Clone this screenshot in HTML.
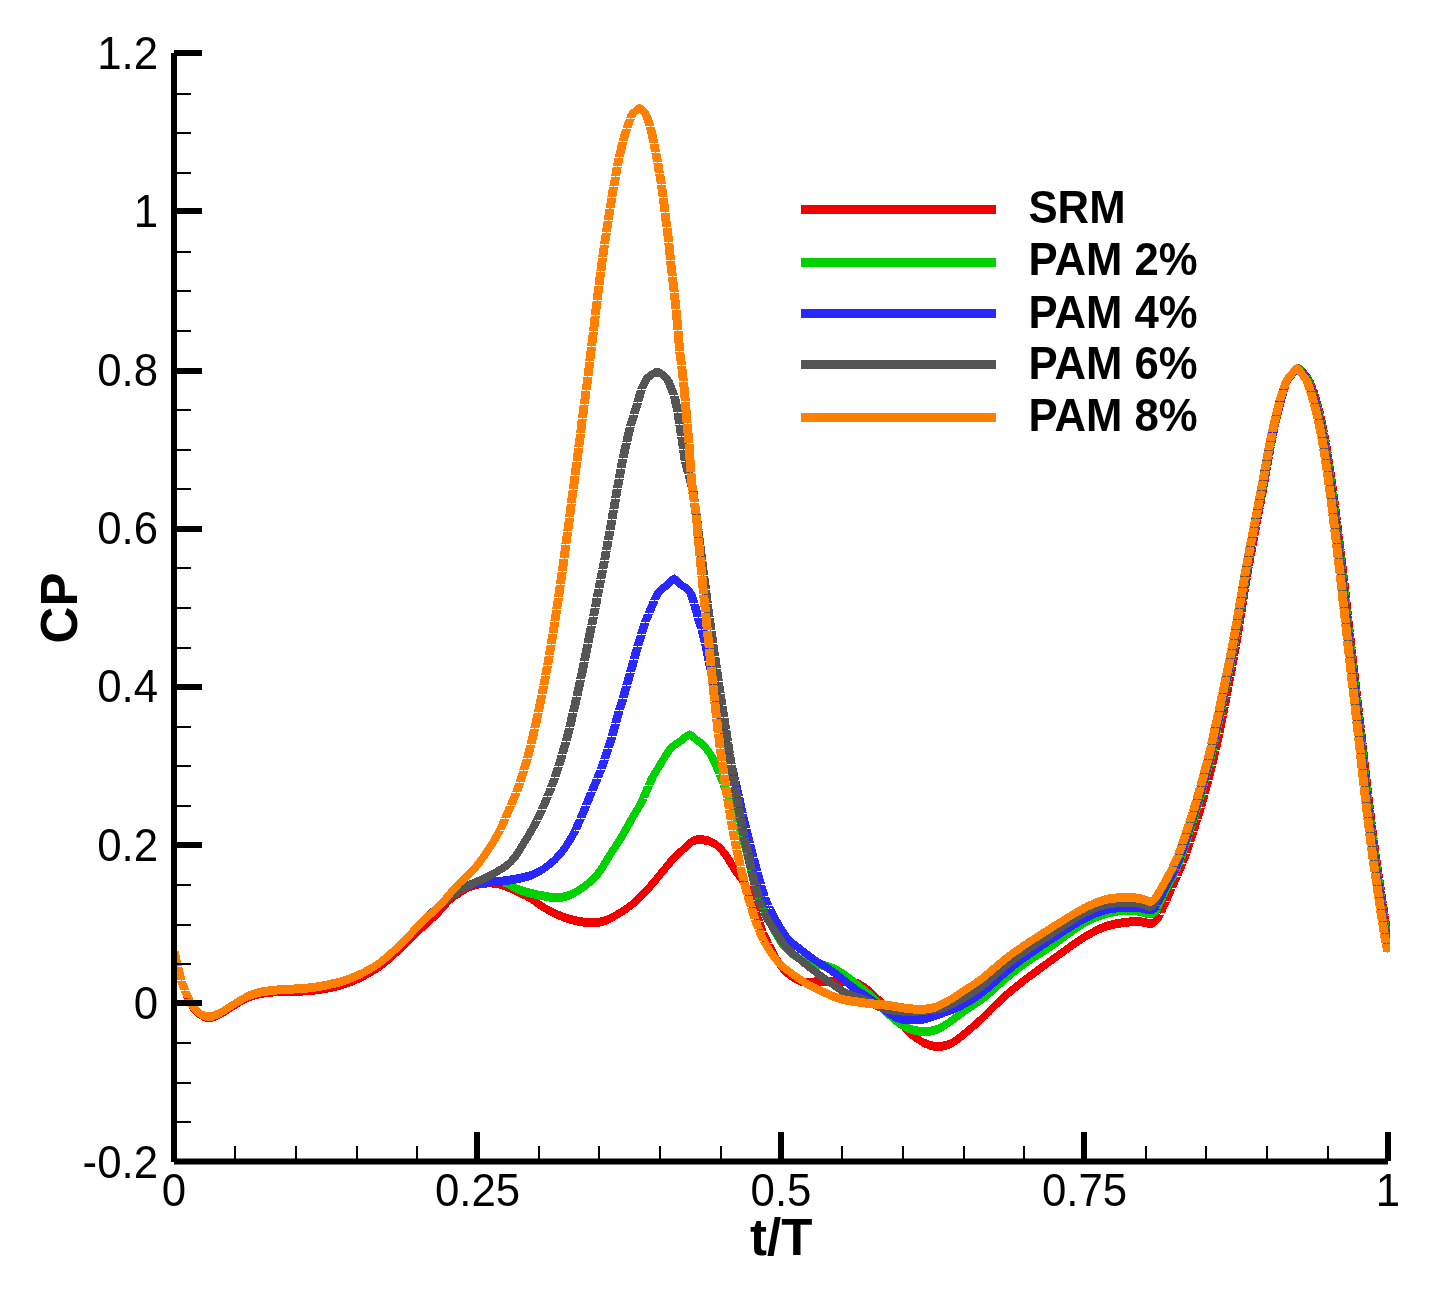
<!DOCTYPE html>
<html lang="en">
<head>
<meta charset="utf-8">
<title>CP vs t/T</title>
<style>
html,body{margin:0;padding:0;background:#fff;}
body{width:1449px;height:1299px;overflow:hidden;}
svg{display:block;}
text{font-family:"Liberation Sans",Arial,Helvetica,sans-serif;fill:#000;}
.n{font-size:46px;}
.t{font-size:51px;font-weight:bold;}
.l{font-size:45.5px;font-weight:bold;}
</style>
</head>
<body>
<svg width="1449" height="1299" viewBox="0 0 1449 1299">
<rect width="1449" height="1299" fill="#fff"/>
<defs><clipPath id="pc"><rect x="174" y="40" width="1216" height="1121"/></clipPath></defs>
<g clip-path="url(#pc)" shape-rendering="crispEdges">
<path fill="#f20000" d="M169.5,952L178.5,952L181.9,966L172.9,966ZM173.2,967L182.2,967L185.6,980L176.6,980ZM176.9,981L185.9,981L189.2,990L180.2,990ZM180.5,991L189.5,991L194.6,1002L185.6,1002ZM186.1,1003.2L187.9,1006.4L189.7,1009.1L191.6,1011.3L200.6,1011.3L198.7,1009.1L196.9,1006.4L195.1,1003.2ZM196.1,1006.8L197.9,1008.6L199.8,1010L201.6,1011.1L203.4,1012L205.3,1012.6L207.1,1013L208.9,1013.1L210.8,1013L212.6,1012.7L214.5,1012.1L216.3,1011.5L218.1,1010.6L220,1009.7L221.8,1008.7L223.7,1007.7L225.5,1006.5L227.3,1005.4L229.2,1004.2L231,1003L232.9,1001.8L234.7,1000.6L236.5,999.4L238.4,998.3L240.2,997.2L242.1,996.2L243.9,995.2L245.7,994.2L247.6,993.3L249.4,992.5L251.3,991.8L253.1,991.1L254.9,990.5L256.8,990L258.6,989.5L260.5,989.1L262.3,988.8L264.1,988.5L266,988.2L267.8,988L269.6,987.8L271.5,987.7L273.3,987.5L275.2,987.4L277,987.2L278.8,987.1L280.7,987L282.5,987L284.4,986.9L286.2,986.8L288,986.8L289.9,986.7L291.7,986.7L293.6,986.7L295.4,986.6L297.2,986.6L299.1,986.6L300.9,986.5L302.8,986.5L304.6,986.4L306.4,986.3L308.3,986.2L310.1,986L312,985.8L313.8,985.6L315.6,985.4L317.5,985.2L319.3,984.9L321.2,984.6L323,984.3L324.8,984L326.7,983.7L328.5,983.3L330.3,983L332.2,982.6L334,982.2L335.9,981.7L337.7,981.3L339.5,980.8L341.4,980.3L343.2,979.7L345.1,979.2L346.9,978.6L348.7,977.9L350.6,977.3L352.4,976.6L354.3,975.8L356.1,975L357.9,974.2L359.8,973.4L361.6,972.5L363.5,971.6L365.3,970.7L367.1,969.7L369,968.7L370.8,967.7L372.7,966.6L374.5,965.5L376.3,964.3L378.2,963L380,961.7L381.9,960.3L383.7,958.8L385.5,957.3L387.4,955.8L389.2,954.2L391,952.6L392.9,950.9L394.7,949.3L396.6,947.6L398.4,945.9L400.2,944.2L402.1,942.4L403.9,940.6L405.8,938.8L407.6,937L409.4,935.2L411.3,933.4L413.1,931.6L415,929.8L416.8,928L418.6,926.2L420.5,924.5L422.3,922.8L424.2,921.1L426,919.4L427.8,917.8L429.7,916.2L431.5,914.5L433.4,912.8L435.2,911L435.2,920L433.4,921.8L431.5,923.5L429.7,925.2L427.8,926.8L426,928.4L424.2,930.1L422.3,931.8L420.5,933.5L418.6,935.2L416.8,937L415,938.8L413.1,940.6L411.3,942.4L409.4,944.2L407.6,946L405.8,947.8L403.9,949.6L402.1,951.4L400.2,953.2L398.4,954.9L396.6,956.6L394.7,958.3L392.9,959.9L391,961.6L389.2,963.2L387.4,964.8L385.5,966.3L383.7,967.8L381.9,969.3L380,970.7L378.2,972L376.3,973.3L374.5,974.5L372.7,975.6L370.8,976.7L369,977.7L367.1,978.7L365.3,979.7L363.5,980.6L361.6,981.5L359.8,982.4L357.9,983.2L356.1,984L354.3,984.8L352.4,985.6L350.6,986.3L348.7,986.9L346.9,987.6L345.1,988.2L343.2,988.7L341.4,989.3L339.5,989.8L337.7,990.3L335.9,990.7L334,991.2L332.2,991.6L330.3,992L328.5,992.3L326.7,992.7L324.8,993L323,993.3L321.2,993.6L319.3,993.9L317.5,994.2L315.6,994.4L313.8,994.6L312,994.8L310.1,995L308.3,995.2L306.4,995.3L304.6,995.4L302.8,995.5L300.9,995.5L299.1,995.6L297.2,995.6L295.4,995.6L293.6,995.7L291.7,995.7L289.9,995.7L288,995.8L286.2,995.8L284.4,995.9L282.5,996L280.7,996L278.8,996.1L277,996.2L275.2,996.4L273.3,996.5L271.5,996.7L269.6,996.8L267.8,997L266,997.2L264.1,997.5L262.3,997.8L260.5,998.1L258.6,998.5L256.8,999L254.9,999.5L253.1,1000.1L251.3,1000.8L249.4,1001.5L247.6,1002.3L245.7,1003.2L243.9,1004.2L242.1,1005.2L240.2,1006.2L238.4,1007.3L236.5,1008.4L234.7,1009.6L232.9,1010.8L231,1012L229.2,1013.2L227.3,1014.4L225.5,1015.5L223.7,1016.7L221.8,1017.7L220,1018.7L218.1,1019.6L216.3,1020.5L214.5,1021.1L212.6,1021.7L210.8,1022L208.9,1022.1L207.1,1022L205.3,1021.6L203.4,1021L201.6,1020.1L199.8,1019L197.9,1017.6L196.1,1015.8ZM430.7,915.5L432.5,913.7L434.4,911.7L436.2,909.6L438.1,907.5L439.9,905.4L441.7,903.3L443.6,901.4L452.6,901.4L450.7,903.3L448.9,905.4L447.1,907.5L445.2,909.6L443.4,911.7L441.5,913.7L439.7,915.5ZM448.1,896.9L449.9,895.2L451.7,893.7L453.6,892.3L455.4,891.1L457.3,889.9L459.1,888.6L460.9,887.4L462.8,886.2L464.6,885.1L466.5,884L468.3,883L470.1,882.2L472,881.4L473.8,880.8L475.7,880.2L477.5,879.8L479.3,879.4L481.2,879.1L483,878.8L484.9,878.6L486.7,878.5L488.5,878.4L490.4,878.4L492.2,878.5L494.1,878.6L495.9,878.9L497.7,879.3L499.6,879.7L501.4,880.3L503.3,881L505.1,881.7L506.9,882.4L508.8,883.2L510.6,883.9L512.4,884.7L514.3,885.6L516.1,886.4L518,887.3L519.8,888.2L521.6,889.1L523.5,890L525.3,890.9L527.2,891.9L529,893L530.8,894.1L532.7,895.3L534.5,896.6L536.4,898L538.2,899.3L540,900.6L541.9,901.8L543.7,903L545.6,904.1L547.4,905.1L549.2,906.1L551.1,907L552.9,907.9L554.8,908.8L556.6,909.6L558.4,910.5L560.3,911.3L562.1,912.1L564,912.9L565.8,913.5L567.6,914.2L569.5,914.7L571.3,915.2L573.1,915.6L575,916L576.8,916.4L578.7,916.8L580.5,917.1L582.3,917.4L584.2,917.6L586,917.7L587.9,917.8L589.7,917.9L591.5,917.9L593.4,917.9L595.2,917.8L597.1,917.8L598.9,917.6L600.7,917.4L602.6,917L604.4,916.5L606.3,915.8L608.1,915L609.9,914L611.8,913L613.6,912L615.5,911L617.3,909.9L619.1,908.9L621,907.8L622.8,906.6L624.7,905.4L626.5,904.1L628.3,902.8L630.2,901.4L632,900L633.8,898.5L635.7,896.8L637.5,895.2L639.4,893.5L641.2,891.7L641.2,900.7L639.4,902.5L637.5,904.2L635.7,905.8L633.8,907.5L632,909L630.2,910.4L628.3,911.8L626.5,913.1L624.7,914.4L622.8,915.6L621,916.8L619.1,917.9L617.3,918.9L615.5,920L613.6,921L611.8,922L609.9,923L608.1,924L606.3,924.8L604.4,925.5L602.6,926L600.7,926.4L598.9,926.6L597.1,926.8L595.2,926.8L593.4,926.9L591.5,926.9L589.7,926.9L587.9,926.8L586,926.7L584.2,926.6L582.3,926.4L580.5,926.1L578.7,925.8L576.8,925.4L575,925L573.1,924.6L571.3,924.2L569.5,923.7L567.6,923.2L565.8,922.5L564,921.9L562.1,921.1L560.3,920.3L558.4,919.5L556.6,918.6L554.8,917.8L552.9,916.9L551.1,916L549.2,915.1L547.4,914.1L545.6,913.1L543.7,912L541.9,910.8L540,909.6L538.2,908.3L536.4,907L534.5,905.6L532.7,904.3L530.8,903.1L529,902L527.2,900.9L525.3,899.9L523.5,899L521.6,898.1L519.8,897.2L518,896.3L516.1,895.4L514.3,894.6L512.4,893.7L510.6,892.9L508.8,892.2L506.9,891.4L505.1,890.7L503.3,890L501.4,889.3L499.6,888.7L497.7,888.3L495.9,887.9L494.1,887.6L492.2,887.5L490.4,887.4L488.5,887.4L486.7,887.5L484.9,887.6L483,887.8L481.2,888.1L479.3,888.4L477.5,888.8L475.7,889.2L473.8,889.8L472,890.4L470.1,891.2L468.3,892L466.5,893L464.6,894.1L462.8,895.2L460.9,896.4L459.1,897.6L457.3,898.9L455.4,900.1L453.6,901.3L451.7,902.7L449.9,904.2L448.1,905.9ZM636.7,896.2L638.5,894.3L640.4,892.4L642.2,890.3L644.1,888.2L645.9,886.2L647.7,884.1L649.6,881.9L651.4,879.7L653.3,877.5L655.1,875.2L656.9,873L658.8,870.8L660.6,868.5L662.5,866.2L664.3,864L666.1,861.8L668,859.7L669.8,857.8L671.7,855.9L680.7,855.9L678.8,857.8L677,859.7L675.1,861.8L673.3,864L671.5,866.2L669.6,868.5L667.8,870.8L665.9,873L664.1,875.2L662.3,877.5L660.4,879.7L658.6,881.9L656.7,884.1L654.9,886.2L653.1,888.2L651.2,890.3L649.4,892.4L647.5,894.3L645.7,896.2ZM676.2,851.4L678,849.7L679.8,847.9L681.7,846.3L683.5,844.6L685.4,842.8L687.2,841L689,839.2L690.9,837.7L692.7,836.6L694.5,835.9L696.4,835.3L698.2,835.1L700.1,835.1L701.9,835.3L703.7,835.4L705.6,835.7L707.4,836.1L709.3,836.7L711.1,837.4L712.9,838.3L714.8,839.4L716.6,840.7L718.5,842.2L720.3,844L720.3,853L718.5,851.2L716.6,849.7L714.8,848.4L712.9,847.3L711.1,846.4L709.3,845.7L707.4,845.1L705.6,844.7L703.7,844.4L701.9,844.3L700.1,844.1L698.2,844.1L696.4,844.3L694.5,844.9L692.7,845.6L690.9,846.7L689,848.2L687.2,850L685.4,851.8L683.5,853.6L681.7,855.3L679.8,856.9L678,858.7L676.2,860.4ZM715.8,848.5L717.6,850.5L719.5,852.7L721.3,855.3L723.2,858L725,860.9L726.8,864L728.7,867L730.5,870L732.4,872.7L734.2,875.2L736,877.7L737.9,880.3L739.7,883.1L741.6,886.5L750.6,886.5L748.7,883.1L746.9,880.3L745,877.7L743.2,875.2L741.4,872.7L739.5,870L737.7,867L735.8,864L734,860.9L732.2,858L730.3,855.3L728.5,852.7L726.6,850.5L724.8,848.5ZM741.6,887L750.6,887L755.7,900L746.7,900ZM747.1,901L756.1,901L759.4,911L750.4,911ZM750.7,912L759.7,912L763.1,921L754.1,921ZM754.4,922L763.4,922L766.7,931L757.7,931ZM758.1,932L767.1,932L772.2,943L763.2,943ZM763.6,944L772.6,944L773.9,946L764.9,946ZM765.5,947.2L767.3,950.8L769.1,954.2L771,957.5L772.8,960.6L774.7,963.4L776.5,966L778.3,968.4L780.2,970.5L782,972.4L791,972.4L789.2,970.5L787.3,968.4L785.5,966L783.7,963.4L781.8,960.6L780,957.5L778.1,954.2L776.3,950.8L774.5,947.2ZM786.5,967.9L788.4,969.5L790.2,971L792,972.3L793.9,973.5L795.7,974.5L797.6,975.4L799.4,976.2L801.2,976.8L803.1,977.3L804.9,977.6L806.8,977.7L808.6,977.8L810.4,977.7L812.3,977.7L814.1,977.5L815.9,977.4L817.8,977.3L819.6,977.2L821.5,977.1L823.3,977L825.1,976.9L827,976.9L828.8,976.9L830.7,976.8L832.5,976.8L834.3,976.8L836.2,976.8L838,976.8L839.9,976.8L841.7,976.8L843.5,976.8L845.4,976.8L847.2,976.8L849.1,977L850.9,977.2L852.7,977.5L854.6,978L856.4,978.6L858.3,979.3L860.1,980.2L861.9,981.3L863.8,982.4L865.6,983.7L867.5,985.2L869.3,986.7L871.1,988.4L873,990.1L874.8,991.8L876.6,993.6L878.5,995.3L880.3,997L882.2,998.6L884,1000.3L885.8,1002L887.7,1003.8L889.5,1005.6L889.5,1014.6L887.7,1012.8L885.8,1011L884,1009.3L882.2,1007.6L880.3,1006L878.5,1004.3L876.6,1002.6L874.8,1000.8L873,999.1L871.1,997.4L869.3,995.7L867.5,994.2L865.6,992.7L863.8,991.4L861.9,990.3L860.1,989.2L858.3,988.3L856.4,987.6L854.6,987L852.7,986.5L850.9,986.2L849.1,986L847.2,985.8L845.4,985.8L843.5,985.8L841.7,985.8L839.9,985.8L838,985.8L836.2,985.8L834.3,985.8L832.5,985.8L830.7,985.8L828.8,985.9L827,985.9L825.1,985.9L823.3,986L821.5,986.1L819.6,986.2L817.8,986.3L815.9,986.4L814.1,986.5L812.3,986.7L810.4,986.7L808.6,986.8L806.8,986.7L804.9,986.6L803.1,986.3L801.2,985.8L799.4,985.2L797.6,984.4L795.7,983.5L793.9,982.5L792,981.3L790.2,980L788.4,978.5L786.5,976.9ZM885,1010.1L886.9,1011.9L888.7,1013.9L890.5,1015.9L892.4,1017.9L894.2,1020.1L896.1,1022.3L897.9,1024.5L899.7,1026.7L901.6,1028.9L903.4,1030.9L905.3,1032.7L914.3,1032.7L912.4,1030.9L910.6,1028.9L908.7,1026.7L906.9,1024.5L905.1,1022.3L903.2,1020.1L901.4,1017.9L899.5,1015.9L897.7,1013.9L895.9,1011.9L894,1010.1ZM909.8,1028.2L911.6,1029.9L913.4,1031.4L915.3,1032.9L917.1,1034.2L919,1035.4L920.8,1036.5L922.6,1037.6L924.5,1038.5L926.3,1039.4L928.2,1040.1L930,1040.7L931.8,1041.2L933.7,1041.6L935.5,1041.8L937.3,1041.9L939.2,1041.9L941,1041.8L942.9,1041.6L944.7,1041.2L946.5,1040.7L948.4,1040.1L950.2,1039.3L952.1,1038.4L953.9,1037.3L955.7,1036.1L957.6,1034.8L959.4,1033.4L961.3,1031.9L963.1,1030.4L964.9,1028.9L966.8,1027.4L968.6,1025.8L970.5,1024.3L972.3,1022.7L974.1,1021.1L976,1019.5L977.8,1017.9L979.7,1016.2L981.5,1014.5L983.3,1012.7L985.2,1010.9L985.2,1019.9L983.3,1021.7L981.5,1023.5L979.7,1025.2L977.8,1026.9L976,1028.5L974.1,1030.1L972.3,1031.7L970.5,1033.3L968.6,1034.8L966.8,1036.4L964.9,1037.9L963.1,1039.4L961.3,1040.9L959.4,1042.4L957.6,1043.8L955.7,1045.1L953.9,1046.3L952.1,1047.4L950.2,1048.3L948.4,1049.1L946.5,1049.7L944.7,1050.2L942.9,1050.6L941,1050.8L939.2,1050.9L937.3,1050.9L935.5,1050.8L933.7,1050.6L931.8,1050.2L930,1049.7L928.2,1049.1L926.3,1048.4L924.5,1047.5L922.6,1046.6L920.8,1045.5L919,1044.4L917.1,1043.2L915.3,1041.9L913.4,1040.4L911.6,1038.9L909.8,1037.2ZM980.7,1015.4L982.5,1013.5L984.4,1011.7L986.2,1009.8L988,1008L997,1008L995.2,1009.8L993.4,1011.7L991.5,1013.5L989.7,1015.4ZM992.5,1003.5L994.4,1001.6L996.2,999.9L998,998.1L999.9,996.4L1001.7,994.6L1003.6,993L1005.4,991.3L1007.2,989.7L1009.1,988.1L1010.9,986.5L1012.8,985L1014.6,983.5L1016.4,982L1018.3,980.5L1020.1,979.1L1022,977.6L1023.8,976.2L1025.6,974.8L1027.5,973.4L1029.3,972.1L1031.2,970.7L1033,969.3L1034.8,967.9L1036.7,966.6L1038.5,965.2L1040.4,963.9L1042.2,962.5L1044,961.2L1045.9,959.8L1047.7,958.5L1049.6,957.1L1051.4,955.8L1053.2,954.4L1055.1,953.1L1056.9,951.8L1058.7,950.4L1060.6,949.1L1062.4,947.8L1064.3,946.5L1066.1,945.1L1067.9,943.8L1069.8,942.5L1071.6,941.2L1073.5,939.9L1075.3,938.6L1077.1,937.4L1079,936.1L1080.8,934.9L1082.7,933.7L1084.5,932.5L1086.3,931.4L1088.2,930.3L1090,929.3L1091.9,928.3L1093.7,927.3L1095.5,926.4L1097.4,925.5L1099.2,924.6L1101.1,923.8L1102.9,923.1L1104.7,922.4L1106.6,921.8L1108.4,921.2L1110.3,920.7L1112.1,920.2L1113.9,919.8L1115.8,919.4L1117.6,919.1L1119.4,918.7L1121.3,918.4L1123.1,918.1L1125,917.9L1126.8,917.7L1128.6,917.5L1130.5,917.3L1132.3,917.2L1134.2,917.1L1136,917.1L1137.8,917.2L1139.7,917.2L1141.5,917.4L1143.4,917.8L1145.2,918.2L1147,918.6L1148.9,919.1L1150.7,919.3L1152.6,918.8L1154.4,917.6L1156.2,915.8L1156.2,924.8L1154.4,926.6L1152.6,927.8L1150.7,928.3L1148.9,928.1L1147,927.6L1145.2,927.2L1143.4,926.8L1141.5,926.4L1139.7,926.2L1137.8,926.2L1136,926.1L1134.2,926.1L1132.3,926.2L1130.5,926.3L1128.6,926.5L1126.8,926.7L1125,926.9L1123.1,927.1L1121.3,927.4L1119.4,927.7L1117.6,928.1L1115.8,928.4L1113.9,928.8L1112.1,929.2L1110.3,929.7L1108.4,930.2L1106.6,930.8L1104.7,931.4L1102.9,932.1L1101.1,932.8L1099.2,933.6L1097.4,934.5L1095.5,935.4L1093.7,936.3L1091.9,937.3L1090,938.3L1088.2,939.3L1086.3,940.4L1084.5,941.5L1082.7,942.7L1080.8,943.9L1079,945.1L1077.1,946.4L1075.3,947.6L1073.5,948.9L1071.6,950.2L1069.8,951.5L1067.9,952.8L1066.1,954.1L1064.3,955.5L1062.4,956.8L1060.6,958.1L1058.7,959.4L1056.9,960.8L1055.1,962.1L1053.2,963.4L1051.4,964.8L1049.6,966.1L1047.7,967.5L1045.9,968.8L1044,970.2L1042.2,971.5L1040.4,972.9L1038.5,974.2L1036.7,975.6L1034.8,976.9L1033,978.3L1031.2,979.7L1029.3,981.1L1027.5,982.4L1025.6,983.8L1023.8,985.2L1022,986.6L1020.1,988.1L1018.3,989.5L1016.4,991L1014.6,992.5L1012.8,994L1010.9,995.5L1009.1,997.1L1007.2,998.7L1005.4,1000.3L1003.6,1002L1001.7,1003.6L999.9,1005.4L998,1007.1L996.2,1008.9L994.4,1010.6L992.5,1012.5ZM1151.7,920.3L1153.6,917.8L1155.4,914.5L1164.4,914.5L1162.6,917.8L1160.7,920.3ZM1155.9,913L1164.9,913L1169.9,902L1160.9,902ZM1161.4,901L1170.4,901L1175.5,889L1166.5,889ZM1166.9,888L1175.9,888L1181,877L1172,877ZM1172.4,876L1181.4,876L1186.5,864L1177.5,864ZM1177.9,863L1186.9,863L1190.2,854L1181.2,854ZM1181.5,853L1190.5,853L1193.8,843L1184.8,843ZM1185.2,842L1194.2,842L1197.5,832L1188.5,832ZM1188.8,831L1197.8,831L1201.2,820L1192.2,820ZM1192.5,819L1201.5,819L1204.9,808L1195.9,808ZM1196.2,807L1205.2,807L1208.6,795L1199.6,795ZM1199.8,794L1208.8,794L1212.2,781L1203.2,781ZM1203.5,780L1212.5,780L1215.9,766L1206.9,766ZM1207.2,765L1216.2,765L1219.6,751L1210.6,751ZM1210.8,750L1219.8,750L1223.3,734L1214.3,734ZM1214.5,733L1223.5,733L1227,716L1218,716ZM1218.2,715L1227.2,715L1228.8,707L1219.8,707ZM1220,706L1229,706L1230.6,697L1221.6,697ZM1221.8,696L1230.8,696L1232.5,687L1223.5,687ZM1223.7,686L1232.7,686L1234.3,677L1225.3,677ZM1225.5,676L1234.5,676L1236.2,667L1227.2,667ZM1227.3,666L1236.3,666L1238,657L1229,657ZM1229.2,656L1238.2,656L1239.8,647L1230.8,647ZM1231,646L1240,646L1241.7,636L1232.7,636ZM1232.8,635L1241.8,635L1243.5,625L1234.5,625ZM1234.7,624L1243.7,624L1245.3,613L1236.3,613ZM1236.5,612L1245.5,612L1247.2,601L1238.2,601ZM1238.3,600L1247.3,600L1249,589L1240,589ZM1240.2,588L1249.2,588L1250.9,578L1241.9,578ZM1242,577L1251,577L1252.7,567L1243.7,567ZM1243.9,566L1252.9,566L1254.5,557L1245.5,557ZM1245.7,556L1254.7,556L1256.4,547L1247.4,547ZM1247.6,546L1256.6,546L1258.2,537L1249.2,537ZM1249.4,536L1258.4,536L1260.1,527L1251.1,527ZM1251.2,526L1260.2,526L1261.9,517L1252.9,517ZM1253.1,516L1262.1,516L1263.7,508L1254.7,508ZM1254.9,507L1263.9,507L1265.6,498L1256.6,498ZM1256.8,497L1265.8,497L1267.4,488L1258.4,488ZM1258.6,487L1267.6,487L1269.3,478L1260.3,478ZM1260.4,477L1269.4,477L1271.1,467L1262.1,467ZM1262.3,466L1271.3,466L1272.9,457L1263.9,457ZM1264.1,456L1273.1,456L1274.8,447L1265.8,447ZM1266,446L1275,446L1276.6,437L1267.6,437ZM1267.8,436L1276.8,436L1278.5,428L1269.5,428ZM1269.7,427L1278.7,427L1282.1,412L1273.1,412ZM1273.4,411L1282.4,411L1285.8,398L1276.8,398ZM1277.1,397L1286.1,397L1289.5,386L1280.5,386ZM1280.9,385L1289.9,385L1291.3,381L1282.3,381ZM1282.3,381.1L1284.2,377.9L1286,376.1L1287.9,374.2L1289.7,372.1L1291.5,370L1300.5,370L1298.7,372.1L1296.9,374.2L1295,376.1L1293.2,377.9L1291.3,381.1ZM1296,365.5L1297.9,364.2L1299.7,364.2L1301.5,365.7L1301.5,374.7L1299.7,373.2L1297.9,373.2L1296,374.5ZM1297,370.2L1298.9,372.6L1300.7,375L1302.6,377.3L1304.4,380.3L1313.4,380.3L1311.6,377.3L1309.7,375L1307.9,372.6L1306,370.2ZM1304.4,380L1313.4,380L1316.7,388L1307.7,388ZM1308.1,389L1317.1,389L1320.5,400L1311.5,400ZM1311.8,401L1320.8,401L1324.2,414L1315.2,414ZM1315.4,415L1324.4,415L1327.9,432L1318.9,432ZM1319.1,433L1328.1,433L1329.8,442L1320.8,442ZM1321,443L1330,443L1331.6,453L1322.6,453ZM1322.8,454L1331.8,454L1333.5,465L1324.5,465ZM1324.6,466L1333.6,466L1335.3,478L1326.3,478ZM1326.5,479L1335.5,479L1337.2,491L1328.2,491ZM1328.3,492L1337.3,492L1339,505L1330,505ZM1330.2,506L1339.2,506L1340.9,520L1331.9,520ZM1332,521L1341,521L1342.7,535L1333.7,535ZM1333.8,536L1342.8,536L1344.6,550L1335.6,550ZM1335.7,551L1344.7,551L1346.4,565L1337.4,565ZM1337.5,566L1346.5,566L1348.2,581L1339.2,581ZM1339.4,582L1348.4,582L1350.1,598L1341.1,598ZM1341.2,599L1350.2,599L1351.9,615L1342.9,615ZM1343,616L1352,616L1353.8,632L1344.8,632ZM1344.9,633L1353.9,633L1355.6,648L1346.6,648ZM1346.7,649L1355.7,649L1357.4,664L1348.4,664ZM1348.6,665L1357.6,665L1359.3,680L1350.3,680ZM1350.4,681L1359.4,681L1361.1,696L1352.1,696ZM1352.2,697L1361.2,697L1363,712L1354,712ZM1354.1,713L1363.1,713L1364.8,728L1355.8,728ZM1355.9,729L1364.9,729L1366.6,744L1357.6,744ZM1357.7,745L1366.7,745L1368.5,761L1359.5,761ZM1359.6,762L1368.6,762L1370.3,777L1361.3,777ZM1361.4,778L1370.4,778L1372.2,794L1363.2,794ZM1363.3,795L1372.3,795L1374,809L1365,809ZM1365.1,810L1374.1,810L1375.8,824L1366.8,824ZM1366.9,825L1375.9,825L1377.7,839L1368.7,839ZM1368.8,840L1377.8,840L1379.5,853L1370.5,853ZM1370.6,854L1379.6,854L1381.3,866L1372.3,866ZM1372.5,867L1381.5,867L1383.1,878L1374.1,878ZM1374.3,879L1383.3,879L1385,890L1376,890ZM1376.1,891L1385.1,891L1386.8,903L1377.8,903ZM1378,904L1387,904L1388.7,915L1379.7,915ZM1379.8,916L1388.8,916L1390.5,927L1381.5,927ZM1381.7,928L1390.7,928L1392.3,938L1383.3,938Z"/>
<path fill="none" stroke="#f20000" stroke-width="7.7" stroke-linejoin="round" d="M190.6,1003.2L192.4,1006.4L194.2,1009.1L196.1,1011.3L197.9,1013.1L199.8,1014.5L201.6,1015.6L203.4,1016.5L205.3,1017.1L207.1,1017.5L208.9,1017.6L210.8,1017.5L212.6,1017.2L214.5,1016.6L216.3,1016L218.1,1015.1L220,1014.2L221.8,1013.2L223.7,1012.2L225.5,1011L227.3,1009.9L229.2,1008.7L231,1007.5L232.9,1006.3L234.7,1005.1L236.5,1003.9L238.4,1002.8L240.2,1001.7L242.1,1000.7L243.9,999.7L245.7,998.7L247.6,997.8L249.4,997L251.3,996.3L253.1,995.6L254.9,995L256.8,994.5L258.6,994L260.5,993.6L262.3,993.3L264.1,993L266,992.7L267.8,992.5L269.6,992.3L271.5,992.2L273.3,992L275.2,991.9L277,991.7L278.8,991.6L280.7,991.5L282.5,991.5L284.4,991.4L286.2,991.3L288,991.3L289.9,991.2L291.7,991.2L293.6,991.2L295.4,991.1L297.2,991.1L299.1,991.1L300.9,991L302.8,991L304.6,990.9L306.4,990.8L308.3,990.7L310.1,990.5L312,990.3L313.8,990.1L315.6,989.9L317.5,989.7L319.3,989.4L321.2,989.1L323,988.8L324.8,988.5L326.7,988.2L328.5,987.8L330.3,987.5L332.2,987.1L334,986.7L335.9,986.2L337.7,985.8L339.5,985.3L341.4,984.8L343.2,984.2L345.1,983.7L346.9,983.1L348.7,982.4L350.6,981.8L352.4,981.1L354.3,980.3L356.1,979.5L357.9,978.7L359.8,977.9L361.6,977L363.5,976.1L365.3,975.2L367.1,974.2L369,973.2L370.8,972.2L372.7,971.1L374.5,970L376.3,968.8L378.2,967.5L380,966.2L381.9,964.8L383.7,963.3L385.5,961.8L387.4,960.3L389.2,958.7L391,957.1L392.9,955.4L394.7,953.8L396.6,952.1L398.4,950.4L400.2,948.7L402.1,946.9L403.9,945.1L405.8,943.3L407.6,941.5L409.4,939.7L411.3,937.9L413.1,936.1L415,934.3L416.8,932.5L418.6,930.7L420.5,929L422.3,927.3L424.2,925.6L426,923.9L427.8,922.3L429.7,920.7L431.5,919L433.4,917.3L435.2,915.5L437,913.7L438.9,911.7L440.7,909.6L442.6,907.5L444.4,905.4L446.2,903.3L448.1,901.4L449.9,899.7L451.7,898.2L453.6,896.8L455.4,895.6L457.3,894.4L459.1,893.1L460.9,891.9L462.8,890.7L464.6,889.6L466.5,888.5L468.3,887.5L470.1,886.7L472,885.9L473.8,885.3L475.7,884.7L477.5,884.3L479.3,883.9L481.2,883.6L483,883.3L484.9,883.1L486.7,883L488.5,882.9L490.4,882.9L492.2,883L494.1,883.1L495.9,883.4L497.7,883.8L499.6,884.2L501.4,884.8L503.3,885.5L505.1,886.2L506.9,886.9L508.8,887.7L510.6,888.4L512.4,889.2L514.3,890.1L516.1,890.9L518,891.8L519.8,892.7L521.6,893.6L523.5,894.5L525.3,895.4L527.2,896.4L529,897.5L530.8,898.6L532.7,899.8L534.5,901.1L536.4,902.5L538.2,903.8L540,905.1L541.9,906.3L543.7,907.5L545.6,908.6L547.4,909.6L549.2,910.6L551.1,911.5L552.9,912.4L554.8,913.3L556.6,914.1L558.4,915L560.3,915.8L562.1,916.6L564,917.4L565.8,918L567.6,918.7L569.5,919.2L571.3,919.7L573.1,920.1L575,920.5L576.8,920.9L578.7,921.3L580.5,921.6L582.3,921.9L584.2,922.1L586,922.2L587.9,922.3L589.7,922.4L591.5,922.4L593.4,922.4L595.2,922.3L597.1,922.3L598.9,922.1L600.7,921.9L602.6,921.5L604.4,921L606.3,920.3L608.1,919.5L609.9,918.5L611.8,917.5L613.6,916.5L615.5,915.5L617.3,914.4L619.1,913.4L621,912.3L622.8,911.1L624.7,909.9L626.5,908.6L628.3,907.3L630.2,905.9L632,904.5L633.8,903L635.7,901.3L637.5,899.7L639.4,898L641.2,896.2L643,894.3L644.9,892.4L646.7,890.3L648.6,888.2L650.4,886.2L652.2,884.1L654.1,881.9L655.9,879.7L657.8,877.5L659.6,875.2L661.4,873L663.3,870.8L665.1,868.5L667,866.2L668.8,864L670.6,861.8L672.5,859.7L674.3,857.8L676.2,855.9L678,854.2L679.8,852.4L681.7,850.8L683.5,849.1L685.4,847.3L687.2,845.5L689,843.7L690.9,842.2L692.7,841.1L694.5,840.4L696.4,839.8L698.2,839.6L700.1,839.6L701.9,839.8L703.7,839.9L705.6,840.2L707.4,840.6L709.3,841.2L711.1,841.9L712.9,842.8L714.8,843.9L716.6,845.2L718.5,846.7L720.3,848.5L722.1,850.5L724,852.7L725.8,855.3L727.7,858L729.5,860.9L731.3,864L733.2,867L735,870L736.9,872.7L738.7,875.2L740.5,877.7L742.4,880.3L744.2,883.1L746.1,886.5M770,947.2L771.8,950.8L773.6,954.2L775.5,957.5L777.3,960.6L779.2,963.4L781,966L782.8,968.4L784.7,970.5L786.5,972.4L788.4,974L790.2,975.5L792,976.8L793.9,978L795.7,979L797.6,979.9L799.4,980.7L801.2,981.3L803.1,981.8L804.9,982.1L806.8,982.2L808.6,982.3L810.4,982.2L812.3,982.2L814.1,982L815.9,981.9L817.8,981.8L819.6,981.7L821.5,981.6L823.3,981.5L825.1,981.4L827,981.4L828.8,981.4L830.7,981.3L832.5,981.3L834.3,981.3L836.2,981.3L838,981.3L839.9,981.3L841.7,981.3L843.5,981.3L845.4,981.3L847.2,981.3L849.1,981.5L850.9,981.7L852.7,982L854.6,982.5L856.4,983.1L858.3,983.8L860.1,984.7L861.9,985.8L863.8,986.9L865.6,988.2L867.5,989.7L869.3,991.2L871.1,992.9L873,994.6L874.8,996.3L876.6,998.1L878.5,999.8L880.3,1001.5L882.2,1003.1L884,1004.8L885.8,1006.5L887.7,1008.3L889.5,1010.1L891.4,1011.9L893.2,1013.9L895,1015.9L896.9,1017.9L898.7,1020.1L900.6,1022.3L902.4,1024.5L904.2,1026.7L906.1,1028.9L907.9,1030.9L909.8,1032.7L911.6,1034.4L913.4,1035.9L915.3,1037.4L917.1,1038.7L919,1039.9L920.8,1041L922.6,1042.1L924.5,1043L926.3,1043.9L928.2,1044.6L930,1045.2L931.8,1045.7L933.7,1046.1L935.5,1046.3L937.3,1046.4L939.2,1046.4L941,1046.3L942.9,1046.1L944.7,1045.7L946.5,1045.2L948.4,1044.6L950.2,1043.8L952.1,1042.9L953.9,1041.8L955.7,1040.6L957.6,1039.3L959.4,1037.9L961.3,1036.4L963.1,1034.9L964.9,1033.4L966.8,1031.9L968.6,1030.3L970.5,1028.8L972.3,1027.2L974.1,1025.6L976,1024L977.8,1022.4L979.7,1020.7L981.5,1019L983.3,1017.2L985.2,1015.4L987,1013.5L988.9,1011.7L990.7,1009.8L992.5,1008L994.4,1006.1L996.2,1004.4L998,1002.6L999.9,1000.9L1001.7,999.1L1003.6,997.5L1005.4,995.8L1007.2,994.2L1009.1,992.6L1010.9,991L1012.8,989.5L1014.6,988L1016.4,986.5L1018.3,985L1020.1,983.6L1022,982.1L1023.8,980.7L1025.6,979.3L1027.5,977.9L1029.3,976.6L1031.2,975.2L1033,973.8L1034.8,972.4L1036.7,971.1L1038.5,969.7L1040.4,968.4L1042.2,967L1044,965.7L1045.9,964.3L1047.7,963L1049.6,961.6L1051.4,960.3L1053.2,958.9L1055.1,957.6L1056.9,956.3L1058.7,954.9L1060.6,953.6L1062.4,952.3L1064.3,951L1066.1,949.6L1067.9,948.3L1069.8,947L1071.6,945.7L1073.5,944.4L1075.3,943.1L1077.1,941.9L1079,940.6L1080.8,939.4L1082.7,938.2L1084.5,937L1086.3,935.9L1088.2,934.8L1090,933.8L1091.9,932.8L1093.7,931.8L1095.5,930.9L1097.4,930L1099.2,929.1L1101.1,928.3L1102.9,927.6L1104.7,926.9L1106.6,926.3L1108.4,925.7L1110.3,925.2L1112.1,924.7L1113.9,924.3L1115.8,923.9L1117.6,923.6L1119.4,923.2L1121.3,922.9L1123.1,922.6L1125,922.4L1126.8,922.2L1128.6,922L1130.5,921.8L1132.3,921.7L1134.2,921.6L1136,921.6L1137.8,921.7L1139.7,921.7L1141.5,921.9L1143.4,922.3L1145.2,922.7L1147,923.1L1148.9,923.6L1150.7,923.8L1152.6,923.3L1154.4,922.1L1156.2,920.3L1158.1,917.8L1159.9,914.5M1286.8,381.1L1288.7,377.9L1290.5,376.1L1292.4,374.2L1294.2,372.1L1296,370L1297.9,368.7L1299.7,368.7L1301.5,370.2L1303.4,372.6L1305.2,375L1307.1,377.3L1308.9,380.3"/>
<path fill="none" stroke="#f20000" stroke-width="1" d="M174,952L175.8,959.1L177.7,967.1L179.5,974.7L181.4,981.2L183.2,986.6L185,991.3L186.9,995.5L188.7,999.4L190.6,1003.2L192.4,1006.4L194.2,1009.1L196.1,1011.3L197.9,1013.1L199.8,1014.5L201.6,1015.6L203.4,1016.5L205.3,1017.1L207.1,1017.5L208.9,1017.6L210.8,1017.5L212.6,1017.2L214.5,1016.6L216.3,1016L218.1,1015.1L220,1014.2L221.8,1013.2L223.7,1012.2L225.5,1011L227.3,1009.9L229.2,1008.7L231,1007.5L232.9,1006.3L234.7,1005.1L236.5,1003.9L238.4,1002.8L240.2,1001.7L242.1,1000.7L243.9,999.7L245.7,998.7L247.6,997.8L249.4,997L251.3,996.3L253.1,995.6L254.9,995L256.8,994.5L258.6,994L260.5,993.6L262.3,993.3L264.1,993L266,992.7L267.8,992.5L269.6,992.3L271.5,992.2L273.3,992L275.2,991.9L277,991.7L278.8,991.6L280.7,991.5L282.5,991.5L284.4,991.4L286.2,991.3L288,991.3L289.9,991.2L291.7,991.2L293.6,991.2L295.4,991.1L297.2,991.1L299.1,991.1L300.9,991L302.8,991L304.6,990.9L306.4,990.8L308.3,990.7L310.1,990.5L312,990.3L313.8,990.1L315.6,989.9L317.5,989.7L319.3,989.4L321.2,989.1L323,988.8L324.8,988.5L326.7,988.2L328.5,987.8L330.3,987.5L332.2,987.1L334,986.7L335.9,986.2L337.7,985.8L339.5,985.3L341.4,984.8L343.2,984.2L345.1,983.7L346.9,983.1L348.7,982.4L350.6,981.8L352.4,981.1L354.3,980.3L356.1,979.5L357.9,978.7L359.8,977.9L361.6,977L363.5,976.1L365.3,975.2L367.1,974.2L369,973.2L370.8,972.2L372.7,971.1L374.5,970L376.3,968.8L378.2,967.5L380,966.2L381.9,964.8L383.7,963.3L385.5,961.8L387.4,960.3L389.2,958.7L391,957.1L392.9,955.4L394.7,953.8L396.6,952.1L398.4,950.4L400.2,948.7L402.1,946.9L403.9,945.1L405.8,943.3L407.6,941.5L409.4,939.7L411.3,937.9L413.1,936.1L415,934.3L416.8,932.5L418.6,930.7L420.5,929L422.3,927.3L424.2,925.6L426,923.9L427.8,922.3L429.7,920.7L431.5,919L433.4,917.3L435.2,915.5L437,913.7L438.9,911.7L440.7,909.6L442.6,907.5L444.4,905.4L446.2,903.3L448.1,901.4L449.9,899.7L451.7,898.2L453.6,896.8L455.4,895.6L457.3,894.4L459.1,893.1L460.9,891.9L462.8,890.7L464.6,889.6L466.5,888.5L468.3,887.5L470.1,886.7L472,885.9L473.8,885.3L475.7,884.7L477.5,884.3L479.3,883.9L481.2,883.6L483,883.3L484.9,883.1L486.7,883L488.5,882.9L490.4,882.9L492.2,883L494.1,883.1L495.9,883.4L497.7,883.8L499.6,884.2L501.4,884.8L503.3,885.5L505.1,886.2L506.9,886.9L508.8,887.7L510.6,888.4L512.4,889.2L514.3,890.1L516.1,890.9L518,891.8L519.8,892.7L521.6,893.6L523.5,894.5L525.3,895.4L527.2,896.4L529,897.5L530.8,898.6L532.7,899.8L534.5,901.1L536.4,902.5L538.2,903.8L540,905.1L541.9,906.3L543.7,907.5L545.6,908.6L547.4,909.6L549.2,910.6L551.1,911.5L552.9,912.4L554.8,913.3L556.6,914.1L558.4,915L560.3,915.8L562.1,916.6L564,917.4L565.8,918L567.6,918.7L569.5,919.2L571.3,919.7L573.1,920.1L575,920.5L576.8,920.9L578.7,921.3L580.5,921.6L582.3,921.9L584.2,922.1L586,922.2L587.9,922.3L589.7,922.4L591.5,922.4L593.4,922.4L595.2,922.3L597.1,922.3L598.9,922.1L600.7,921.9L602.6,921.5L604.4,921L606.3,920.3L608.1,919.5L609.9,918.5L611.8,917.5L613.6,916.5L615.5,915.5L617.3,914.4L619.1,913.4L621,912.3L622.8,911.1L624.7,909.9L626.5,908.6L628.3,907.3L630.2,905.9L632,904.5L633.8,903L635.7,901.3L637.5,899.7L639.4,898L641.2,896.2L643,894.3L644.9,892.4L646.7,890.3L648.6,888.2L650.4,886.2L652.2,884.1L654.1,881.9L655.9,879.7L657.8,877.5L659.6,875.2L661.4,873L663.3,870.8L665.1,868.5L667,866.2L668.8,864L670.6,861.8L672.5,859.7L674.3,857.8L676.2,855.9L678,854.2L679.8,852.4L681.7,850.8L683.5,849.1L685.4,847.3L687.2,845.5L689,843.7L690.9,842.2L692.7,841.1L694.5,840.4L696.4,839.8L698.2,839.6L700.1,839.6L701.9,839.8L703.7,839.9L705.6,840.2L707.4,840.6L709.3,841.2L711.1,841.9L712.9,842.8L714.8,843.9L716.6,845.2L718.5,846.7L720.3,848.5L722.1,850.5L724,852.7L725.8,855.3L727.7,858L729.5,860.9L731.3,864L733.2,867L735,870L736.9,872.7L738.7,875.2L740.5,877.7L742.4,880.3L744.2,883.1L746.1,886.5L747.9,890.6L749.7,895.4L751.6,900.6L753.4,906.2L755.2,911.7L757.1,917.1L758.9,922.2L760.8,927L762.6,931.5L764.4,935.7L766.3,939.7L768.1,943.5L770,947.2L771.8,950.8L773.6,954.2L775.5,957.5L777.3,960.6L779.2,963.4L781,966L782.8,968.4L784.7,970.5L786.5,972.4L788.4,974L790.2,975.5L792,976.8L793.9,978L795.7,979L797.6,979.9L799.4,980.7L801.2,981.3L803.1,981.8L804.9,982.1L806.8,982.2L808.6,982.3L810.4,982.2L812.3,982.2L814.1,982L815.9,981.9L817.8,981.8L819.6,981.7L821.5,981.6L823.3,981.5L825.1,981.4L827,981.4L828.8,981.4L830.7,981.3L832.5,981.3L834.3,981.3L836.2,981.3L838,981.3L839.9,981.3L841.7,981.3L843.5,981.3L845.4,981.3L847.2,981.3L849.1,981.5L850.9,981.7L852.7,982L854.6,982.5L856.4,983.1L858.3,983.8L860.1,984.7L861.9,985.8L863.8,986.9L865.6,988.2L867.5,989.7L869.3,991.2L871.1,992.9L873,994.6L874.8,996.3L876.6,998.1L878.5,999.8L880.3,1001.5L882.2,1003.1L884,1004.8L885.8,1006.5L887.7,1008.3L889.5,1010.1L891.4,1011.9L893.2,1013.9L895,1015.9L896.9,1017.9L898.7,1020.1L900.6,1022.3L902.4,1024.5L904.2,1026.7L906.1,1028.9L907.9,1030.9L909.8,1032.7L911.6,1034.4L913.4,1035.9L915.3,1037.4L917.1,1038.7L919,1039.9L920.8,1041L922.6,1042.1L924.5,1043L926.3,1043.9L928.2,1044.6L930,1045.2L931.8,1045.7L933.7,1046.1L935.5,1046.3L937.3,1046.4L939.2,1046.4L941,1046.3L942.9,1046.1L944.7,1045.7L946.5,1045.2L948.4,1044.6L950.2,1043.8L952.1,1042.9L953.9,1041.8L955.7,1040.6L957.6,1039.3L959.4,1037.9L961.3,1036.4L963.1,1034.9L964.9,1033.4L966.8,1031.9L968.6,1030.3L970.5,1028.8L972.3,1027.2L974.1,1025.6L976,1024L977.8,1022.4L979.7,1020.7L981.5,1019L983.3,1017.2L985.2,1015.4L987,1013.5L988.9,1011.7L990.7,1009.8L992.5,1008L994.4,1006.1L996.2,1004.4L998,1002.6L999.9,1000.9L1001.7,999.1L1003.6,997.5L1005.4,995.8L1007.2,994.2L1009.1,992.6L1010.9,991L1012.8,989.5L1014.6,988L1016.4,986.5L1018.3,985L1020.1,983.6L1022,982.1L1023.8,980.7L1025.6,979.3L1027.5,977.9L1029.3,976.6L1031.2,975.2L1033,973.8L1034.8,972.4L1036.7,971.1L1038.5,969.7L1040.4,968.4L1042.2,967L1044,965.7L1045.9,964.3L1047.7,963L1049.6,961.6L1051.4,960.3L1053.2,958.9L1055.1,957.6L1056.9,956.3L1058.7,954.9L1060.6,953.6L1062.4,952.3L1064.3,951L1066.1,949.6L1067.9,948.3L1069.8,947L1071.6,945.7L1073.5,944.4L1075.3,943.1L1077.1,941.9L1079,940.6L1080.8,939.4L1082.7,938.2L1084.5,937L1086.3,935.9L1088.2,934.8L1090,933.8L1091.9,932.8L1093.7,931.8L1095.5,930.9L1097.4,930L1099.2,929.1L1101.1,928.3L1102.9,927.6L1104.7,926.9L1106.6,926.3L1108.4,925.7L1110.3,925.2L1112.1,924.7L1113.9,924.3L1115.8,923.9L1117.6,923.6L1119.4,923.2L1121.3,922.9L1123.1,922.6L1125,922.4L1126.8,922.2L1128.6,922L1130.5,921.8L1132.3,921.7L1134.2,921.6L1136,921.6L1137.8,921.7L1139.7,921.7L1141.5,921.9L1143.4,922.3L1145.2,922.7L1147,923.1L1148.9,923.6L1150.7,923.8L1152.6,923.3L1154.4,922.1L1156.2,920.3L1158.1,917.8L1159.9,914.5L1161.8,910.6L1163.6,906.3L1165.4,902.2L1167.3,897.9L1169.1,893.5L1171,889.3L1172.8,885.1L1174.6,881L1176.5,876.9L1178.3,872.8L1180.1,868.5L1182,863.9L1183.8,859.1L1185.7,854L1187.5,848.7L1189.3,843.2L1191.2,837.6L1193,831.9L1194.9,826.1L1196.7,820.2L1198.5,814L1200.4,807.7L1202.2,801.3L1204.1,794.6L1205.9,787.8L1207.7,780.8L1209.6,773.6L1211.4,766.2L1213.3,758.5L1215.1,750.6L1216.9,742.3L1218.8,733.8L1220.6,725L1222.5,715.9L1224.3,706.5L1226.1,697L1228,687.3L1229.8,677.4L1231.7,667.4L1233.5,657.2L1235.3,646.8L1237.2,635.9L1239,624.6L1240.8,612.9L1242.7,601.1L1244.5,589.4L1246.4,578.1L1248.2,567.2L1250,556.7L1251.9,546.7L1253.7,536.8L1255.6,527.1L1257.4,517.5L1259.2,507.7L1261.1,497.8L1262.9,487.7L1264.8,477.5L1266.6,467.2L1268.4,457L1270.3,447L1272.1,437.4L1274,428.4L1275.8,419.9L1277.6,411.9L1279.5,404.7L1281.3,398.1L1283.2,392.1L1285,385.9L1286.8,381.1L1288.7,377.9L1290.5,376.1L1292.4,374.2L1294.2,372.1L1296,370L1297.9,368.7L1299.7,368.7L1301.5,370.2L1303.4,372.6L1305.2,375L1307.1,377.3L1308.9,380.3L1310.7,384.8L1312.6,389.4L1314.4,394.7L1316.3,400.9L1318.1,407.8L1319.9,415.4L1321.8,423.8L1323.6,433L1325.5,443L1327.3,454L1329.1,465.9L1331,478.6L1332.8,492.1L1334.7,506.2L1336.5,520.8L1338.3,535.6L1340.2,550.8L1342,566.3L1343.9,582.4L1345.7,598.8L1347.5,615.7L1349.4,632.5L1351.2,649.2L1353.1,665.4L1354.9,681.3L1356.7,697L1358.6,712.8L1360.4,728.8L1362.2,745.2L1364.1,761.8L1365.9,778.4L1367.8,794.6L1369.6,810.3L1371.4,825.4L1373.3,839.8L1375.1,853.6L1377,866.7L1378.8,879.4L1380.6,891.5L1382.5,903.7L1384.3,916.2L1386.2,928.2L1388,939.1"/>
<path fill="#00d200" d="M169.5,951L178.5,951L181.9,966L172.9,966ZM173.2,967L182.2,967L185.6,980L176.6,980ZM176.9,981L185.9,981L189.2,990L180.2,990ZM180.5,991L189.5,991L192.8,998L183.8,998ZM184.2,999L186.1,1002.7L187.9,1005.8L189.7,1008.4L191.6,1010.5L200.6,1010.5L198.7,1008.4L196.9,1005.8L195.1,1002.7L193.2,999ZM196.1,1006L197.9,1007.7L199.8,1009.1L201.6,1010.2L203.4,1011L205.3,1011.6L207.1,1011.9L208.9,1012L210.8,1011.8L212.6,1011.5L214.5,1010.9L216.3,1010.2L218.1,1009.3L220,1008.4L221.8,1007.4L223.7,1006.3L225.5,1005.2L227.3,1004L229.2,1002.8L231,1001.6L232.9,1000.4L234.7,999.2L236.5,998L238.4,996.9L240.2,995.8L242.1,994.8L243.9,993.8L245.7,992.8L247.6,991.9L249.4,991.1L251.3,990.4L253.1,989.7L254.9,989.1L256.8,988.6L258.6,988.1L260.5,987.7L262.3,987.3L264.1,987L266,986.7L267.8,986.5L269.6,986.2L271.5,986L273.3,985.8L275.2,985.6L277,985.5L278.8,985.3L280.7,985.2L282.5,985L284.4,984.9L286.2,984.8L288,984.7L289.9,984.6L291.7,984.5L293.6,984.5L295.4,984.4L297.2,984.3L299.1,984.2L300.9,984.1L302.8,984L304.6,983.9L306.4,983.7L308.3,983.5L310.1,983.3L312,983.1L313.8,982.8L315.6,982.5L317.5,982.2L319.3,981.9L321.2,981.6L323,981.3L324.8,980.9L326.7,980.5L328.5,980.2L330.3,979.8L332.2,979.3L334,978.9L335.9,978.5L337.7,978L339.5,977.5L341.4,976.9L343.2,976.4L345.1,975.8L346.9,975.2L348.7,974.5L350.6,973.8L352.4,973.1L354.3,972.3L356.1,971.5L357.9,970.7L359.8,969.9L361.6,969L363.5,968L365.3,967.1L367.1,966.1L369,965.1L370.8,964.1L372.7,963L374.5,961.8L376.3,960.6L378.2,959.3L380,958L381.9,956.6L383.7,955.1L385.5,953.6L387.4,952L389.2,950.4L391,948.8L392.9,947.1L394.7,945.4L396.6,943.7L398.4,942L400.2,940.2L402.1,938.4L403.9,936.5L403.9,945.5L402.1,947.4L400.2,949.2L398.4,951L396.6,952.7L394.7,954.4L392.9,956.1L391,957.8L389.2,959.4L387.4,961L385.5,962.6L383.7,964.1L381.9,965.6L380,967L378.2,968.3L376.3,969.6L374.5,970.8L372.7,972L370.8,973.1L369,974.1L367.1,975.1L365.3,976.1L363.5,977L361.6,978L359.8,978.9L357.9,979.7L356.1,980.5L354.3,981.3L352.4,982.1L350.6,982.8L348.7,983.5L346.9,984.2L345.1,984.8L343.2,985.4L341.4,985.9L339.5,986.5L337.7,987L335.9,987.5L334,987.9L332.2,988.3L330.3,988.8L328.5,989.2L326.7,989.5L324.8,989.9L323,990.3L321.2,990.6L319.3,990.9L317.5,991.2L315.6,991.5L313.8,991.8L312,992.1L310.1,992.3L308.3,992.5L306.4,992.7L304.6,992.9L302.8,993L300.9,993.1L299.1,993.2L297.2,993.3L295.4,993.4L293.6,993.5L291.7,993.5L289.9,993.6L288,993.7L286.2,993.8L284.4,993.9L282.5,994L280.7,994.2L278.8,994.3L277,994.5L275.2,994.6L273.3,994.8L271.5,995L269.6,995.2L267.8,995.5L266,995.7L264.1,996L262.3,996.3L260.5,996.7L258.6,997.1L256.8,997.6L254.9,998.1L253.1,998.7L251.3,999.4L249.4,1000.1L247.6,1000.9L245.7,1001.8L243.9,1002.8L242.1,1003.8L240.2,1004.8L238.4,1005.9L236.5,1007L234.7,1008.2L232.9,1009.4L231,1010.6L229.2,1011.8L227.3,1013L225.5,1014.2L223.7,1015.3L221.8,1016.4L220,1017.4L218.1,1018.3L216.3,1019.2L214.5,1019.9L212.6,1020.5L210.8,1020.8L208.9,1021L207.1,1020.9L205.3,1020.6L203.4,1020L201.6,1019.2L199.8,1018.1L197.9,1016.7L196.1,1015ZM399.4,941L401.3,939.2L403.1,937.3L404.9,935.3L406.8,933.3L408.6,931.3L410.5,929.3L412.3,927.3L414.1,925.3L416,923.3L417.8,921.5L426.8,921.5L425,923.3L423.1,925.3L421.3,927.3L419.5,929.3L417.6,931.3L415.8,933.3L413.9,935.3L412.1,937.3L410.3,939.2L408.4,941ZM422.3,917L424.2,915.1L426,913.3L427.8,911.6L429.7,909.9L431.5,908.2L433.4,906.6L435.2,905L437,903.4L438.9,901.9L440.7,900.3L442.6,898.8L444.4,897.3L446.2,895.8L448.1,894.3L449.9,892.9L451.7,891.5L453.6,890.1L455.4,888.8L457.3,887.5L459.1,886.2L460.9,885L462.8,883.9L464.6,882.9L466.5,881.9L468.3,881L470.1,880.3L472,879.7L473.8,879.2L475.7,878.8L477.5,878.5L479.3,878.3L481.2,878.2L483,878L484.9,877.9L486.7,877.8L488.5,877.6L490.4,877.5L492.2,877.4L494.1,877.3L495.9,877.1L497.7,877.1L499.6,877.1L501.4,877.2L503.3,877.6L505.1,878.2L506.9,879L508.8,880L510.6,881.1L512.4,882.2L514.3,883.2L516.1,884.1L518,884.9L519.8,885.5L521.6,886.1L523.5,886.7L525.3,887.2L527.2,887.8L529,888.3L530.8,888.8L532.7,889.3L534.5,889.7L536.4,890.1L538.2,890.5L540,890.8L541.9,891.2L543.7,891.5L545.6,891.8L547.4,892.2L549.2,892.5L551.1,892.8L552.9,893L554.8,893.1L556.6,893.2L558.4,893.1L560.3,893L562.1,892.8L564,892.4L565.8,892L567.6,891.4L569.5,890.7L571.3,889.8L573.1,888.9L575,887.9L576.8,886.9L578.7,885.7L580.5,884.6L582.3,883.3L584.2,882L586,880.6L587.9,879.1L589.7,877.5L591.5,875.9L593.4,874.2L593.4,883.2L591.5,884.9L589.7,886.5L587.9,888.1L586,889.6L584.2,891L582.3,892.3L580.5,893.6L578.7,894.7L576.8,895.9L575,896.9L573.1,897.9L571.3,898.8L569.5,899.7L567.6,900.4L565.8,901L564,901.4L562.1,901.8L560.3,902L558.4,902.1L556.6,902.2L554.8,902.1L552.9,902L551.1,901.8L549.2,901.5L547.4,901.2L545.6,900.8L543.7,900.5L541.9,900.2L540,899.8L538.2,899.5L536.4,899.1L534.5,898.7L532.7,898.3L530.8,897.8L529,897.3L527.2,896.8L525.3,896.2L523.5,895.7L521.6,895.1L519.8,894.5L518,893.9L516.1,893.1L514.3,892.2L512.4,891.2L510.6,890.1L508.8,889L506.9,888L505.1,887.2L503.3,886.6L501.4,886.2L499.6,886.1L497.7,886.1L495.9,886.1L494.1,886.3L492.2,886.4L490.4,886.5L488.5,886.6L486.7,886.8L484.9,886.9L483,887L481.2,887.2L479.3,887.3L477.5,887.5L475.7,887.8L473.8,888.2L472,888.7L470.1,889.3L468.3,890L466.5,890.9L464.6,891.9L462.8,892.9L460.9,894L459.1,895.2L457.3,896.5L455.4,897.8L453.6,899.1L451.7,900.5L449.9,901.9L448.1,903.3L446.2,904.8L444.4,906.3L442.6,907.8L440.7,909.3L438.9,910.9L437,912.4L435.2,914L433.4,915.6L431.5,917.2L429.7,918.9L427.8,920.6L426,922.3L424.2,924.1L422.3,926ZM588.9,878.7L590.7,876.8L592.6,874.7L594.4,872.4L596.2,869.9L598.1,867L599.9,864L601.8,860.9L603.6,857.9L605.4,854.9L607.3,852L609.1,849.3L611,846.5L612.8,843.7L614.6,840.9L616.5,837.9L618.3,834.8L620.2,831.6L622,828.3L623.8,825L625.7,821.7L627.5,818.5L629.3,815.4L631.2,812.3L633,809.2L634.9,805.9L636.7,802.4L638.5,798.7L647.5,798.7L645.7,802.4L643.9,805.9L642,809.2L640.2,812.3L638.3,815.4L636.5,818.5L634.7,821.7L632.8,825L631,828.3L629.2,831.6L627.3,834.8L625.5,837.9L623.6,840.9L621.8,843.7L620,846.5L618.1,849.3L616.3,852L614.4,854.9L612.6,857.9L610.8,860.9L608.9,864L607.1,867L605.2,869.9L603.4,872.4L601.6,874.7L599.7,876.8L597.9,878.7ZM639,798L648,798L653.1,786L644.1,786ZM644.5,785L653.5,785L656.7,778L647.7,778ZM647.7,777.6L649.6,774.4L651.4,771.5L653.3,768.6L655.1,765.5L656.9,762.4L658.8,759.3L660.6,756.5L662.5,753.6L664.3,750.8L666.1,748.5L675.1,748.5L673.3,750.8L671.5,753.6L669.6,756.5L667.8,759.3L665.9,762.4L664.1,765.5L662.3,768.6L660.4,771.5L658.6,774.4L656.7,777.6ZM670.6,744L672.5,742.3L674.3,740.8L676.2,739.5L678,738.3L679.8,737.1L681.7,735.9L683.5,734.3L685.4,732.5L687.2,731.1L689,730.3L690.9,730.7L692.7,731.9L694.5,733.6L696.4,735.3L698.2,736.6L700.1,737.9L701.9,739.5L703.7,741.3L703.7,750.3L701.9,748.5L700.1,746.9L698.2,745.6L696.4,744.3L694.5,742.6L692.7,740.9L690.9,739.7L689,739.3L687.2,740.1L685.4,741.5L683.5,743.3L681.7,744.9L679.8,746.1L678,747.3L676.2,748.5L674.3,749.8L672.5,751.3L670.6,753ZM699.2,745.8L701.1,747.8L702.9,750.1L704.8,752.7L706.6,755.6L708.4,758.8L710.3,762.4L719.3,762.4L717.4,758.8L715.6,755.6L713.8,752.7L711.9,750.1L710.1,747.8L708.2,745.8ZM710.3,762L719.3,762L724.4,774L715.4,774ZM715.8,775L724.8,775L728.1,784L719.1,784ZM719.5,785L728.5,785L731.7,793L722.7,793ZM723.2,794L732.2,794L735.4,802L726.4,802ZM726.8,803L735.8,803L739.1,812L730.1,812ZM730.5,813L739.5,813L742.9,823L733.9,823ZM734.2,824L743.2,824L746.6,835L737.6,835ZM737.9,836L746.9,836L750.3,848L741.3,848ZM741.6,849L750.6,849L754,862L745,862ZM745.2,863L754.2,863L757.6,876L748.6,876ZM748.9,877L757.9,877L761.3,889L752.3,889ZM752.6,890L761.6,890L764.9,900L755.9,900ZM756.3,901L765.3,901L768.6,910L759.6,910ZM759.9,911L768.9,911L774,921L765,921ZM765.5,922.4L767.3,926L769.1,929.5L771,932.8L772.8,936L774.7,939L776.5,941.9L778.3,944.5L780.2,946.9L782,949L783.9,950.8L792.9,950.8L791,949L789.2,946.9L787.3,944.5L785.5,941.9L783.7,939L781.8,936L780,932.8L778.1,929.5L776.3,926L774.5,922.4ZM788.4,946.3L790.2,948L792,949.4L793.9,950.8L795.7,952L797.6,953.1L799.4,954.1L801.2,955L803.1,955.9L804.9,956.6L806.8,957.3L808.6,957.9L810.4,958.4L812.3,958.9L814.1,959.3L815.9,959.6L817.8,960L819.6,960.3L821.5,960.6L823.3,960.9L825.1,961.3L827,961.8L828.8,962.3L830.7,962.9L832.5,963.6L834.3,964.3L836.2,965.2L838,966.2L839.9,967.2L841.7,968.3L843.5,969.5L845.4,970.8L847.2,972.1L849.1,973.5L850.9,974.9L852.7,976.3L854.6,977.8L856.4,979.3L858.3,980.7L860.1,982.2L861.9,983.7L863.8,985.2L865.6,986.7L867.5,988.4L869.3,990L871.1,991.8L873,993.6L873,1002.6L871.1,1000.8L869.3,999L867.5,997.4L865.6,995.7L863.8,994.2L861.9,992.7L860.1,991.2L858.3,989.7L856.4,988.3L854.6,986.8L852.7,985.3L850.9,983.9L849.1,982.5L847.2,981.1L845.4,979.8L843.5,978.5L841.7,977.3L839.9,976.2L838,975.2L836.2,974.2L834.3,973.3L832.5,972.6L830.7,971.9L828.8,971.3L827,970.8L825.1,970.3L823.3,969.9L821.5,969.6L819.6,969.3L817.8,969L815.9,968.6L814.1,968.3L812.3,967.9L810.4,967.4L808.6,966.9L806.8,966.3L804.9,965.6L803.1,964.9L801.2,964L799.4,963.1L797.6,962.1L795.7,961L793.9,959.8L792,958.4L790.2,957L788.4,955.3ZM868.5,998.1L870.3,1000L872.1,1001.9L874,1003.8L875.8,1005.7L877.7,1007.7L879.5,1009.6L881.3,1011.5L883.2,1013.4L892.2,1013.4L890.3,1011.5L888.5,1009.6L886.7,1007.7L884.8,1005.7L883,1003.8L881.1,1001.9L879.3,1000L877.5,998.1ZM887.7,1008.9L889.5,1010.7L891.4,1012.4L893.2,1014.1L895,1015.7L896.9,1017.1L898.7,1018.5L900.6,1019.8L902.4,1020.9L904.2,1022L906.1,1022.9L907.9,1023.8L909.8,1024.5L911.6,1025.1L913.4,1025.7L915.3,1026.1L917.1,1026.4L919,1026.7L920.8,1026.8L922.6,1026.9L924.5,1027L926.3,1027L928.2,1026.9L930,1026.7L931.8,1026.4L933.7,1026L935.5,1025.4L937.3,1024.7L939.2,1023.9L941,1023L942.9,1021.9L944.7,1020.8L946.5,1019.6L948.4,1018.4L950.2,1017.1L952.1,1015.8L953.9,1014.5L955.7,1013.1L957.6,1011.7L959.4,1010.3L961.3,1008.9L963.1,1007.6L964.9,1006.2L966.8,1005L968.6,1003.8L970.5,1002.6L972.3,1001.4L974.1,1000.2L976,999L977.8,997.8L979.7,996.5L981.5,995.1L983.3,993.7L985.2,992.2L987,990.7L988.9,989.1L990.7,987.5L992.5,985.8L994.4,984.2L996.2,982.6L998,980.9L999.9,979.3L1001.7,977.6L1003.6,976L1005.4,974.4L1007.2,972.8L1009.1,971.2L1010.9,969.7L1012.8,968.1L1014.6,966.7L1016.4,965.2L1018.3,963.8L1020.1,962.4L1022,961.1L1023.8,959.7L1025.6,958.5L1027.5,957.2L1029.3,956L1031.2,954.7L1033,953.6L1034.8,952.4L1036.7,951.2L1038.5,950.1L1040.4,948.9L1042.2,947.7L1044,946.6L1045.9,945.4L1047.7,944.2L1049.6,942.9L1051.4,941.7L1053.2,940.4L1055.1,939.1L1056.9,937.7L1058.7,936.4L1060.6,935.1L1062.4,933.7L1064.3,932.4L1066.1,931L1067.9,929.7L1069.8,928.4L1071.6,927L1073.5,925.7L1075.3,924.4L1077.1,923.1L1079,921.9L1080.8,920.7L1082.7,919.5L1084.5,918.4L1086.3,917.3L1088.2,916.4L1090,915.4L1091.9,914.5L1093.7,913.7L1095.5,912.9L1097.4,912.1L1099.2,911.4L1101.1,910.7L1102.9,910L1104.7,909.5L1106.6,908.9L1108.4,908.5L1110.3,908L1112.1,907.6L1113.9,907.3L1115.8,906.9L1117.6,906.6L1119.4,906.4L1121.3,906.2L1123.1,906L1125,905.9L1126.8,905.8L1128.6,905.8L1130.5,905.9L1132.3,906L1134.2,906.1L1136,906.3L1137.8,906.6L1139.7,906.8L1141.5,907.3L1143.4,908.1L1145.2,908.7L1147,908.9L1148.9,908.9L1150.7,908.9L1152.6,908.9L1154.4,908.2L1154.4,917.2L1152.6,917.9L1150.7,917.9L1148.9,917.9L1147,917.9L1145.2,917.7L1143.4,917.1L1141.5,916.3L1139.7,915.8L1137.8,915.6L1136,915.3L1134.2,915.1L1132.3,915L1130.5,914.9L1128.6,914.8L1126.8,914.8L1125,914.9L1123.1,915L1121.3,915.2L1119.4,915.4L1117.6,915.6L1115.8,915.9L1113.9,916.3L1112.1,916.6L1110.3,917L1108.4,917.5L1106.6,917.9L1104.7,918.5L1102.9,919L1101.1,919.7L1099.2,920.4L1097.4,921.1L1095.5,921.9L1093.7,922.7L1091.9,923.5L1090,924.4L1088.2,925.4L1086.3,926.3L1084.5,927.4L1082.7,928.5L1080.8,929.7L1079,930.9L1077.1,932.1L1075.3,933.4L1073.5,934.7L1071.6,936L1069.8,937.4L1067.9,938.7L1066.1,940L1064.3,941.4L1062.4,942.7L1060.6,944.1L1058.7,945.4L1056.9,946.7L1055.1,948.1L1053.2,949.4L1051.4,950.7L1049.6,951.9L1047.7,953.2L1045.9,954.4L1044,955.6L1042.2,956.7L1040.4,957.9L1038.5,959.1L1036.7,960.2L1034.8,961.4L1033,962.6L1031.2,963.7L1029.3,965L1027.5,966.2L1025.6,967.5L1023.8,968.7L1022,970.1L1020.1,971.4L1018.3,972.8L1016.4,974.2L1014.6,975.7L1012.8,977.1L1010.9,978.7L1009.1,980.2L1007.2,981.8L1005.4,983.4L1003.6,985L1001.7,986.6L999.9,988.3L998,989.9L996.2,991.6L994.4,993.2L992.5,994.8L990.7,996.5L988.9,998.1L987,999.7L985.2,1001.2L983.3,1002.7L981.5,1004.1L979.7,1005.5L977.8,1006.8L976,1008L974.1,1009.2L972.3,1010.4L970.5,1011.6L968.6,1012.8L966.8,1014L964.9,1015.2L963.1,1016.6L961.3,1017.9L959.4,1019.3L957.6,1020.7L955.7,1022.1L953.9,1023.5L952.1,1024.8L950.2,1026.1L948.4,1027.4L946.5,1028.6L944.7,1029.8L942.9,1030.9L941,1032L939.2,1032.9L937.3,1033.7L935.5,1034.4L933.7,1035L931.8,1035.4L930,1035.7L928.2,1035.9L926.3,1036L924.5,1036L922.6,1035.9L920.8,1035.8L919,1035.7L917.1,1035.4L915.3,1035.1L913.4,1034.7L911.6,1034.1L909.8,1033.5L907.9,1032.8L906.1,1031.9L904.2,1031L902.4,1029.9L900.6,1028.8L898.7,1027.5L896.9,1026.1L895,1024.7L893.2,1023.1L891.4,1021.4L889.5,1019.7L887.7,1017.9ZM1149.9,912.7L1151.7,910.3L1160.7,910.3L1158.9,912.7ZM1152.2,909L1161.2,909L1166.3,898L1157.3,898ZM1157.7,897L1166.7,897L1169.9,890L1160.9,890ZM1160.9,890.2L1162.8,886.6L1164.6,883.1L1166.5,879.8L1168.3,876.5L1170.1,873L1179.1,873L1177.3,876.5L1175.5,879.8L1173.6,883.1L1171.8,886.6L1169.9,890.2ZM1170.6,872L1179.6,872L1184.6,860L1175.6,860ZM1176,859L1185,859L1188.3,849L1179.3,849ZM1179.6,848L1188.6,848L1192,837L1183,837ZM1183.3,836L1192.3,836L1195.7,825L1186.7,825ZM1187,824L1196,824L1199.4,814L1190.4,814ZM1190.7,813L1199.7,813L1203,802L1194,802ZM1194.3,801L1203.3,801L1206.7,789L1197.7,789ZM1198,788L1207,788L1210.4,775L1201.4,775ZM1201.7,774L1210.7,774L1214.1,761L1205.1,761ZM1205.3,760L1214.3,760L1217.8,745L1208.8,745ZM1209,744L1218,744L1221.4,729L1212.4,729ZM1212.6,728L1221.6,728L1225.1,711L1216.1,711ZM1216.3,710L1225.3,710L1228.8,693L1219.8,693ZM1220,692L1229,692L1230.6,684L1221.6,684ZM1221.8,683L1230.8,683L1232.5,675L1223.5,675ZM1223.7,674L1232.7,674L1234.3,666L1225.3,666ZM1225.5,665L1234.5,665L1236.2,656L1227.2,656ZM1227.4,655L1236.4,655L1238,647L1229,647ZM1229.2,646L1238.2,646L1239.8,637L1230.8,637ZM1231,636L1240,636L1241.7,626L1232.7,626ZM1232.8,625L1241.8,625L1243.5,615L1234.5,615ZM1234.7,614L1243.7,614L1245.3,604L1236.3,604ZM1236.5,603L1245.5,603L1247.2,593L1238.2,593ZM1238.4,592L1247.4,592L1249,582L1240,582ZM1240.2,581L1249.2,581L1250.9,571L1241.9,571ZM1242.1,570L1251.1,570L1252.7,561L1243.7,561ZM1243.9,560L1252.9,560L1254.5,551L1245.5,551ZM1245.7,550L1254.7,550L1256.4,541L1247.4,541ZM1247.6,540L1256.6,540L1258.2,532L1249.2,532ZM1249.4,531L1258.4,531L1260.1,522L1251.1,522ZM1251.3,521L1260.3,521L1261.9,513L1252.9,513ZM1253.1,512L1262.1,512L1263.7,503L1254.7,503ZM1254.9,502L1263.9,502L1265.6,494L1256.6,494ZM1256.8,493L1265.8,493L1267.4,484L1258.4,484ZM1258.6,483L1267.6,483L1269.3,474L1260.3,474ZM1260.4,473L1269.4,473L1271.1,463L1262.1,463ZM1262.3,462L1271.3,462L1272.9,454L1263.9,454ZM1264.1,453L1273.1,453L1274.8,444L1265.8,444ZM1266,443L1275,443L1276.6,435L1267.6,435ZM1267.8,434L1276.8,434L1280.3,418L1271.3,418ZM1271.5,417L1280.5,417L1284,403L1275,403ZM1275.3,402L1284.3,402L1287.7,391L1278.7,391ZM1279,390L1288,390L1291.3,380L1282.3,380ZM1282.3,380.5L1284.2,377.5L1293.2,377.5L1291.3,380.5ZM1288.7,373L1290.5,371.2L1290.5,380.2L1288.7,382ZM1286,375.7L1287.9,373.8L1289.7,371.8L1291.5,369.9L1300.5,369.9L1298.7,371.8L1296.9,373.8L1295,375.7ZM1296,365.4L1297.9,364.2L1299.7,364.3L1299.7,373.3L1297.9,373.2L1296,374.4ZM1295.2,368.8L1297,370.7L1298.9,373.5L1300.7,375.8L1302.6,378.3L1304.4,381.7L1313.4,381.7L1311.6,378.3L1309.7,375.8L1307.9,373.5L1306,370.7L1304.2,368.8ZM1304.4,382L1313.4,382L1316.7,391L1307.7,391ZM1308.1,392L1317.1,392L1320.5,403L1311.5,403ZM1311.8,404L1320.8,404L1324.2,418L1315.2,418ZM1315.4,419L1324.4,419L1327.9,436L1318.9,436ZM1319.1,437L1328.1,437L1329.8,447L1320.8,447ZM1321,448L1330,448L1331.6,458L1322.6,458ZM1322.8,459L1331.8,459L1333.5,470L1324.5,470ZM1324.6,471L1333.6,471L1335.3,483L1326.3,483ZM1326.5,484L1335.5,484L1337.2,497L1328.2,497ZM1328.3,498L1337.3,498L1339,512L1330,512ZM1330.2,513L1339.2,513L1340.9,526L1331.9,526ZM1332,527L1341,527L1342.7,541L1333.7,541ZM1333.8,542L1342.8,542L1344.6,557L1335.6,557ZM1335.7,558L1344.7,558L1346.4,572L1337.4,572ZM1337.5,573L1346.5,573L1348.2,588L1339.2,588ZM1339.4,589L1348.4,589L1350.1,605L1341.1,605ZM1341.2,606L1350.2,606L1351.9,622L1342.9,622ZM1343,623L1352,623L1353.8,639L1344.8,639ZM1344.9,640L1353.9,640L1355.6,655L1346.6,655ZM1346.7,656L1355.7,656L1357.4,671L1348.4,671ZM1348.6,672L1357.6,672L1359.3,687L1350.3,687ZM1350.4,688L1359.4,688L1361.1,703L1352.1,703ZM1352.2,704L1361.2,704L1363,719L1354,719ZM1354.1,720L1363.1,720L1364.8,735L1355.8,735ZM1355.9,736L1364.9,736L1366.6,751L1357.6,751ZM1357.7,752L1366.7,752L1368.5,768L1359.5,768ZM1359.6,769L1368.6,769L1370.3,784L1361.3,784ZM1361.4,785L1370.4,785L1372.2,801L1363.2,801ZM1363.3,802L1372.3,802L1374,816L1365,816ZM1365.1,817L1374.1,817L1375.8,831L1366.8,831ZM1366.9,832L1375.9,832L1377.7,845L1368.7,845ZM1368.8,846L1377.8,846L1379.5,858L1370.5,858ZM1370.6,859L1379.6,859L1381.3,871L1372.3,871ZM1372.5,872L1381.5,872L1383.2,884L1374.2,884ZM1374.3,885L1383.3,885L1385,896L1376,896ZM1376.1,897L1385.1,897L1386.8,908L1377.8,908ZM1378,909L1387,909L1388.7,920L1379.7,920ZM1379.8,921L1388.8,921L1390.5,932L1381.5,932ZM1381.7,933L1390.7,933L1392.3,942L1383.3,942Z"/>
<path fill="none" stroke="#00d200" stroke-width="7.7" stroke-linejoin="round" d="M188.7,999L190.6,1002.7L192.4,1005.8L194.2,1008.4L196.1,1010.5L197.9,1012.2L199.8,1013.6L201.6,1014.7L203.4,1015.5L205.3,1016.1L207.1,1016.4L208.9,1016.5L210.8,1016.3L212.6,1016L214.5,1015.4L216.3,1014.7L218.1,1013.8L220,1012.9L221.8,1011.9L223.7,1010.8L225.5,1009.7L227.3,1008.5L229.2,1007.3L231,1006.1L232.9,1004.9L234.7,1003.7L236.5,1002.5L238.4,1001.4L240.2,1000.3L242.1,999.3L243.9,998.3L245.7,997.3L247.6,996.4L249.4,995.6L251.3,994.9L253.1,994.2L254.9,993.6L256.8,993.1L258.6,992.6L260.5,992.2L262.3,991.8L264.1,991.5L266,991.2L267.8,991L269.6,990.7L271.5,990.5L273.3,990.3L275.2,990.1L277,990L278.8,989.8L280.7,989.7L282.5,989.5L284.4,989.4L286.2,989.3L288,989.2L289.9,989.1L291.7,989L293.6,989L295.4,988.9L297.2,988.8L299.1,988.7L300.9,988.6L302.8,988.5L304.6,988.4L306.4,988.2L308.3,988L310.1,987.8L312,987.6L313.8,987.3L315.6,987L317.5,986.7L319.3,986.4L321.2,986.1L323,985.8L324.8,985.4L326.7,985L328.5,984.7L330.3,984.3L332.2,983.8L334,983.4L335.9,983L337.7,982.5L339.5,982L341.4,981.4L343.2,980.9L345.1,980.3L346.9,979.7L348.7,979L350.6,978.3L352.4,977.6L354.3,976.8L356.1,976L357.9,975.2L359.8,974.4L361.6,973.5L363.5,972.5L365.3,971.6L367.1,970.6L369,969.6L370.8,968.6L372.7,967.5L374.5,966.3L376.3,965.1L378.2,963.8L380,962.5L381.9,961.1L383.7,959.6L385.5,958.1L387.4,956.5L389.2,954.9L391,953.3L392.9,951.6L394.7,949.9L396.6,948.2L398.4,946.5L400.2,944.7L402.1,942.9L403.9,941L405.8,939.2L407.6,937.3L409.4,935.3L411.3,933.3L413.1,931.3L415,929.3L416.8,927.3L418.6,925.3L420.5,923.3L422.3,921.5L424.2,919.6L426,917.8L427.8,916.1L429.7,914.4L431.5,912.7L433.4,911.1L435.2,909.5L437,907.9L438.9,906.4L440.7,904.8L442.6,903.3L444.4,901.8L446.2,900.3L448.1,898.8L449.9,897.4L451.7,896L453.6,894.6L455.4,893.3L457.3,892L459.1,890.7L460.9,889.5L462.8,888.4L464.6,887.4L466.5,886.4L468.3,885.5L470.1,884.8L472,884.2L473.8,883.7L475.7,883.3L477.5,883L479.3,882.8L481.2,882.7L483,882.5L484.9,882.4L486.7,882.3L488.5,882.1L490.4,882L492.2,881.9L494.1,881.8L495.9,881.6L497.7,881.6L499.6,881.6L501.4,881.7L503.3,882.1L505.1,882.7L506.9,883.5L508.8,884.5L510.6,885.6L512.4,886.7L514.3,887.7L516.1,888.6L518,889.4L519.8,890L521.6,890.6L523.5,891.2L525.3,891.7L527.2,892.3L529,892.8L530.8,893.3L532.7,893.8L534.5,894.2L536.4,894.6L538.2,895L540,895.3L541.9,895.7L543.7,896L545.6,896.3L547.4,896.7L549.2,897L551.1,897.3L552.9,897.5L554.8,897.6L556.6,897.7L558.4,897.6L560.3,897.5L562.1,897.3L564,896.9L565.8,896.5L567.6,895.9L569.5,895.2L571.3,894.3L573.1,893.4L575,892.4L576.8,891.4L578.7,890.2L580.5,889.1L582.3,887.8L584.2,886.5L586,885.1L587.9,883.6L589.7,882L591.5,880.4L593.4,878.7L595.2,876.8L597.1,874.7L598.9,872.4L600.7,869.9L602.6,867L604.4,864L606.3,860.9L608.1,857.9L609.9,854.9L611.8,852L613.6,849.3L615.5,846.5L617.3,843.7L619.1,840.9L621,837.9L622.8,834.8L624.7,831.6L626.5,828.3L628.3,825L630.2,821.7L632,818.5L633.8,815.4L635.7,812.3L637.5,809.2L639.4,805.9L641.2,802.4L643,798.7M652.2,777.6L654.1,774.4L655.9,771.5L657.8,768.6L659.6,765.5L661.4,762.4L663.3,759.3L665.1,756.5L667,753.6L668.8,750.8L670.6,748.5L672.5,746.8L674.3,745.3L676.2,744L678,742.8L679.8,741.6L681.7,740.4L683.5,738.8L685.4,737L687.2,735.6L689,734.8L690.9,735.2L692.7,736.4L694.5,738.1L696.4,739.8L698.2,741.1L700.1,742.4L701.9,744L703.7,745.8L705.6,747.8L707.4,750.1L709.3,752.7L711.1,755.6L712.9,758.8L714.8,762.4M770,922.4L771.8,926L773.6,929.5L775.5,932.8L777.3,936L779.2,939L781,941.9L782.8,944.5L784.7,946.9L786.5,949L788.4,950.8L790.2,952.5L792,953.9L793.9,955.3L795.7,956.5L797.6,957.6L799.4,958.6L801.2,959.5L803.1,960.4L804.9,961.1L806.8,961.8L808.6,962.4L810.4,962.9L812.3,963.4L814.1,963.8L815.9,964.1L817.8,964.5L819.6,964.8L821.5,965.1L823.3,965.4L825.1,965.8L827,966.3L828.8,966.8L830.7,967.4L832.5,968.1L834.3,968.8L836.2,969.7L838,970.7L839.9,971.7L841.7,972.8L843.5,974L845.4,975.3L847.2,976.6L849.1,978L850.9,979.4L852.7,980.8L854.6,982.3L856.4,983.8L858.3,985.2L860.1,986.7L861.9,988.2L863.8,989.7L865.6,991.2L867.5,992.9L869.3,994.5L871.1,996.3L873,998.1L874.8,1000L876.6,1001.9L878.5,1003.8L880.3,1005.7L882.2,1007.7L884,1009.6L885.8,1011.5L887.7,1013.4L889.5,1015.2L891.4,1016.9L893.2,1018.6L895,1020.2L896.9,1021.6L898.7,1023L900.6,1024.3L902.4,1025.4L904.2,1026.5L906.1,1027.4L907.9,1028.3L909.8,1029L911.6,1029.6L913.4,1030.2L915.3,1030.6L917.1,1030.9L919,1031.2L920.8,1031.3L922.6,1031.4L924.5,1031.5L926.3,1031.5L928.2,1031.4L930,1031.2L931.8,1030.9L933.7,1030.5L935.5,1029.9L937.3,1029.2L939.2,1028.4L941,1027.5L942.9,1026.4L944.7,1025.3L946.5,1024.1L948.4,1022.9L950.2,1021.6L952.1,1020.3L953.9,1019L955.7,1017.6L957.6,1016.2L959.4,1014.8L961.3,1013.4L963.1,1012.1L964.9,1010.7L966.8,1009.5L968.6,1008.3L970.5,1007.1L972.3,1005.9L974.1,1004.7L976,1003.5L977.8,1002.3L979.7,1001L981.5,999.6L983.3,998.2L985.2,996.7L987,995.2L988.9,993.6L990.7,992L992.5,990.3L994.4,988.7L996.2,987.1L998,985.4L999.9,983.8L1001.7,982.1L1003.6,980.5L1005.4,978.9L1007.2,977.3L1009.1,975.7L1010.9,974.2L1012.8,972.6L1014.6,971.2L1016.4,969.7L1018.3,968.3L1020.1,966.9L1022,965.6L1023.8,964.2L1025.6,963L1027.5,961.7L1029.3,960.5L1031.2,959.2L1033,958.1L1034.8,956.9L1036.7,955.7L1038.5,954.6L1040.4,953.4L1042.2,952.2L1044,951.1L1045.9,949.9L1047.7,948.7L1049.6,947.4L1051.4,946.2L1053.2,944.9L1055.1,943.6L1056.9,942.2L1058.7,940.9L1060.6,939.6L1062.4,938.2L1064.3,936.9L1066.1,935.5L1067.9,934.2L1069.8,932.9L1071.6,931.5L1073.5,930.2L1075.3,928.9L1077.1,927.6L1079,926.4L1080.8,925.2L1082.7,924L1084.5,922.9L1086.3,921.8L1088.2,920.9L1090,919.9L1091.9,919L1093.7,918.2L1095.5,917.4L1097.4,916.6L1099.2,915.9L1101.1,915.2L1102.9,914.5L1104.7,914L1106.6,913.4L1108.4,913L1110.3,912.5L1112.1,912.1L1113.9,911.8L1115.8,911.4L1117.6,911.1L1119.4,910.9L1121.3,910.7L1123.1,910.5L1125,910.4L1126.8,910.3L1128.6,910.3L1130.5,910.4L1132.3,910.5L1134.2,910.6L1136,910.8L1137.8,911.1L1139.7,911.3L1141.5,911.8L1143.4,912.6L1145.2,913.2L1147,913.4L1148.9,913.4L1150.7,913.4L1152.6,913.4L1154.4,912.7L1156.2,910.3M1165.4,890.2L1167.3,886.6L1169.1,883.1L1171,879.8L1172.8,876.5L1174.6,873M1286.8,380.5L1288.7,377.5L1290.5,375.7L1292.4,373.8L1294.2,371.8L1296,369.9L1297.9,368.7L1299.7,368.8L1301.5,370.7L1303.4,373.5L1305.2,375.8L1307.1,378.3L1308.9,381.7"/>
<path fill="none" stroke="#00d200" stroke-width="1" d="M174,951L175.8,959.5L177.7,967.4L179.5,974.8L181.4,981.1L183.2,986.5L185,991L186.9,995.2L188.7,999L190.6,1002.7L192.4,1005.8L194.2,1008.4L196.1,1010.5L197.9,1012.2L199.8,1013.6L201.6,1014.7L203.4,1015.5L205.3,1016.1L207.1,1016.4L208.9,1016.5L210.8,1016.3L212.6,1016L214.5,1015.4L216.3,1014.7L218.1,1013.8L220,1012.9L221.8,1011.9L223.7,1010.8L225.5,1009.7L227.3,1008.5L229.2,1007.3L231,1006.1L232.9,1004.9L234.7,1003.7L236.5,1002.5L238.4,1001.4L240.2,1000.3L242.1,999.3L243.9,998.3L245.7,997.3L247.6,996.4L249.4,995.6L251.3,994.9L253.1,994.2L254.9,993.6L256.8,993.1L258.6,992.6L260.5,992.2L262.3,991.8L264.1,991.5L266,991.2L267.8,991L269.6,990.7L271.5,990.5L273.3,990.3L275.2,990.1L277,990L278.8,989.8L280.7,989.7L282.5,989.5L284.4,989.4L286.2,989.3L288,989.2L289.9,989.1L291.7,989L293.6,989L295.4,988.9L297.2,988.8L299.1,988.7L300.9,988.6L302.8,988.5L304.6,988.4L306.4,988.2L308.3,988L310.1,987.8L312,987.6L313.8,987.3L315.6,987L317.5,986.7L319.3,986.4L321.2,986.1L323,985.8L324.8,985.4L326.7,985L328.5,984.7L330.3,984.3L332.2,983.8L334,983.4L335.9,983L337.7,982.5L339.5,982L341.4,981.4L343.2,980.9L345.1,980.3L346.9,979.7L348.7,979L350.6,978.3L352.4,977.6L354.3,976.8L356.1,976L357.9,975.2L359.8,974.4L361.6,973.5L363.5,972.5L365.3,971.6L367.1,970.6L369,969.6L370.8,968.6L372.7,967.5L374.5,966.3L376.3,965.1L378.2,963.8L380,962.5L381.9,961.1L383.7,959.6L385.5,958.1L387.4,956.5L389.2,954.9L391,953.3L392.9,951.6L394.7,949.9L396.6,948.2L398.4,946.5L400.2,944.7L402.1,942.9L403.9,941L405.8,939.2L407.6,937.3L409.4,935.3L411.3,933.3L413.1,931.3L415,929.3L416.8,927.3L418.6,925.3L420.5,923.3L422.3,921.5L424.2,919.6L426,917.8L427.8,916.1L429.7,914.4L431.5,912.7L433.4,911.1L435.2,909.5L437,907.9L438.9,906.4L440.7,904.8L442.6,903.3L444.4,901.8L446.2,900.3L448.1,898.8L449.9,897.4L451.7,896L453.6,894.6L455.4,893.3L457.3,892L459.1,890.7L460.9,889.5L462.8,888.4L464.6,887.4L466.5,886.4L468.3,885.5L470.1,884.8L472,884.2L473.8,883.7L475.7,883.3L477.5,883L479.3,882.8L481.2,882.7L483,882.5L484.9,882.4L486.7,882.3L488.5,882.1L490.4,882L492.2,881.9L494.1,881.8L495.9,881.6L497.7,881.6L499.6,881.6L501.4,881.7L503.3,882.1L505.1,882.7L506.9,883.5L508.8,884.5L510.6,885.6L512.4,886.7L514.3,887.7L516.1,888.6L518,889.4L519.8,890L521.6,890.6L523.5,891.2L525.3,891.7L527.2,892.3L529,892.8L530.8,893.3L532.7,893.8L534.5,894.2L536.4,894.6L538.2,895L540,895.3L541.9,895.7L543.7,896L545.6,896.3L547.4,896.7L549.2,897L551.1,897.3L552.9,897.5L554.8,897.6L556.6,897.7L558.4,897.6L560.3,897.5L562.1,897.3L564,896.9L565.8,896.5L567.6,895.9L569.5,895.2L571.3,894.3L573.1,893.4L575,892.4L576.8,891.4L578.7,890.2L580.5,889.1L582.3,887.8L584.2,886.5L586,885.1L587.9,883.6L589.7,882L591.5,880.4L593.4,878.7L595.2,876.8L597.1,874.7L598.9,872.4L600.7,869.9L602.6,867L604.4,864L606.3,860.9L608.1,857.9L609.9,854.9L611.8,852L613.6,849.3L615.5,846.5L617.3,843.7L619.1,840.9L621,837.9L622.8,834.8L624.7,831.6L626.5,828.3L628.3,825L630.2,821.7L632,818.5L633.8,815.4L635.7,812.3L637.5,809.2L639.4,805.9L641.2,802.4L643,798.7L644.9,794.9L646.7,790.8L648.6,786.4L650.4,781.5L652.2,777.6L654.1,774.4L655.9,771.5L657.8,768.6L659.6,765.5L661.4,762.4L663.3,759.3L665.1,756.5L667,753.6L668.8,750.8L670.6,748.5L672.5,746.8L674.3,745.3L676.2,744L678,742.8L679.8,741.6L681.7,740.4L683.5,738.8L685.4,737L687.2,735.6L689,734.8L690.9,735.2L692.7,736.4L694.5,738.1L696.4,739.8L698.2,741.1L700.1,742.4L701.9,744L703.7,745.8L705.6,747.8L707.4,750.1L709.3,752.7L711.1,755.6L712.9,758.8L714.8,762.4L716.6,766.3L718.5,770.6L720.3,775.2L722.1,779.9L724,784.7L725.8,789.4L727.7,793.9L729.5,798.4L731.3,803L733.2,807.7L735,812.7L736.9,818.1L738.7,823.7L740.5,829.7L742.4,835.9L744.2,842.5L746.1,849.2L747.9,856.2L749.7,863.3L751.6,870.4L753.4,877.2L755.2,883.8L757.1,890.1L758.9,895.8L760.8,901.2L762.6,906L764.4,910.5L766.3,914.7L768.1,918.6L770,922.4L771.8,926L773.6,929.5L775.5,932.8L777.3,936L779.2,939L781,941.9L782.8,944.5L784.7,946.9L786.5,949L788.4,950.8L790.2,952.5L792,953.9L793.9,955.3L795.7,956.5L797.6,957.6L799.4,958.6L801.2,959.5L803.1,960.4L804.9,961.1L806.8,961.8L808.6,962.4L810.4,962.9L812.3,963.4L814.1,963.8L815.9,964.1L817.8,964.5L819.6,964.8L821.5,965.1L823.3,965.4L825.1,965.8L827,966.3L828.8,966.8L830.7,967.4L832.5,968.1L834.3,968.8L836.2,969.7L838,970.7L839.9,971.7L841.7,972.8L843.5,974L845.4,975.3L847.2,976.6L849.1,978L850.9,979.4L852.7,980.8L854.6,982.3L856.4,983.8L858.3,985.2L860.1,986.7L861.9,988.2L863.8,989.7L865.6,991.2L867.5,992.9L869.3,994.5L871.1,996.3L873,998.1L874.8,1000L876.6,1001.9L878.5,1003.8L880.3,1005.7L882.2,1007.7L884,1009.6L885.8,1011.5L887.7,1013.4L889.5,1015.2L891.4,1016.9L893.2,1018.6L895,1020.2L896.9,1021.6L898.7,1023L900.6,1024.3L902.4,1025.4L904.2,1026.5L906.1,1027.4L907.9,1028.3L909.8,1029L911.6,1029.6L913.4,1030.2L915.3,1030.6L917.1,1030.9L919,1031.2L920.8,1031.3L922.6,1031.4L924.5,1031.5L926.3,1031.5L928.2,1031.4L930,1031.2L931.8,1030.9L933.7,1030.5L935.5,1029.9L937.3,1029.2L939.2,1028.4L941,1027.5L942.9,1026.4L944.7,1025.3L946.5,1024.1L948.4,1022.9L950.2,1021.6L952.1,1020.3L953.9,1019L955.7,1017.6L957.6,1016.2L959.4,1014.8L961.3,1013.4L963.1,1012.1L964.9,1010.7L966.8,1009.5L968.6,1008.3L970.5,1007.1L972.3,1005.9L974.1,1004.7L976,1003.5L977.8,1002.3L979.7,1001L981.5,999.6L983.3,998.2L985.2,996.7L987,995.2L988.9,993.6L990.7,992L992.5,990.3L994.4,988.7L996.2,987.1L998,985.4L999.9,983.8L1001.7,982.1L1003.6,980.5L1005.4,978.9L1007.2,977.3L1009.1,975.7L1010.9,974.2L1012.8,972.6L1014.6,971.2L1016.4,969.7L1018.3,968.3L1020.1,966.9L1022,965.6L1023.8,964.2L1025.6,963L1027.5,961.7L1029.3,960.5L1031.2,959.2L1033,958.1L1034.8,956.9L1036.7,955.7L1038.5,954.6L1040.4,953.4L1042.2,952.2L1044,951.1L1045.9,949.9L1047.7,948.7L1049.6,947.4L1051.4,946.2L1053.2,944.9L1055.1,943.6L1056.9,942.2L1058.7,940.9L1060.6,939.6L1062.4,938.2L1064.3,936.9L1066.1,935.5L1067.9,934.2L1069.8,932.9L1071.6,931.5L1073.5,930.2L1075.3,928.9L1077.1,927.6L1079,926.4L1080.8,925.2L1082.7,924L1084.5,922.9L1086.3,921.8L1088.2,920.9L1090,919.9L1091.9,919L1093.7,918.2L1095.5,917.4L1097.4,916.6L1099.2,915.9L1101.1,915.2L1102.9,914.5L1104.7,914L1106.6,913.4L1108.4,913L1110.3,912.5L1112.1,912.1L1113.9,911.8L1115.8,911.4L1117.6,911.1L1119.4,910.9L1121.3,910.7L1123.1,910.5L1125,910.4L1126.8,910.3L1128.6,910.3L1130.5,910.4L1132.3,910.5L1134.2,910.6L1136,910.8L1137.8,911.1L1139.7,911.3L1141.5,911.8L1143.4,912.6L1145.2,913.2L1147,913.4L1148.9,913.4L1150.7,913.4L1152.6,913.4L1154.4,912.7L1156.2,910.3L1158.1,906.5L1159.9,902L1161.8,897.7L1163.6,894L1165.4,890.2L1167.3,886.6L1169.1,883.1L1171,879.8L1172.8,876.5L1174.6,873L1176.5,869.3L1178.3,865L1180.1,860L1182,854.6L1183.8,848.7L1185.7,842.8L1187.5,836.8L1189.3,831L1191.2,825.3L1193,819.6L1194.9,813.8L1196.7,807.8L1198.5,801.6L1200.4,795.3L1202.2,788.8L1204.1,782.1L1205.9,775.2L1207.7,768.1L1209.6,760.8L1211.4,753.2L1213.3,745.3L1215.1,737.1L1216.9,728.8L1218.8,720.2L1220.6,711.4L1222.5,702.5L1224.3,693.5L1226.1,684.3L1228,675.1L1229.8,665.8L1231.7,656.4L1233.5,646.7L1235.3,636.6L1237.2,626.1L1239,615.1L1240.8,603.9L1242.7,592.7L1244.5,581.7L1246.4,571L1248.2,560.8L1250,550.9L1251.9,541.2L1253.7,531.7L1255.6,522.3L1257.4,512.8L1259.2,503.2L1261.1,493.5L1262.9,483.6L1264.8,473.5L1266.6,463.5L1268.4,453.5L1270.3,443.8L1272.1,434.6L1274,425.8L1275.8,417.6L1277.6,409.9L1279.5,402.9L1281.3,396.6L1283.2,390.8L1285,384.9L1286.8,380.5L1288.7,377.5L1290.5,375.7L1292.4,373.8L1294.2,371.8L1296,369.9L1297.9,368.7L1299.7,368.8L1301.5,370.7L1303.4,373.5L1305.2,375.8L1307.1,378.3L1308.9,381.7L1310.7,386.6L1312.6,391.6L1314.4,397.3L1316.3,403.8L1318.1,411L1319.9,419L1321.8,427.7L1323.6,437.2L1325.5,447.7L1327.3,459L1329.1,471.3L1331,484.4L1332.8,498.2L1334.7,512.5L1336.5,527.2L1338.3,542.2L1340.2,557.5L1342,573.3L1343.9,589.5L1345.7,606.1L1347.5,623L1349.4,639.8L1351.2,656.3L1353.1,672.3L1354.9,688.1L1356.7,703.8L1358.6,719.7L1360.4,735.9L1362.2,752.4L1364.1,769L1365.9,785.5L1367.8,801.5L1369.6,817L1371.4,831.8L1373.3,845.9L1375.1,859.4L1377,872.3L1378.8,884.7L1380.6,896.8L1382.5,909L1384.3,921.5L1386.2,933.2L1388,943.4"/>
<path fill="#2828ff" d="M169.5,951L178.5,951L181.9,966L172.9,966ZM173.2,967L182.2,967L185.6,980L176.6,980ZM176.9,981L185.9,981L189.2,990L180.2,990ZM180.5,991L189.5,991L192.8,998L183.8,998ZM184.2,999L186.1,1002.7L187.9,1005.8L189.7,1008.4L191.6,1010.5L200.6,1010.5L198.7,1008.4L196.9,1005.8L195.1,1002.7L193.2,999ZM196.1,1006L197.9,1007.7L199.8,1009.1L201.6,1010.2L203.4,1011L205.3,1011.6L207.1,1011.9L208.9,1012L210.8,1011.8L212.6,1011.5L214.5,1010.9L216.3,1010.2L218.1,1009.3L220,1008.4L221.8,1007.4L223.7,1006.3L225.5,1005.2L227.3,1004L229.2,1002.8L231,1001.6L232.9,1000.4L234.7,999.2L236.5,998L238.4,996.9L240.2,995.8L242.1,994.8L243.9,993.8L245.7,992.8L247.6,991.9L249.4,991.1L251.3,990.4L253.1,989.7L254.9,989.1L256.8,988.6L258.6,988.1L260.5,987.7L262.3,987.3L264.1,987L266,986.7L267.8,986.5L269.6,986.2L271.5,986L273.3,985.8L275.2,985.6L277,985.5L278.8,985.3L280.7,985.2L282.5,985L284.4,984.9L286.2,984.8L288,984.7L289.9,984.6L291.7,984.5L293.6,984.5L295.4,984.4L297.2,984.3L299.1,984.2L300.9,984.1L302.8,984L304.6,983.9L306.4,983.7L308.3,983.5L310.1,983.3L312,983.1L313.8,982.8L315.6,982.5L317.5,982.2L319.3,981.9L321.2,981.6L323,981.3L324.8,980.9L326.7,980.5L328.5,980.2L330.3,979.8L332.2,979.3L334,978.9L335.9,978.5L337.7,978L339.5,977.5L341.4,976.9L343.2,976.4L345.1,975.8L346.9,975.2L348.7,974.5L350.6,973.8L352.4,973.1L354.3,972.3L356.1,971.5L357.9,970.7L359.8,969.9L361.6,969L363.5,968L365.3,967.1L367.1,966.1L369,965.1L370.8,964.1L372.7,963L374.5,961.8L376.3,960.6L378.2,959.3L380,958L381.9,956.6L383.7,955.1L385.5,953.6L387.4,952L389.2,950.4L391,948.8L392.9,947.1L394.7,945.4L396.6,943.7L398.4,942L400.2,940.2L402.1,938.4L403.9,936.5L403.9,945.5L402.1,947.4L400.2,949.2L398.4,951L396.6,952.7L394.7,954.4L392.9,956.1L391,957.8L389.2,959.4L387.4,961L385.5,962.6L383.7,964.1L381.9,965.6L380,967L378.2,968.3L376.3,969.6L374.5,970.8L372.7,972L370.8,973.1L369,974.1L367.1,975.1L365.3,976.1L363.5,977L361.6,978L359.8,978.9L357.9,979.7L356.1,980.5L354.3,981.3L352.4,982.1L350.6,982.8L348.7,983.5L346.9,984.2L345.1,984.8L343.2,985.4L341.4,985.9L339.5,986.5L337.7,987L335.9,987.5L334,987.9L332.2,988.3L330.3,988.8L328.5,989.2L326.7,989.5L324.8,989.9L323,990.3L321.2,990.6L319.3,990.9L317.5,991.2L315.6,991.5L313.8,991.8L312,992.1L310.1,992.3L308.3,992.5L306.4,992.7L304.6,992.9L302.8,993L300.9,993.1L299.1,993.2L297.2,993.3L295.4,993.4L293.6,993.5L291.7,993.5L289.9,993.6L288,993.7L286.2,993.8L284.4,993.9L282.5,994L280.7,994.2L278.8,994.3L277,994.5L275.2,994.6L273.3,994.8L271.5,995L269.6,995.2L267.8,995.5L266,995.7L264.1,996L262.3,996.3L260.5,996.7L258.6,997.1L256.8,997.6L254.9,998.1L253.1,998.7L251.3,999.4L249.4,1000.1L247.6,1000.9L245.7,1001.8L243.9,1002.8L242.1,1003.8L240.2,1004.8L238.4,1005.9L236.5,1007L234.7,1008.2L232.9,1009.4L231,1010.6L229.2,1011.8L227.3,1013L225.5,1014.2L223.7,1015.3L221.8,1016.4L220,1017.4L218.1,1018.3L216.3,1019.2L214.5,1019.9L212.6,1020.5L210.8,1020.8L208.9,1021L207.1,1020.9L205.3,1020.6L203.4,1020L201.6,1019.2L199.8,1018.1L197.9,1016.7L196.1,1015ZM399.4,941L401.3,939.2L403.1,937.3L404.9,935.3L406.8,933.3L408.6,931.3L410.5,929.3L412.3,927.3L414.1,925.3L416,923.3L417.8,921.5L426.8,921.5L425,923.3L423.1,925.3L421.3,927.3L419.5,929.3L417.6,931.3L415.8,933.3L413.9,935.3L412.1,937.3L410.3,939.2L408.4,941ZM422.3,917L424.2,915.1L426,913.3L427.8,911.6L429.7,909.9L431.5,908.2L433.4,906.6L435.2,905L437,903.4L438.9,901.9L440.7,900.3L442.6,898.8L444.4,897.3L446.2,895.8L448.1,894.3L449.9,892.9L451.7,891.5L453.6,890.1L455.4,888.8L457.3,887.5L459.1,886.2L460.9,885L462.8,883.9L464.6,882.9L466.5,881.9L468.3,881L470.1,880.3L472,879.7L473.8,879.2L475.7,878.8L477.5,878.5L479.3,878.3L481.2,878.2L483,878L484.9,877.9L486.7,877.8L488.5,877.6L490.4,877.5L492.2,877.4L494.1,877.3L495.9,877.1L497.7,877L499.6,876.8L501.4,876.7L503.3,876.5L505.1,876.2L506.9,876L508.8,875.7L510.6,875.4L512.4,875.1L514.3,874.8L516.1,874.4L518,874.1L519.8,873.7L521.6,873.3L523.5,872.9L525.3,872.4L527.2,871.9L529,871.4L530.8,870.8L532.7,870.1L534.5,869.4L536.4,868.5L538.2,867.6L540,866.5L541.9,865.4L543.7,864.2L545.6,862.9L547.4,861.5L549.2,860.1L551.1,858.6L552.9,857L554.8,855.3L554.8,864.3L552.9,866L551.1,867.6L549.2,869.1L547.4,870.5L545.6,871.9L543.7,873.2L541.9,874.4L540,875.5L538.2,876.6L536.4,877.5L534.5,878.4L532.7,879.1L530.8,879.8L529,880.4L527.2,880.9L525.3,881.4L523.5,881.9L521.6,882.3L519.8,882.7L518,883.1L516.1,883.4L514.3,883.8L512.4,884.1L510.6,884.4L508.8,884.7L506.9,885L505.1,885.2L503.3,885.5L501.4,885.7L499.6,885.8L497.7,886L495.9,886.1L494.1,886.3L492.2,886.4L490.4,886.5L488.5,886.6L486.7,886.8L484.9,886.9L483,887L481.2,887.2L479.3,887.3L477.5,887.5L475.7,887.8L473.8,888.2L472,888.7L470.1,889.3L468.3,890L466.5,890.9L464.6,891.9L462.8,892.9L460.9,894L459.1,895.2L457.3,896.5L455.4,897.8L453.6,899.1L451.7,900.5L449.9,901.9L448.1,903.3L446.2,904.8L444.4,906.3L442.6,907.8L440.7,909.3L438.9,910.9L437,912.4L435.2,914L433.4,915.6L431.5,917.2L429.7,918.9L427.8,920.6L426,922.3L424.2,924.1L422.3,926ZM550.3,859.8L552.1,857.9L553.9,856L555.8,853.8L557.6,851.6L559.5,849.1L561.3,846.6L563.1,843.8L565,840.9L566.8,837.8L568.6,834.4L570.5,830.9L579.5,830.9L577.6,834.4L575.8,837.8L574,840.9L572.1,843.8L570.3,846.6L568.5,849.1L566.6,851.6L564.8,853.8L562.9,856L561.1,857.9L559.3,859.8ZM570.9,830L579.9,830L585,819L576,819ZM576.4,818L585.4,818L590.5,806L581.5,806ZM581.9,805L590.9,805L596,792L587,792ZM587.5,791L596.5,791L601.6,779L592.6,779ZM593,778L602,778L605.2,770L596.2,770ZM596.6,769L605.6,769L608.9,760L599.9,760ZM600.3,759L609.3,759L612.6,749L603.6,749ZM603.9,748L612.9,748L616.3,737L607.3,737ZM607.6,736L616.6,736L620,724L611,724ZM611.2,723L620.2,723L623.6,711L614.6,711ZM614.9,710L623.9,710L627.3,699L618.3,699ZM618.6,698L627.6,698L631,686L622,686ZM622.3,685L631.3,685L634.7,673L625.7,673ZM626,672L635,672L638.3,660L629.3,660ZM629.6,659L638.6,659L642,647L633,647ZM633.3,646L642.3,646L645.7,635L636.7,635ZM637,634L646,634L649.4,623L640.4,623ZM640.8,622L649.8,622L653.1,614L644.1,614ZM644.5,613L653.5,613L658.6,601L649.6,601ZM650,600L659,600L660.4,597L651.4,597ZM651.4,597.1L653.3,593.4L655.1,591L664.1,591L662.3,593.4L660.4,597.1ZM659.6,586.5L661.4,584.7L663.3,583.3L665.1,582.1L667,580.7L668.8,579.2L668.8,588.2L667,589.7L665.1,591.1L663.3,592.3L661.4,593.7L659.6,595.5ZM664.3,583.7L666.1,581.6L668,579.6L677,579.6L675.1,581.6L673.3,583.7ZM672.5,575.1L674.3,574.3L676.2,575.3L676.2,584.3L674.3,583.3L672.5,584.1ZM671.7,579.8L673.5,581.8L675.3,583.9L684.3,583.9L682.5,581.8L680.7,579.8ZM679.8,579.4L681.7,580.8L683.5,582L685.4,583.2L687.2,584.6L689,586.4L689,595.4L687.2,593.6L685.4,592.2L683.5,591L681.7,589.8L679.8,588.4ZM684.5,590.9L686.4,593.6L695.4,593.6L693.5,590.9ZM686.4,594L695.4,594L698.7,603L689.7,603ZM690,604L699,604L702.5,617L693.5,617ZM693.7,618L702.7,618L706.1,629L697.1,629ZM697.4,630L706.4,630L709.8,643L700.8,643ZM701.1,644L710.1,644L713.6,661L704.6,661ZM704.8,662L713.8,662L715.4,670L706.4,670ZM706.6,671L715.6,671L717.3,680L708.3,680ZM708.4,681L717.4,681L719.1,690L710.1,690ZM710.3,691L719.3,691L720.9,699L711.9,699ZM712.1,700L721.1,700L724.6,717L715.6,717ZM715.8,718L724.8,718L728.2,732L719.2,732ZM719.5,733L728.5,733L731.9,748L722.9,748ZM723.2,749L732.2,749L735.6,764L726.6,764ZM726.8,765L735.8,765L739.3,780L730.3,780ZM730.5,781L739.5,781L743,796L734,796ZM734.2,797L743.2,797L746.7,813L737.7,813ZM737.9,814L746.9,814L750.3,828L741.3,828ZM741.6,829L750.6,829L754,843L745,843ZM745.2,844L754.2,844L757.6,857L748.6,857ZM748.9,858L757.9,858L761.3,871L752.3,871ZM752.6,872L761.6,872L765,884L756,884ZM756.3,885L765.3,885L768.6,896L759.6,896ZM759.9,897L768.9,897L772.2,905L763.2,905ZM763.6,906L772.6,906L773.9,908L764.9,908ZM765.5,909.4L767.3,913L769.1,916.3L771,919.6L772.8,922.8L774.7,925.9L776.5,928.9L778.3,931.8L780.2,934.5L782,937L783.9,939.1L785.7,941L794.7,941L792.9,939.1L791,937L789.2,934.5L787.3,931.8L785.5,928.9L783.7,925.9L781.8,922.8L780,919.6L778.1,916.3L776.3,913L774.5,909.4ZM790.2,936.5L792,938.2L793.9,939.7L795.7,941.2L797.6,942.6L799.4,944L801.2,945.4L803.1,946.8L804.9,948.2L806.8,949.6L808.6,951L810.4,952.4L812.3,953.8L814.1,955.1L815.9,956.3L817.8,957.5L819.6,958.6L821.5,959.6L823.3,960.7L825.1,961.9L827,963.1L828.8,964.3L830.7,965.6L832.5,966.9L834.3,968.3L836.2,969.7L838,971.1L839.9,972.5L841.7,974L843.5,975.4L845.4,976.9L847.2,978.4L849.1,979.9L850.9,981.3L852.7,982.7L854.6,984.1L856.4,985.4L858.3,986.6L860.1,987.8L861.9,988.9L863.8,990.1L865.6,991.2L867.5,992.4L869.3,993.7L871.1,995L873,996.3L874.8,997.7L876.6,999.1L878.5,1000.5L880.3,1002L882.2,1003.4L884,1004.8L885.8,1006.3L887.7,1007.7L889.5,1009.1L891.4,1010.3L893.2,1011.5L895,1012.5L896.9,1013.3L898.7,1013.9L900.6,1014.4L902.4,1014.8L904.2,1015.1L906.1,1015.2L907.9,1015.4L909.8,1015.4L911.6,1015.4L913.4,1015.4L915.3,1015.4L917.1,1015.3L919,1015.2L920.8,1015L922.6,1014.7L924.5,1014.4L926.3,1014L928.2,1013.5L930,1012.9L931.8,1012.3L933.7,1011.7L935.5,1011L937.3,1010.4L939.2,1009.7L941,1009L942.9,1008.4L944.7,1007.8L946.5,1007.1L948.4,1006.5L950.2,1005.8L952.1,1005.1L953.9,1004.4L955.7,1003.7L957.6,1002.9L959.4,1002L961.3,1001.2L963.1,1000.2L964.9,999.3L966.8,998.3L968.6,997.3L970.5,996.2L972.3,995L974.1,993.9L976,992.6L977.8,991.4L979.7,990L981.5,988.6L983.3,987.2L985.2,985.7L987,984.2L988.9,982.6L990.7,981L992.5,979.4L994.4,977.8L996.2,976.2L998,974.5L999.9,972.9L1001.7,971.3L1003.6,969.7L1005.4,968.1L1007.2,966.5L1009.1,965L1010.9,963.5L1012.8,962L1014.6,960.5L1016.4,959.1L1018.3,957.7L1020.1,956.4L1022,955L1023.8,953.7L1025.6,952.4L1027.5,951.1L1029.3,949.8L1031.2,948.5L1033,947.2L1034.8,945.9L1036.7,944.7L1038.5,943.4L1040.4,942.2L1042.2,940.9L1044,939.7L1045.9,938.5L1047.7,937.2L1049.6,936L1051.4,934.8L1053.2,933.6L1055.1,932.4L1056.9,931.2L1058.7,930L1060.6,928.8L1062.4,927.7L1064.3,926.5L1066.1,925.3L1067.9,924.2L1069.8,923L1071.6,921.9L1073.5,920.7L1075.3,919.6L1077.1,918.4L1079,917.3L1080.8,916.3L1082.7,915.2L1084.5,914.2L1086.3,913.2L1088.2,912.3L1090,911.3L1091.9,910.5L1093.7,909.6L1095.5,908.8L1097.4,908L1099.2,907.3L1101.1,906.7L1102.9,906.1L1104.7,905.5L1106.6,905L1108.4,904.6L1110.3,904.3L1112.1,904L1113.9,903.7L1115.8,903.5L1117.6,903.3L1119.4,903.1L1121.3,903L1123.1,902.9L1125,902.8L1126.8,902.7L1128.6,902.7L1130.5,902.7L1132.3,902.7L1134.2,902.8L1136,902.9L1137.8,903.1L1139.7,903.2L1141.5,903.6L1143.4,904.1L1145.2,904.7L1147,905.1L1148.9,905.3L1150.7,905.5L1152.6,905.4L1154.4,903.9L1154.4,912.9L1152.6,914.4L1150.7,914.5L1148.9,914.3L1147,914.1L1145.2,913.7L1143.4,913.1L1141.5,912.6L1139.7,912.2L1137.8,912.1L1136,911.9L1134.2,911.8L1132.3,911.7L1130.5,911.7L1128.6,911.7L1126.8,911.7L1125,911.8L1123.1,911.9L1121.3,912L1119.4,912.1L1117.6,912.3L1115.8,912.5L1113.9,912.7L1112.1,913L1110.3,913.3L1108.4,913.6L1106.6,914L1104.7,914.5L1102.9,915.1L1101.1,915.7L1099.2,916.3L1097.4,917L1095.5,917.8L1093.7,918.6L1091.9,919.5L1090,920.3L1088.2,921.3L1086.3,922.2L1084.5,923.2L1082.7,924.2L1080.8,925.3L1079,926.3L1077.1,927.4L1075.3,928.6L1073.5,929.7L1071.6,930.9L1069.8,932L1067.9,933.2L1066.1,934.3L1064.3,935.5L1062.4,936.7L1060.6,937.8L1058.7,939L1056.9,940.2L1055.1,941.4L1053.2,942.6L1051.4,943.8L1049.6,945L1047.7,946.2L1045.9,947.5L1044,948.7L1042.2,949.9L1040.4,951.2L1038.5,952.4L1036.7,953.7L1034.8,954.9L1033,956.2L1031.2,957.5L1029.3,958.8L1027.5,960.1L1025.6,961.4L1023.8,962.7L1022,964L1020.1,965.4L1018.3,966.7L1016.4,968.1L1014.6,969.5L1012.8,971L1010.9,972.5L1009.1,974L1007.2,975.5L1005.4,977.1L1003.6,978.7L1001.7,980.3L999.9,981.9L998,983.5L996.2,985.2L994.4,986.8L992.5,988.4L990.7,990L988.9,991.6L987,993.2L985.2,994.7L983.3,996.2L981.5,997.6L979.7,999L977.8,1000.4L976,1001.6L974.1,1002.9L972.3,1004L970.5,1005.2L968.6,1006.3L966.8,1007.3L964.9,1008.3L963.1,1009.2L961.3,1010.2L959.4,1011L957.6,1011.9L955.7,1012.7L953.9,1013.4L952.1,1014.1L950.2,1014.8L948.4,1015.5L946.5,1016.1L944.7,1016.8L942.9,1017.4L941,1018L939.2,1018.7L937.3,1019.4L935.5,1020L933.7,1020.7L931.8,1021.3L930,1021.9L928.2,1022.5L926.3,1023L924.5,1023.4L922.6,1023.7L920.8,1024L919,1024.2L917.1,1024.3L915.3,1024.4L913.4,1024.4L911.6,1024.4L909.8,1024.4L907.9,1024.4L906.1,1024.2L904.2,1024.1L902.4,1023.8L900.6,1023.4L898.7,1022.9L896.9,1022.3L895,1021.5L893.2,1020.5L891.4,1019.3L889.5,1018.1L887.7,1016.7L885.8,1015.3L884,1013.8L882.2,1012.4L880.3,1011L878.5,1009.5L876.6,1008.1L874.8,1006.7L873,1005.3L871.1,1004L869.3,1002.7L867.5,1001.4L865.6,1000.2L863.8,999.1L861.9,997.9L860.1,996.8L858.3,995.6L856.4,994.4L854.6,993.1L852.7,991.7L850.9,990.3L849.1,988.9L847.2,987.4L845.4,985.9L843.5,984.4L841.7,983L839.9,981.5L838,980.1L836.2,978.7L834.3,977.3L832.5,975.9L830.7,974.6L828.8,973.3L827,972.1L825.1,970.9L823.3,969.7L821.5,968.6L819.6,967.6L817.8,966.5L815.9,965.3L814.1,964.1L812.3,962.8L810.4,961.4L808.6,960L806.8,958.6L804.9,957.2L803.1,955.8L801.2,954.4L799.4,953L797.6,951.6L795.7,950.2L793.9,948.7L792,947.2L790.2,945.5ZM1149.9,908.4L1151.7,905.7L1160.7,905.7L1158.9,908.4ZM1152.2,905L1161.2,905L1166.3,894L1157.3,894ZM1157.3,894L1159.1,890.6L1160.9,887.1L1162.8,883.8L1164.6,880.4L1166.5,877.2L1168.3,873.8L1170.1,870.2L1179.1,870.2L1177.3,873.8L1175.5,877.2L1173.6,880.4L1171.8,883.8L1169.9,887.1L1168.1,890.6L1166.3,894ZM1170.6,869L1179.6,869L1184.6,857L1175.6,857ZM1176,856L1185,856L1188.3,846L1179.3,846ZM1179.6,845L1188.6,845L1192,834L1183,834ZM1183.3,833L1192.3,833L1195.7,823L1186.7,823ZM1187,822L1196,822L1199.4,811L1190.4,811ZM1190.7,810L1199.7,810L1203,799L1194,799ZM1194.3,798L1203.3,798L1206.7,786L1197.7,786ZM1198,785L1207,785L1210.4,773L1201.4,773ZM1201.6,772L1210.6,772L1214.1,758L1205.1,758ZM1205.3,757L1214.3,757L1217.8,742L1208.8,742ZM1209,741L1218,741L1221.4,726L1212.4,726ZM1212.7,725L1221.7,725L1225.1,709L1216.1,709ZM1216.3,708L1225.3,708L1228.8,691L1219.8,691ZM1220,690L1229,690L1230.6,682L1221.6,682ZM1221.8,681L1230.8,681L1232.5,673L1223.5,673ZM1223.7,672L1232.7,672L1234.3,664L1225.3,664ZM1225.5,663L1234.5,663L1236.2,654L1227.2,654ZM1227.4,653L1236.4,653L1238,645L1229,645ZM1229.2,644L1238.2,644L1239.8,635L1230.8,635ZM1231,634L1240,634L1241.7,624L1232.7,624ZM1232.8,623L1241.8,623L1243.5,613L1234.5,613ZM1234.7,612L1243.7,612L1245.3,602L1236.3,602ZM1236.5,601L1245.5,601L1247.2,591L1238.2,591ZM1238.4,590L1247.4,590L1249,580L1240,580ZM1240.2,579L1249.2,579L1250.9,570L1241.9,570ZM1242,569L1251,569L1252.7,559L1243.7,559ZM1243.9,558L1252.9,558L1254.5,550L1245.5,550ZM1245.7,549L1254.7,549L1256.4,540L1247.4,540ZM1247.6,539L1256.6,539L1258.2,531L1249.2,531ZM1249.4,530L1258.4,530L1260.1,521L1251.1,521ZM1251.3,520L1260.3,520L1261.9,512L1252.9,512ZM1253.1,511L1262.1,511L1263.7,502L1254.7,502ZM1254.9,501L1263.9,501L1265.6,493L1256.6,493ZM1256.8,492L1265.8,492L1267.4,483L1258.4,483ZM1258.6,482L1267.6,482L1269.3,473L1260.3,473ZM1260.4,472L1269.4,472L1271.1,463L1262.1,463ZM1262.3,462L1271.3,462L1272.9,453L1263.9,453ZM1264.1,452L1273.1,452L1274.8,443L1265.8,443ZM1266,442L1275,442L1276.6,434L1267.6,434ZM1267.8,433L1276.8,433L1280.3,417L1271.3,417ZM1271.6,416L1280.6,416L1284,403L1275,403ZM1275.3,402L1284.3,402L1287.7,391L1278.7,391ZM1279,390L1288,390L1291.3,380L1282.3,380ZM1282.3,380.3L1284.2,377.4L1293.2,377.4L1291.3,380.3ZM1288.7,372.9L1290.5,371.1L1290.5,380.1L1288.7,381.9ZM1286,375.6L1287.9,373.7L1289.7,371.5L1291.5,369.6L1300.5,369.6L1298.7,371.5L1296.9,373.7L1295,375.6ZM1296,365.1L1297.9,364.1L1299.7,364.6L1299.7,373.6L1297.9,373.1L1296,374.1ZM1295.2,369.1L1297,371.4L1298.9,374.2L1300.7,376.4L1302.6,378.9L1311.6,378.9L1309.7,376.4L1307.9,374.2L1306,371.4L1304.2,369.1ZM1302.6,379L1311.6,379L1316.7,392L1307.7,392ZM1308.1,393L1317.1,393L1320.5,405L1311.5,405ZM1311.8,406L1320.8,406L1324.2,420L1315.2,420ZM1315.4,421L1324.4,421L1327.9,439L1318.9,439ZM1319.1,440L1328.1,440L1329.8,450L1320.8,450ZM1321,451L1330,451L1331.6,461L1322.6,461ZM1322.8,462L1331.8,462L1333.5,474L1324.5,474ZM1324.6,475L1333.6,475L1335.3,487L1326.3,487ZM1326.5,488L1335.5,488L1337.2,501L1328.2,501ZM1328.3,502L1337.3,502L1339,515L1330,515ZM1330.2,516L1339.2,516L1340.9,530L1331.9,530ZM1332,531L1341,531L1342.7,545L1333.7,545ZM1333.8,546L1342.8,546L1344.6,561L1335.6,561ZM1335.7,562L1344.7,562L1346.4,577L1337.4,577ZM1337.5,578L1346.5,578L1348.2,593L1339.2,593ZM1339.4,594L1348.4,594L1350.1,610L1341.1,610ZM1341.2,611L1350.2,611L1351.9,627L1342.9,627ZM1343,628L1352,628L1353.8,643L1344.8,643ZM1344.9,644L1353.9,644L1355.6,660L1346.6,660ZM1346.7,661L1355.7,661L1357.4,676L1348.4,676ZM1348.6,677L1357.6,677L1359.3,691L1350.3,691ZM1350.4,692L1359.4,692L1361.1,707L1352.1,707ZM1352.2,708L1361.2,708L1363,723L1354,723ZM1354.1,724L1363.1,724L1364.8,739L1355.8,739ZM1355.9,740L1364.9,740L1366.6,756L1357.6,756ZM1357.7,757L1366.7,757L1368.5,773L1359.5,773ZM1359.6,774L1368.6,774L1370.3,789L1361.3,789ZM1361.4,790L1370.4,790L1372.2,805L1363.2,805ZM1363.3,806L1372.3,806L1374,820L1365,820ZM1365.1,821L1374.1,821L1375.8,835L1366.8,835ZM1366.9,836L1375.9,836L1377.7,849L1368.7,849ZM1368.8,850L1377.8,850L1379.5,862L1370.5,862ZM1370.6,863L1379.6,863L1381.3,875L1372.3,875ZM1372.5,876L1381.5,876L1383.1,887L1374.1,887ZM1374.3,888L1383.3,888L1385,899L1376,899ZM1376.1,900L1385.1,900L1386.8,911L1377.8,911ZM1378,912L1387,912L1388.7,924L1379.7,924ZM1379.8,925L1388.8,925L1390.5,935L1381.5,935ZM1381.7,936L1390.7,936L1392.3,945L1383.3,945Z"/>
<path fill="none" stroke="#2828ff" stroke-width="7.7" stroke-linejoin="round" d="M188.7,999L190.6,1002.7L192.4,1005.8L194.2,1008.4L196.1,1010.5L197.9,1012.2L199.8,1013.6L201.6,1014.7L203.4,1015.5L205.3,1016.1L207.1,1016.4L208.9,1016.5L210.8,1016.3L212.6,1016L214.5,1015.4L216.3,1014.7L218.1,1013.8L220,1012.9L221.8,1011.9L223.7,1010.8L225.5,1009.7L227.3,1008.5L229.2,1007.3L231,1006.1L232.9,1004.9L234.7,1003.7L236.5,1002.5L238.4,1001.4L240.2,1000.3L242.1,999.3L243.9,998.3L245.7,997.3L247.6,996.4L249.4,995.6L251.3,994.9L253.1,994.2L254.9,993.6L256.8,993.1L258.6,992.6L260.5,992.2L262.3,991.8L264.1,991.5L266,991.2L267.8,991L269.6,990.7L271.5,990.5L273.3,990.3L275.2,990.1L277,990L278.8,989.8L280.7,989.7L282.5,989.5L284.4,989.4L286.2,989.3L288,989.2L289.9,989.1L291.7,989L293.6,989L295.4,988.9L297.2,988.8L299.1,988.7L300.9,988.6L302.8,988.5L304.6,988.4L306.4,988.2L308.3,988L310.1,987.8L312,987.6L313.8,987.3L315.6,987L317.5,986.7L319.3,986.4L321.2,986.1L323,985.8L324.8,985.4L326.7,985L328.5,984.7L330.3,984.3L332.2,983.8L334,983.4L335.9,983L337.7,982.5L339.5,982L341.4,981.4L343.2,980.9L345.1,980.3L346.9,979.7L348.7,979L350.6,978.3L352.4,977.6L354.3,976.8L356.1,976L357.9,975.2L359.8,974.4L361.6,973.5L363.5,972.5L365.3,971.6L367.1,970.6L369,969.6L370.8,968.6L372.7,967.5L374.5,966.3L376.3,965.1L378.2,963.8L380,962.5L381.9,961.1L383.7,959.6L385.5,958.1L387.4,956.5L389.2,954.9L391,953.3L392.9,951.6L394.7,949.9L396.6,948.2L398.4,946.5L400.2,944.7L402.1,942.9L403.9,941L405.8,939.2L407.6,937.3L409.4,935.3L411.3,933.3L413.1,931.3L415,929.3L416.8,927.3L418.6,925.3L420.5,923.3L422.3,921.5L424.2,919.6L426,917.8L427.8,916.1L429.7,914.4L431.5,912.7L433.4,911.1L435.2,909.5L437,907.9L438.9,906.4L440.7,904.8L442.6,903.3L444.4,901.8L446.2,900.3L448.1,898.8L449.9,897.4L451.7,896L453.6,894.6L455.4,893.3L457.3,892L459.1,890.7L460.9,889.5L462.8,888.4L464.6,887.4L466.5,886.4L468.3,885.5L470.1,884.8L472,884.2L473.8,883.7L475.7,883.3L477.5,883L479.3,882.8L481.2,882.7L483,882.5L484.9,882.4L486.7,882.3L488.5,882.1L490.4,882L492.2,881.9L494.1,881.8L495.9,881.6L497.7,881.5L499.6,881.3L501.4,881.2L503.3,881L505.1,880.7L506.9,880.5L508.8,880.2L510.6,879.9L512.4,879.6L514.3,879.3L516.1,878.9L518,878.6L519.8,878.2L521.6,877.8L523.5,877.4L525.3,876.9L527.2,876.4L529,875.9L530.8,875.3L532.7,874.6L534.5,873.9L536.4,873L538.2,872.1L540,871L541.9,869.9L543.7,868.7L545.6,867.4L547.4,866L549.2,864.6L551.1,863.1L552.9,861.5L554.8,859.8L556.6,857.9L558.4,856L560.3,853.8L562.1,851.6L564,849.1L565.8,846.6L567.6,843.8L569.5,840.9L571.3,837.8L573.1,834.4L575,830.9M655.9,597.1L657.8,593.4L659.6,591L661.4,589.2L663.3,587.8L665.1,586.6L667,585.2L668.8,583.7L670.6,581.6L672.5,579.6L674.3,578.8L676.2,579.8L678,581.8L679.8,583.9L681.7,585.3L683.5,586.5L685.4,587.7L687.2,589.1L689,590.9L690.9,593.6M770,909.4L771.8,913L773.6,916.3L775.5,919.6L777.3,922.8L779.2,925.9L781,928.9L782.8,931.8L784.7,934.5L786.5,937L788.4,939.1L790.2,941L792,942.7L793.9,944.2L795.7,945.7L797.6,947.1L799.4,948.5L801.2,949.9L803.1,951.3L804.9,952.7L806.8,954.1L808.6,955.5L810.4,956.9L812.3,958.3L814.1,959.6L815.9,960.8L817.8,962L819.6,963.1L821.5,964.1L823.3,965.2L825.1,966.4L827,967.6L828.8,968.8L830.7,970.1L832.5,971.4L834.3,972.8L836.2,974.2L838,975.6L839.9,977L841.7,978.5L843.5,979.9L845.4,981.4L847.2,982.9L849.1,984.4L850.9,985.8L852.7,987.2L854.6,988.6L856.4,989.9L858.3,991.1L860.1,992.3L861.9,993.4L863.8,994.6L865.6,995.7L867.5,996.9L869.3,998.2L871.1,999.5L873,1000.8L874.8,1002.2L876.6,1003.6L878.5,1005L880.3,1006.5L882.2,1007.9L884,1009.3L885.8,1010.8L887.7,1012.2L889.5,1013.6L891.4,1014.8L893.2,1016L895,1017L896.9,1017.8L898.7,1018.4L900.6,1018.9L902.4,1019.3L904.2,1019.6L906.1,1019.7L907.9,1019.9L909.8,1019.9L911.6,1019.9L913.4,1019.9L915.3,1019.9L917.1,1019.8L919,1019.7L920.8,1019.5L922.6,1019.2L924.5,1018.9L926.3,1018.5L928.2,1018L930,1017.4L931.8,1016.8L933.7,1016.2L935.5,1015.5L937.3,1014.9L939.2,1014.2L941,1013.5L942.9,1012.9L944.7,1012.3L946.5,1011.6L948.4,1011L950.2,1010.3L952.1,1009.6L953.9,1008.9L955.7,1008.2L957.6,1007.4L959.4,1006.5L961.3,1005.7L963.1,1004.7L964.9,1003.8L966.8,1002.8L968.6,1001.8L970.5,1000.7L972.3,999.5L974.1,998.4L976,997.1L977.8,995.9L979.7,994.5L981.5,993.1L983.3,991.7L985.2,990.2L987,988.7L988.9,987.1L990.7,985.5L992.5,983.9L994.4,982.3L996.2,980.7L998,979L999.9,977.4L1001.7,975.8L1003.6,974.2L1005.4,972.6L1007.2,971L1009.1,969.5L1010.9,968L1012.8,966.5L1014.6,965L1016.4,963.6L1018.3,962.2L1020.1,960.9L1022,959.5L1023.8,958.2L1025.6,956.9L1027.5,955.6L1029.3,954.3L1031.2,953L1033,951.7L1034.8,950.4L1036.7,949.2L1038.5,947.9L1040.4,946.7L1042.2,945.4L1044,944.2L1045.9,943L1047.7,941.7L1049.6,940.5L1051.4,939.3L1053.2,938.1L1055.1,936.9L1056.9,935.7L1058.7,934.5L1060.6,933.3L1062.4,932.2L1064.3,931L1066.1,929.8L1067.9,928.7L1069.8,927.5L1071.6,926.4L1073.5,925.2L1075.3,924.1L1077.1,922.9L1079,921.8L1080.8,920.8L1082.7,919.7L1084.5,918.7L1086.3,917.7L1088.2,916.8L1090,915.8L1091.9,915L1093.7,914.1L1095.5,913.3L1097.4,912.5L1099.2,911.8L1101.1,911.2L1102.9,910.6L1104.7,910L1106.6,909.5L1108.4,909.1L1110.3,908.8L1112.1,908.5L1113.9,908.2L1115.8,908L1117.6,907.8L1119.4,907.6L1121.3,907.5L1123.1,907.4L1125,907.3L1126.8,907.2L1128.6,907.2L1130.5,907.2L1132.3,907.2L1134.2,907.3L1136,907.4L1137.8,907.6L1139.7,907.7L1141.5,908.1L1143.4,908.6L1145.2,909.2L1147,909.6L1148.9,909.8L1150.7,910L1152.6,909.9L1154.4,908.4L1156.2,905.7M1161.8,894L1163.6,890.6L1165.4,887.1L1167.3,883.8L1169.1,880.4L1171,877.2L1172.8,873.8L1174.6,870.2M1286.8,380.3L1288.7,377.4L1290.5,375.6L1292.4,373.7L1294.2,371.5L1296,369.6L1297.9,368.6L1299.7,369.1L1301.5,371.4L1303.4,374.2L1305.2,376.4L1307.1,378.9"/>
<path fill="none" stroke="#2828ff" stroke-width="1" d="M174,951L175.8,959.5L177.7,967.4L179.5,974.8L181.4,981.1L183.2,986.5L185,991L186.9,995.2L188.7,999L190.6,1002.7L192.4,1005.8L194.2,1008.4L196.1,1010.5L197.9,1012.2L199.8,1013.6L201.6,1014.7L203.4,1015.5L205.3,1016.1L207.1,1016.4L208.9,1016.5L210.8,1016.3L212.6,1016L214.5,1015.4L216.3,1014.7L218.1,1013.8L220,1012.9L221.8,1011.9L223.7,1010.8L225.5,1009.7L227.3,1008.5L229.2,1007.3L231,1006.1L232.9,1004.9L234.7,1003.7L236.5,1002.5L238.4,1001.4L240.2,1000.3L242.1,999.3L243.9,998.3L245.7,997.3L247.6,996.4L249.4,995.6L251.3,994.9L253.1,994.2L254.9,993.6L256.8,993.1L258.6,992.6L260.5,992.2L262.3,991.8L264.1,991.5L266,991.2L267.8,991L269.6,990.7L271.5,990.5L273.3,990.3L275.2,990.1L277,990L278.8,989.8L280.7,989.7L282.5,989.5L284.4,989.4L286.2,989.3L288,989.2L289.9,989.1L291.7,989L293.6,989L295.4,988.9L297.2,988.8L299.1,988.7L300.9,988.6L302.8,988.5L304.6,988.4L306.4,988.2L308.3,988L310.1,987.8L312,987.6L313.8,987.3L315.6,987L317.5,986.7L319.3,986.4L321.2,986.1L323,985.8L324.8,985.4L326.7,985L328.5,984.7L330.3,984.3L332.2,983.8L334,983.4L335.9,983L337.7,982.5L339.5,982L341.4,981.4L343.2,980.9L345.1,980.3L346.9,979.7L348.7,979L350.6,978.3L352.4,977.6L354.3,976.8L356.1,976L357.9,975.2L359.8,974.4L361.6,973.5L363.5,972.5L365.3,971.6L367.1,970.6L369,969.6L370.8,968.6L372.7,967.5L374.5,966.3L376.3,965.1L378.2,963.8L380,962.5L381.9,961.1L383.7,959.6L385.5,958.1L387.4,956.5L389.2,954.9L391,953.3L392.9,951.6L394.7,949.9L396.6,948.2L398.4,946.5L400.2,944.7L402.1,942.9L403.9,941L405.8,939.2L407.6,937.3L409.4,935.3L411.3,933.3L413.1,931.3L415,929.3L416.8,927.3L418.6,925.3L420.5,923.3L422.3,921.5L424.2,919.6L426,917.8L427.8,916.1L429.7,914.4L431.5,912.7L433.4,911.1L435.2,909.5L437,907.9L438.9,906.4L440.7,904.8L442.6,903.3L444.4,901.8L446.2,900.3L448.1,898.8L449.9,897.4L451.7,896L453.6,894.6L455.4,893.3L457.3,892L459.1,890.7L460.9,889.5L462.8,888.4L464.6,887.4L466.5,886.4L468.3,885.5L470.1,884.8L472,884.2L473.8,883.7L475.7,883.3L477.5,883L479.3,882.8L481.2,882.7L483,882.5L484.9,882.4L486.7,882.3L488.5,882.1L490.4,882L492.2,881.9L494.1,881.8L495.9,881.6L497.7,881.5L499.6,881.3L501.4,881.2L503.3,881L505.1,880.7L506.9,880.5L508.8,880.2L510.6,879.9L512.4,879.6L514.3,879.3L516.1,878.9L518,878.6L519.8,878.2L521.6,877.8L523.5,877.4L525.3,876.9L527.2,876.4L529,875.9L530.8,875.3L532.7,874.6L534.5,873.9L536.4,873L538.2,872.1L540,871L541.9,869.9L543.7,868.7L545.6,867.4L547.4,866L549.2,864.6L551.1,863.1L552.9,861.5L554.8,859.8L556.6,857.9L558.4,856L560.3,853.8L562.1,851.6L564,849.1L565.8,846.6L567.6,843.8L569.5,840.9L571.3,837.8L573.1,834.4L575,830.9L576.8,827.1L578.7,823.1L580.5,818.9L582.3,814.6L584.2,810.2L586,805.7L587.9,801.2L589.7,796.8L591.5,792.4L593.4,788L595.2,783.5L597.1,779.1L598.9,774.6L600.7,770L602.6,765.2L604.4,760.1L606.3,754.8L608.1,749.1L609.9,743.1L611.8,736.9L613.6,730.6L615.5,724.2L617.3,717.8L619.1,711.4L621,705L622.8,698.6L624.7,692.2L626.5,685.7L628.3,679.1L630.2,672.5L632,665.9L633.8,659.6L635.7,653.5L637.5,647.5L639.4,641.3L641.2,634.9L643,628.6L644.9,623L646.7,618.1L648.6,613.8L650.4,609.3L652.2,605.2L654.1,601.2L655.9,597.1L657.8,593.4L659.6,591L661.4,589.2L663.3,587.8L665.1,586.6L667,585.2L668.8,583.7L670.6,581.6L672.5,579.6L674.3,578.8L676.2,579.8L678,581.8L679.8,583.9L681.7,585.3L683.5,586.5L685.4,587.7L687.2,589.1L689,590.9L690.9,593.6L692.7,598.3L694.5,603.8L696.4,610.5L698.2,617.6L700.1,623.8L701.9,629.9L703.7,636.8L705.6,644.3L707.4,652.6L709.3,661.7L711.1,671.3L712.9,681.1L714.8,690.9L716.6,700.3L718.5,709.2L720.3,717.7L722.1,725.7L724,733.4L725.8,741L727.7,748.7L729.5,756.6L731.3,764.6L733.2,772.8L735,780.9L736.9,789.1L738.7,797.4L740.5,805.5L742.4,813.6L744.2,821.5L746.1,829.1L747.9,836.5L749.7,843.7L751.6,850.9L753.4,858L755.2,865.1L757.1,872.1L758.9,878.8L760.8,885.2L762.6,891.1L764.4,896.5L766.3,901.3L768.1,905.6L770,909.4L771.8,913L773.6,916.3L775.5,919.6L777.3,922.8L779.2,925.9L781,928.9L782.8,931.8L784.7,934.5L786.5,937L788.4,939.1L790.2,941L792,942.7L793.9,944.2L795.7,945.7L797.6,947.1L799.4,948.5L801.2,949.9L803.1,951.3L804.9,952.7L806.8,954.1L808.6,955.5L810.4,956.9L812.3,958.3L814.1,959.6L815.9,960.8L817.8,962L819.6,963.1L821.5,964.1L823.3,965.2L825.1,966.4L827,967.6L828.8,968.8L830.7,970.1L832.5,971.4L834.3,972.8L836.2,974.2L838,975.6L839.9,977L841.7,978.5L843.5,979.9L845.4,981.4L847.2,982.9L849.1,984.4L850.9,985.8L852.7,987.2L854.6,988.6L856.4,989.9L858.3,991.1L860.1,992.3L861.9,993.4L863.8,994.6L865.6,995.7L867.5,996.9L869.3,998.2L871.1,999.5L873,1000.8L874.8,1002.2L876.6,1003.6L878.5,1005L880.3,1006.5L882.2,1007.9L884,1009.3L885.8,1010.8L887.7,1012.2L889.5,1013.6L891.4,1014.8L893.2,1016L895,1017L896.9,1017.8L898.7,1018.4L900.6,1018.9L902.4,1019.3L904.2,1019.6L906.1,1019.7L907.9,1019.9L909.8,1019.9L911.6,1019.9L913.4,1019.9L915.3,1019.9L917.1,1019.8L919,1019.7L920.8,1019.5L922.6,1019.2L924.5,1018.9L926.3,1018.5L928.2,1018L930,1017.4L931.8,1016.8L933.7,1016.2L935.5,1015.5L937.3,1014.9L939.2,1014.2L941,1013.5L942.9,1012.9L944.7,1012.3L946.5,1011.6L948.4,1011L950.2,1010.3L952.1,1009.6L953.9,1008.9L955.7,1008.2L957.6,1007.4L959.4,1006.5L961.3,1005.7L963.1,1004.7L964.9,1003.8L966.8,1002.8L968.6,1001.8L970.5,1000.7L972.3,999.5L974.1,998.4L976,997.1L977.8,995.9L979.7,994.5L981.5,993.1L983.3,991.7L985.2,990.2L987,988.7L988.9,987.1L990.7,985.5L992.5,983.9L994.4,982.3L996.2,980.7L998,979L999.9,977.4L1001.7,975.8L1003.6,974.2L1005.4,972.6L1007.2,971L1009.1,969.5L1010.9,968L1012.8,966.5L1014.6,965L1016.4,963.6L1018.3,962.2L1020.1,960.9L1022,959.5L1023.8,958.2L1025.6,956.9L1027.5,955.6L1029.3,954.3L1031.2,953L1033,951.7L1034.8,950.4L1036.7,949.2L1038.5,947.9L1040.4,946.7L1042.2,945.4L1044,944.2L1045.9,943L1047.7,941.7L1049.6,940.5L1051.4,939.3L1053.2,938.1L1055.1,936.9L1056.9,935.7L1058.7,934.5L1060.6,933.3L1062.4,932.2L1064.3,931L1066.1,929.8L1067.9,928.7L1069.8,927.5L1071.6,926.4L1073.5,925.2L1075.3,924.1L1077.1,922.9L1079,921.8L1080.8,920.8L1082.7,919.7L1084.5,918.7L1086.3,917.7L1088.2,916.8L1090,915.8L1091.9,915L1093.7,914.1L1095.5,913.3L1097.4,912.5L1099.2,911.8L1101.1,911.2L1102.9,910.6L1104.7,910L1106.6,909.5L1108.4,909.1L1110.3,908.8L1112.1,908.5L1113.9,908.2L1115.8,908L1117.6,907.8L1119.4,907.6L1121.3,907.5L1123.1,907.4L1125,907.3L1126.8,907.2L1128.6,907.2L1130.5,907.2L1132.3,907.2L1134.2,907.3L1136,907.4L1137.8,907.6L1139.7,907.7L1141.5,908.1L1143.4,908.6L1145.2,909.2L1147,909.6L1148.9,909.8L1150.7,910L1152.6,909.9L1154.4,908.4L1156.2,905.7L1158.1,901.9L1159.9,897.8L1161.8,894L1163.6,890.6L1165.4,887.1L1167.3,883.8L1169.1,880.4L1171,877.2L1172.8,873.8L1174.6,870.2L1176.5,866.2L1178.3,861.7L1180.1,856.6L1182,851.2L1183.8,845.5L1185.7,839.8L1187.5,834.1L1189.3,828.5L1191.2,822.8L1193,817.1L1194.9,811.3L1196.7,805.2L1198.5,799L1200.4,792.7L1202.2,786.2L1204.1,779.5L1205.9,772.6L1207.7,765.4L1209.6,758L1211.4,750.3L1213.3,742.4L1215.1,734.3L1216.9,725.9L1218.8,717.3L1220.6,708.6L1222.5,699.7L1224.3,690.8L1226.1,681.8L1228,672.7L1229.8,663.5L1231.7,654.2L1233.5,644.6L1235.3,634.6L1237.2,624.1L1239,613.2L1240.8,602.1L1242.7,591L1244.5,580.1L1246.4,569.6L1248.2,559.4L1250,549.6L1251.9,540.1L1253.7,530.6L1255.6,521.3L1257.4,511.8L1259.2,502.3L1261.1,492.6L1262.9,482.7L1264.8,472.7L1266.6,462.7L1268.4,452.8L1270.3,443.2L1272.1,434L1274,425.3L1275.8,417.1L1277.6,409.5L1279.5,402.5L1281.3,396.2L1283.2,390.6L1285,384.7L1286.8,380.3L1288.7,377.4L1290.5,375.6L1292.4,373.7L1294.2,371.5L1296,369.6L1297.9,368.6L1299.7,369.1L1301.5,371.4L1303.4,374.2L1305.2,376.4L1307.1,378.9L1308.9,382.6L1310.7,387.9L1312.6,393.1L1314.4,399L1316.3,405.7L1318.1,413.1L1319.9,421.3L1321.8,430.2L1323.6,440L1325.5,450.7L1327.3,462.3L1329.1,474.8L1331,488.1L1332.8,502L1334.7,516.5L1336.5,531.3L1338.3,546.3L1340.2,561.7L1342,577.6L1343.9,594L1345.7,610.7L1347.5,627.6L1349.4,644.3L1351.2,660.7L1353.1,676.7L1354.9,692.4L1356.7,708.1L1358.6,724.1L1360.4,740.4L1362.2,757L1364.1,773.6L1365.9,789.9L1367.8,805.8L1369.6,821.1L1371.4,835.7L1373.3,849.7L1375.1,863L1377,875.8L1378.8,888L1380.6,900L1382.5,912.2L1384.3,924.8L1386.2,936.1L1388,945.9"/>
<path fill="#555555" d="M169.5,951L178.5,951L181.9,966L172.9,966ZM173.2,967L182.2,967L185.6,980L176.6,980ZM176.9,981L185.9,981L189.2,990L180.2,990ZM180.5,991L189.5,991L192.8,998L183.8,998ZM184.2,999L186.1,1002.7L187.9,1005.8L189.7,1008.4L191.6,1010.5L200.6,1010.5L198.7,1008.4L196.9,1005.8L195.1,1002.7L193.2,999ZM196.1,1006L197.9,1007.7L199.8,1009.1L201.6,1010.2L203.4,1011L205.3,1011.6L207.1,1011.9L208.9,1012L210.8,1011.8L212.6,1011.5L214.5,1010.9L216.3,1010.2L218.1,1009.3L220,1008.4L221.8,1007.4L223.7,1006.3L225.5,1005.2L227.3,1004L229.2,1002.8L231,1001.6L232.9,1000.4L234.7,999.2L236.5,998L238.4,996.9L240.2,995.8L242.1,994.8L243.9,993.8L245.7,992.8L247.6,991.9L249.4,991.1L251.3,990.4L253.1,989.7L254.9,989.1L256.8,988.6L258.6,988.1L260.5,987.7L262.3,987.3L264.1,987L266,986.7L267.8,986.5L269.6,986.2L271.5,986L273.3,985.8L275.2,985.6L277,985.5L278.8,985.3L280.7,985.2L282.5,985L284.4,984.9L286.2,984.8L288,984.7L289.9,984.6L291.7,984.5L293.6,984.5L295.4,984.4L297.2,984.3L299.1,984.2L300.9,984.1L302.8,984L304.6,983.9L306.4,983.7L308.3,983.5L310.1,983.3L312,983.1L313.8,982.8L315.6,982.5L317.5,982.2L319.3,981.9L321.2,981.6L323,981.3L324.8,980.9L326.7,980.5L328.5,980.2L330.3,979.8L332.2,979.3L334,978.9L335.9,978.5L337.7,978L339.5,977.5L341.4,976.9L343.2,976.4L345.1,975.8L346.9,975.2L348.7,974.5L350.6,973.8L352.4,973.1L354.3,972.3L356.1,971.5L357.9,970.7L359.8,969.9L361.6,969L363.5,968L365.3,967.1L367.1,966.1L369,965.1L370.8,964.1L372.7,963L374.5,961.8L376.3,960.6L378.2,959.3L380,958L381.9,956.6L383.7,955.1L385.5,953.6L387.4,952L389.2,950.4L391,948.8L392.9,947.1L394.7,945.4L396.6,943.7L398.4,942L400.2,940.2L402.1,938.4L403.9,936.5L403.9,945.5L402.1,947.4L400.2,949.2L398.4,951L396.6,952.7L394.7,954.4L392.9,956.1L391,957.8L389.2,959.4L387.4,961L385.5,962.6L383.7,964.1L381.9,965.6L380,967L378.2,968.3L376.3,969.6L374.5,970.8L372.7,972L370.8,973.1L369,974.1L367.1,975.1L365.3,976.1L363.5,977L361.6,978L359.8,978.9L357.9,979.7L356.1,980.5L354.3,981.3L352.4,982.1L350.6,982.8L348.7,983.5L346.9,984.2L345.1,984.8L343.2,985.4L341.4,985.9L339.5,986.5L337.7,987L335.9,987.5L334,987.9L332.2,988.3L330.3,988.8L328.5,989.2L326.7,989.5L324.8,989.9L323,990.3L321.2,990.6L319.3,990.9L317.5,991.2L315.6,991.5L313.8,991.8L312,992.1L310.1,992.3L308.3,992.5L306.4,992.7L304.6,992.9L302.8,993L300.9,993.1L299.1,993.2L297.2,993.3L295.4,993.4L293.6,993.5L291.7,993.5L289.9,993.6L288,993.7L286.2,993.8L284.4,993.9L282.5,994L280.7,994.2L278.8,994.3L277,994.5L275.2,994.6L273.3,994.8L271.5,995L269.6,995.2L267.8,995.5L266,995.7L264.1,996L262.3,996.3L260.5,996.7L258.6,997.1L256.8,997.6L254.9,998.1L253.1,998.7L251.3,999.4L249.4,1000.1L247.6,1000.9L245.7,1001.8L243.9,1002.8L242.1,1003.8L240.2,1004.8L238.4,1005.9L236.5,1007L234.7,1008.2L232.9,1009.4L231,1010.6L229.2,1011.8L227.3,1013L225.5,1014.2L223.7,1015.3L221.8,1016.4L220,1017.4L218.1,1018.3L216.3,1019.2L214.5,1019.9L212.6,1020.5L210.8,1020.8L208.9,1021L207.1,1020.9L205.3,1020.6L203.4,1020L201.6,1019.2L199.8,1018.1L197.9,1016.7L196.1,1015ZM399.4,941L401.3,939.2L403.1,937.3L404.9,935.3L406.8,933.3L408.6,931.3L410.5,929.3L412.3,927.3L414.1,925.3L416,923.3L417.8,921.5L426.8,921.5L425,923.3L423.1,925.3L421.3,927.3L419.5,929.3L417.6,931.3L415.8,933.3L413.9,935.3L412.1,937.3L410.3,939.2L408.4,941ZM422.3,917L424.2,915.1L426,913.3L427.8,911.6L429.7,909.9L431.5,908.2L433.4,906.6L435.2,905L437,903.4L438.9,901.9L440.7,900.3L442.6,898.8L444.4,897.3L446.2,895.8L448.1,894.3L449.9,892.9L451.7,891.5L453.6,890.1L455.4,888.8L457.3,887.5L459.1,886.3L460.9,885.1L462.8,884L464.6,883L466.5,882L468.3,881.1L470.1,880.2L472,879.4L473.8,878.6L475.7,877.8L477.5,877.1L479.3,876.3L481.2,875.5L483,874.7L484.9,873.8L486.7,872.9L488.5,872L490.4,871L492.2,869.9L494.1,868.9L495.9,867.8L497.7,866.7L499.6,865.6L501.4,864.5L503.3,863.4L505.1,862.1L506.9,860.7L508.8,859.2L510.6,857.5L510.6,866.5L508.8,868.2L506.9,869.7L505.1,871.1L503.3,872.4L501.4,873.5L499.6,874.6L497.7,875.7L495.9,876.8L494.1,877.9L492.2,878.9L490.4,880L488.5,881L486.7,881.9L484.9,882.8L483,883.7L481.2,884.5L479.3,885.3L477.5,886.1L475.7,886.8L473.8,887.6L472,888.4L470.1,889.2L468.3,890.1L466.5,891L464.6,892L462.8,893L460.9,894.1L459.1,895.3L457.3,896.5L455.4,897.8L453.6,899.1L451.7,900.5L449.9,901.9L448.1,903.3L446.2,904.8L444.4,906.3L442.6,907.8L440.7,909.3L438.9,910.9L437,912.4L435.2,914L433.4,915.6L431.5,917.2L429.7,918.9L427.8,920.6L426,922.3L424.2,924.1L422.3,926ZM506.1,862L507.9,860L509.8,857.8L511.6,855.3L513.5,852.6L515.3,849.7L517.1,846.7L519,843.7L520.8,840.6L522.7,837.6L524.5,834.6L526.3,831.5L528.2,828.2L530,824.9L531.9,821.3L540.9,821.3L539,824.9L537.2,828.2L535.3,831.5L533.5,834.6L531.7,837.6L529.8,840.6L528,843.7L526.1,846.7L524.3,849.7L522.5,852.6L520.6,855.3L518.8,857.8L516.9,860L515.1,862ZM532.4,820L541.4,820L546.4,810L537.4,810ZM537.8,809L546.8,809L551.9,797L542.9,797ZM543.3,796L552.3,796L555.6,788L546.6,788ZM546.9,787L555.9,787L559.3,778L550.3,778ZM550.6,777L559.6,777L562.9,767L553.9,767ZM554.2,766L563.2,766L566.6,755L557.6,755ZM557.9,754L566.9,754L570.3,742L561.3,742ZM561.6,741L570.6,741L574,728L565,728ZM565.2,727L574.2,727L577.6,713L568.6,713ZM568.9,712L577.9,712L581.3,697L572.3,697ZM572.5,696L581.5,696L585,680L576,680ZM576.2,679L585.2,679L588.7,662L579.7,662ZM579.9,661L588.9,661L592.4,644L583.4,644ZM583.6,643L592.6,643L596,626L587,626ZM587.2,625L596.2,625L597.9,617L588.9,617ZM589.1,616L598.1,616L599.7,608L590.7,608ZM590.9,607L599.9,607L601.6,598L592.6,598ZM592.8,597L601.8,597L603.4,589L594.4,589ZM594.6,588L603.6,588L605.2,580L596.2,580ZM596.4,579L605.4,579L607.1,570L598.1,570ZM598.3,569L607.3,569L608.9,561L599.9,561ZM600.1,560L609.1,560L610.8,551L601.8,551ZM601.9,550L610.9,550L612.6,541L603.6,541ZM603.8,540L612.8,540L614.4,531L605.4,531ZM605.6,530L614.6,530L616.3,520L607.3,520ZM607.5,519L616.5,519L618.1,510L609.1,510ZM609.3,509L618.3,509L620,499L611,499ZM611.1,498L620.1,498L621.8,489L612.8,489ZM613,488L622,488L623.6,479L614.6,479ZM614.8,478L623.8,478L625.5,469L616.5,469ZM616.7,468L625.7,468L627.3,459L618.3,459ZM618.5,458L627.5,458L631,443L622,443ZM622.2,442L631.2,442L634.7,427L625.7,427ZM626,426L635,426L638.3,415L629.3,415ZM629.7,414L638.7,414L642,403L633,403ZM633.3,402L642.3,402L645.7,390L636.7,390ZM637.2,389L646.2,389L649.4,382L640.4,382ZM640.4,381.9L642.2,378.4L651.2,378.4L649.4,381.9ZM646.7,373.9L648.6,372.5L650.4,370.8L652.2,369.9L654.1,368.7L655.9,367.8L657.8,367.5L659.6,368.2L661.4,369.4L663.3,370.6L665.1,372.3L667,374.1L667,383.1L665.1,381.3L663.3,379.6L661.4,378.4L659.6,377.2L657.8,376.5L655.9,376.8L654.1,377.7L652.2,378.9L650.4,379.8L648.6,381.5L646.7,382.9ZM662.5,378.6L664.3,381.5L673.3,381.5L671.5,378.6ZM664.3,382L673.3,382L678.4,395L669.4,395ZM669.8,396L678.8,396L682.3,412L673.3,412ZM673.5,413L682.5,413L684.2,424L675.2,424ZM675.3,425L684.3,425L686,436L677,436ZM677.2,437L686.2,437L687.9,449L678.9,449ZM679,450L688,450L689.7,461L680.7,461ZM680.9,462L689.9,462L693.2,474L684.2,474ZM684.5,475L693.5,475L696.9,488L687.9,488ZM688.2,489L697.2,489L698.9,502L689.9,502ZM690,503L699,503L700.7,515L691.7,515ZM691.9,516L700.9,516L702.6,530L693.6,530ZM693.7,531L702.7,531L704.4,545L695.4,545ZM695.6,546L704.6,546L706.3,560L697.3,560ZM697.4,561L706.4,561L708.1,575L699.1,575ZM699.2,576L708.2,576L710,589L701,589ZM701.1,590L710.1,590L711.8,603L702.8,603ZM702.9,604L711.9,604L713.6,617L704.6,617ZM704.8,618L713.8,618L715.5,630L706.5,630ZM706.6,631L715.6,631L717.3,643L708.3,643ZM708.4,644L717.4,644L719.1,656L710.1,656ZM710.3,657L719.3,657L721,668L712,668ZM712.1,669L721.1,669L722.8,681L713.8,681ZM714,682L723,682L724.6,693L715.6,693ZM715.8,694L724.8,694L726.5,705L717.5,705ZM717.6,706L726.6,706L728.3,717L719.3,717ZM719.5,718L728.5,718L730.2,729L721.2,729ZM721.3,730L730.3,730L732,741L723,741ZM723.2,742L732.2,742L733.8,753L724.8,753ZM725,754L734,754L735.7,764L726.7,764ZM726.8,765L735.8,765L737.5,775L728.5,775ZM728.7,776L737.7,776L739.3,786L730.3,786ZM730.5,787L739.5,787L741.2,797L732.2,797ZM732.4,798L741.4,798L743,807L734,807ZM734.2,808L743.2,808L744.8,817L735.8,817ZM736,818L745,818L746.7,827L737.7,827ZM737.9,828L746.9,828L748.5,836L739.5,836ZM739.7,837L748.7,837L752.2,853L743.2,853ZM743.4,854L752.4,854L755.9,870L746.9,870ZM747.1,871L756.1,871L759.5,885L750.5,885ZM750.7,886L759.7,886L763.1,898L754.1,898ZM754.4,899L763.4,899L766.7,908L757.7,908ZM758.1,909L767.1,909L768.5,912L759.5,912ZM759.9,913.4L761.8,917L763.6,920.2L765.5,923.2L767.3,926L769.1,928.8L771,931.6L772.8,934.5L774.7,937.4L776.5,940.2L778.3,942.8L780.2,945.3L782,947.5L783.9,949.5L792.9,949.5L791,947.5L789.2,945.3L787.3,942.8L785.5,940.2L783.7,937.4L781.8,934.5L780,931.6L778.1,928.8L776.3,926L774.5,923.2L772.6,920.2L770.8,917L768.9,913.4ZM788.4,945L790.2,946.7L792,948.4L793.9,950L795.7,951.5L797.6,953L799.4,954.5L801.2,956.1L803.1,957.6L804.9,959L806.8,960.5L808.6,962L810.4,963.4L812.3,964.8L814.1,966.3L815.9,967.7L817.8,969.1L819.6,970.5L821.5,971.9L823.3,973.2L825.1,974.5L827,975.8L828.8,977.1L830.7,978.3L832.5,979.6L834.3,980.9L836.2,982.2L838,983.5L839.9,984.7L841.7,985.9L843.5,987L845.4,988L847.2,988.9L849.1,989.8L850.9,990.6L852.7,991.3L854.6,992L856.4,992.7L858.3,993.3L860.1,993.9L861.9,994.6L863.8,995.2L865.6,995.9L867.5,996.7L869.3,997.5L871.1,998.4L873,999.4L874.8,1000.3L876.6,1001.2L878.5,1002.1L880.3,1002.8L882.2,1003.4L884,1003.9L885.8,1004.4L887.7,1004.8L889.5,1005.2L891.4,1005.5L893.2,1005.7L895,1006L896.9,1006.1L898.7,1006.3L900.6,1006.4L902.4,1006.5L904.2,1006.5L906.1,1006.6L907.9,1006.6L909.8,1006.7L911.6,1006.7L913.4,1006.7L915.3,1006.7L917.1,1006.6L919,1006.5L920.8,1006.4L922.6,1006.2L924.5,1006L926.3,1005.8L928.2,1005.5L930,1005.3L931.8,1005L933.7,1004.8L935.5,1004.6L937.3,1004.3L939.2,1004.1L941,1003.7L942.9,1003.3L944.7,1002.7L946.5,1002L948.4,1001.3L950.2,1000.4L952.1,999.6L953.9,998.7L955.7,997.8L957.6,996.9L959.4,995.9L961.3,995L963.1,994L964.9,992.9L966.8,991.9L968.6,990.8L970.5,989.6L972.3,988.5L974.1,987.2L976,986L977.8,984.7L979.7,983.3L981.5,981.9L983.3,980.5L985.2,979L987,977.4L988.9,975.8L990.7,974.2L992.5,972.6L994.4,971L996.2,969.4L998,967.8L999.9,966.2L1001.7,964.6L1003.6,963.1L1005.4,961.5L1007.2,960L1009.1,958.5L1010.9,957L1012.8,955.6L1014.6,954.2L1016.4,952.8L1018.3,951.5L1020.1,950.2L1022,948.9L1023.8,947.6L1025.6,946.3L1027.5,945.1L1029.3,943.8L1031.2,942.6L1033,941.4L1034.8,940.2L1036.7,939L1038.5,937.9L1040.4,936.7L1042.2,935.5L1044,934.3L1045.9,933.1L1047.7,932L1049.6,930.8L1051.4,929.6L1053.2,928.4L1055.1,927.2L1056.9,926L1058.7,924.8L1060.6,923.6L1062.4,922.3L1064.3,921.2L1066.1,920L1067.9,918.8L1069.8,917.6L1071.6,916.4L1073.5,915.2L1075.3,914.1L1077.1,912.9L1079,911.8L1080.8,910.7L1082.7,909.6L1084.5,908.6L1086.3,907.6L1088.2,906.7L1090,905.8L1091.9,905L1093.7,904.1L1095.5,903.4L1097.4,902.6L1099.2,901.9L1101.1,901.3L1102.9,900.7L1104.7,900.2L1106.6,899.8L1108.4,899.4L1110.3,899.1L1112.1,898.8L1113.9,898.6L1115.8,898.4L1117.6,898.2L1119.4,898.1L1121.3,898L1123.1,897.9L1125,897.9L1126.8,897.9L1128.6,897.9L1130.5,898L1132.3,898.1L1134.2,898.2L1136,898.4L1137.8,898.7L1139.7,899L1141.5,899.4L1143.4,900L1145.2,900.6L1147,901.2L1148.9,901.8L1150.7,902.2L1152.6,901.4L1152.6,910.4L1150.7,911.2L1148.9,910.8L1147,910.2L1145.2,909.6L1143.4,909L1141.5,908.4L1139.7,908L1137.8,907.7L1136,907.4L1134.2,907.2L1132.3,907.1L1130.5,907L1128.6,906.9L1126.8,906.9L1125,906.9L1123.1,906.9L1121.3,907L1119.4,907.1L1117.6,907.2L1115.8,907.4L1113.9,907.6L1112.1,907.8L1110.3,908.1L1108.4,908.4L1106.6,908.8L1104.7,909.2L1102.9,909.7L1101.1,910.3L1099.2,910.9L1097.4,911.6L1095.5,912.4L1093.7,913.1L1091.9,914L1090,914.8L1088.2,915.7L1086.3,916.6L1084.5,917.6L1082.7,918.6L1080.8,919.7L1079,920.8L1077.1,921.9L1075.3,923.1L1073.5,924.2L1071.6,925.4L1069.8,926.6L1067.9,927.8L1066.1,929L1064.3,930.2L1062.4,931.3L1060.6,932.6L1058.7,933.8L1056.9,935L1055.1,936.2L1053.2,937.4L1051.4,938.6L1049.6,939.8L1047.7,941L1045.9,942.1L1044,943.3L1042.2,944.5L1040.4,945.7L1038.5,946.9L1036.7,948L1034.8,949.2L1033,950.4L1031.2,951.6L1029.3,952.8L1027.5,954.1L1025.6,955.3L1023.8,956.6L1022,957.9L1020.1,959.2L1018.3,960.5L1016.4,961.8L1014.6,963.2L1012.8,964.6L1010.9,966L1009.1,967.5L1007.2,969L1005.4,970.5L1003.6,972.1L1001.7,973.6L999.9,975.2L998,976.8L996.2,978.4L994.4,980L992.5,981.6L990.7,983.2L988.9,984.8L987,986.4L985.2,988L983.3,989.5L981.5,990.9L979.7,992.3L977.8,993.7L976,995L974.1,996.2L972.3,997.5L970.5,998.6L968.6,999.8L966.8,1000.9L964.9,1001.9L963.1,1003L961.3,1004L959.4,1004.9L957.6,1005.9L955.7,1006.8L953.9,1007.7L952.1,1008.6L950.2,1009.4L948.4,1010.3L946.5,1011L944.7,1011.7L942.9,1012.3L941,1012.7L939.2,1013.1L937.3,1013.3L935.5,1013.6L933.7,1013.8L931.8,1014L930,1014.3L928.2,1014.5L926.3,1014.8L924.5,1015L922.6,1015.2L920.8,1015.4L919,1015.5L917.1,1015.6L915.3,1015.7L913.4,1015.7L911.6,1015.7L909.8,1015.7L907.9,1015.6L906.1,1015.6L904.2,1015.5L902.4,1015.5L900.6,1015.4L898.7,1015.3L896.9,1015.1L895,1015L893.2,1014.7L891.4,1014.5L889.5,1014.2L887.7,1013.8L885.8,1013.4L884,1012.9L882.2,1012.4L880.3,1011.8L878.5,1011.1L876.6,1010.2L874.8,1009.3L873,1008.4L871.1,1007.4L869.3,1006.5L867.5,1005.7L865.6,1004.9L863.8,1004.2L861.9,1003.6L860.1,1002.9L858.3,1002.3L856.4,1001.7L854.6,1001L852.7,1000.3L850.9,999.6L849.1,998.8L847.2,997.9L845.4,997L843.5,996L841.7,994.9L839.9,993.7L838,992.5L836.2,991.2L834.3,989.9L832.5,988.6L830.7,987.3L828.8,986.1L827,984.8L825.1,983.5L823.3,982.2L821.5,980.9L819.6,979.5L817.8,978.1L815.9,976.7L814.1,975.3L812.3,973.8L810.4,972.4L808.6,971L806.8,969.5L804.9,968L803.1,966.6L801.2,965.1L799.4,963.5L797.6,962L795.7,960.5L793.9,959L792,957.4L790.2,955.7L788.4,954ZM1148.1,905.9L1149.9,903.6L1151.7,900.2L1160.7,900.2L1158.9,903.6L1157.1,905.9ZM1152.2,899L1161.2,899L1164.4,892L1155.4,892ZM1155.4,892.5L1157.3,889.1L1159.1,885.8L1160.9,882.6L1162.8,879.3L1164.6,876.1L1166.5,872.8L1168.3,869.4L1177.3,869.4L1175.5,872.8L1173.6,876.1L1171.8,879.3L1169.9,882.6L1168.1,885.8L1166.3,889.1L1164.4,892.5ZM1168.8,868L1177.8,868L1182.8,857L1173.8,857ZM1174.2,856L1183.2,856L1186.5,847L1177.5,847ZM1177.9,846L1186.9,846L1190.2,837L1181.2,837ZM1181.5,836L1190.5,836L1193.8,826L1184.8,826ZM1185.2,825L1194.2,825L1197.5,815L1188.5,815ZM1188.8,814L1197.8,814L1201.2,803L1192.2,803ZM1192.5,802L1201.5,802L1204.9,790L1195.9,790ZM1196.2,789L1205.2,789L1208.6,777L1199.6,777ZM1199.8,776L1208.8,776L1212.2,763L1203.2,763ZM1203.5,762L1212.5,762L1215.9,748L1206.9,748ZM1207.1,747L1216.1,747L1219.6,731L1210.6,731ZM1210.8,730L1219.8,730L1223.3,714L1214.3,714ZM1214.5,713L1223.5,713L1227,697L1218,697ZM1218.2,696L1227.2,696L1230.6,679L1221.6,679ZM1221.8,678L1230.8,678L1234.3,661L1225.3,661ZM1225.5,660L1234.5,660L1236.2,652L1227.2,652ZM1227.4,651L1236.4,651L1238,643L1229,643ZM1229.2,642L1238.2,642L1239.8,633L1230.8,633ZM1231,632L1240,632L1241.7,622L1232.7,622ZM1232.8,621L1241.8,621L1243.5,611L1234.5,611ZM1234.7,610L1243.7,610L1245.3,600L1236.3,600ZM1236.5,599L1245.5,599L1247.2,589L1238.2,589ZM1238.4,588L1247.4,588L1249,579L1240,579ZM1240.2,578L1249.2,578L1250.9,568L1241.9,568ZM1242.1,567L1251.1,567L1252.7,558L1243.7,558ZM1243.9,557L1252.9,557L1254.5,548L1245.5,548ZM1245.7,547L1254.7,547L1256.4,539L1247.4,539ZM1247.6,538L1256.6,538L1258.2,530L1249.2,530ZM1249.4,529L1258.4,529L1260.1,520L1251.1,520ZM1251.3,519L1260.3,519L1261.9,511L1252.9,511ZM1253.1,510L1262.1,510L1263.7,501L1254.7,501ZM1254.9,500L1263.9,500L1265.6,492L1256.6,492ZM1256.8,491L1265.8,491L1267.4,482L1258.4,482ZM1258.6,481L1267.6,481L1269.3,472L1260.3,472ZM1260.4,471L1269.4,471L1271.1,462L1262.1,462ZM1262.3,461L1271.3,461L1272.9,452L1263.9,452ZM1264.1,451L1273.1,451L1274.8,443L1265.8,443ZM1266,442L1275,442L1276.6,433L1267.6,433ZM1267.8,432L1276.8,432L1280.3,417L1271.3,417ZM1271.5,416L1280.5,416L1284,402L1275,402ZM1275.3,401L1284.3,401L1287.7,390L1278.7,390ZM1279,389L1288,389L1291.3,380L1282.3,380ZM1282.3,380.2L1284.2,377.4L1293.2,377.4L1291.3,380.2ZM1288.7,372.9L1290.5,371.1L1290.5,380.1L1288.7,381.9ZM1286,375.6L1287.9,373.5L1289.7,371.2L1291.5,369.3L1300.5,369.3L1298.7,371.2L1296.9,373.5L1295,375.6ZM1296,364.8L1297.9,364L1299.7,365.1L1299.7,374.1L1297.9,373L1296,373.8ZM1295.2,369.6L1297,372.2L1298.9,374.9L1300.7,376.9L1302.6,379.6L1311.6,379.6L1309.7,376.9L1307.9,374.9L1306,372.2L1304.2,369.6ZM1302.6,380L1311.6,380L1314.8,388L1305.8,388ZM1306.2,389L1315.2,389L1318.6,400L1309.6,400ZM1309.9,401L1318.9,401L1322.3,414L1313.3,414ZM1313.6,415L1322.6,415L1326.1,432L1317.1,432ZM1317.3,433L1326.3,433L1327.9,442L1318.9,442ZM1319.1,443L1328.1,443L1329.8,453L1320.8,453ZM1321,454L1330,454L1331.6,465L1322.6,465ZM1322.8,466L1331.8,466L1333.5,477L1324.5,477ZM1324.6,478L1333.6,478L1335.3,491L1326.3,491ZM1326.5,492L1335.5,492L1337.2,505L1328.2,505ZM1328.3,506L1337.3,506L1339,519L1330,519ZM1330.2,520L1339.2,520L1340.9,534L1331.9,534ZM1332,535L1341,535L1342.7,549L1333.7,549ZM1333.8,550L1342.8,550L1344.6,565L1335.6,565ZM1335.7,566L1344.7,566L1346.4,581L1337.4,581ZM1337.5,582L1346.5,582L1348.2,597L1339.2,597ZM1339.4,598L1348.4,598L1350.1,614L1341.1,614ZM1341.2,615L1350.2,615L1351.9,631L1342.9,631ZM1343,632L1352,632L1353.8,648L1344.8,648ZM1344.9,649L1353.9,649L1355.6,664L1346.6,664ZM1346.7,665L1355.7,665L1357.4,680L1348.4,680ZM1348.6,681L1357.6,681L1359.3,696L1350.3,696ZM1350.4,697L1359.4,697L1361.1,711L1352.1,711ZM1352.2,712L1361.2,712L1363,727L1354,727ZM1354.1,728L1363.1,728L1364.8,744L1355.8,744ZM1355.9,745L1364.9,745L1366.6,760L1357.6,760ZM1357.7,761L1366.7,761L1368.5,777L1359.5,777ZM1359.6,778L1368.6,778L1370.3,793L1361.3,793ZM1361.4,794L1370.4,794L1372.2,809L1363.2,809ZM1363.3,810L1372.3,810L1374,824L1365,824ZM1365.1,825L1374.1,825L1375.8,839L1366.8,839ZM1366.9,840L1375.9,840L1377.6,852L1368.6,852ZM1368.8,853L1377.8,853L1379.5,865L1370.5,865ZM1370.6,866L1379.6,866L1381.3,878L1372.3,878ZM1372.5,879L1381.5,879L1383.1,890L1374.1,890ZM1374.3,891L1383.3,891L1385,902L1376,902ZM1376.1,903L1385.1,903L1386.8,914L1377.8,914ZM1378,915L1387,915L1388.7,927L1379.7,927ZM1379.8,928L1388.8,928L1390.5,938L1381.5,938ZM1381.7,939L1390.7,939L1392.3,947L1383.3,947Z"/>
<path fill="none" stroke="#555555" stroke-width="7.7" stroke-linejoin="round" d="M188.7,999L190.6,1002.7L192.4,1005.8L194.2,1008.4L196.1,1010.5L197.9,1012.2L199.8,1013.6L201.6,1014.7L203.4,1015.5L205.3,1016.1L207.1,1016.4L208.9,1016.5L210.8,1016.3L212.6,1016L214.5,1015.4L216.3,1014.7L218.1,1013.8L220,1012.9L221.8,1011.9L223.7,1010.8L225.5,1009.7L227.3,1008.5L229.2,1007.3L231,1006.1L232.9,1004.9L234.7,1003.7L236.5,1002.5L238.4,1001.4L240.2,1000.3L242.1,999.3L243.9,998.3L245.7,997.3L247.6,996.4L249.4,995.6L251.3,994.9L253.1,994.2L254.9,993.6L256.8,993.1L258.6,992.6L260.5,992.2L262.3,991.8L264.1,991.5L266,991.2L267.8,991L269.6,990.7L271.5,990.5L273.3,990.3L275.2,990.1L277,990L278.8,989.8L280.7,989.7L282.5,989.5L284.4,989.4L286.2,989.3L288,989.2L289.9,989.1L291.7,989L293.6,989L295.4,988.9L297.2,988.8L299.1,988.7L300.9,988.6L302.8,988.5L304.6,988.4L306.4,988.2L308.3,988L310.1,987.8L312,987.6L313.8,987.3L315.6,987L317.5,986.7L319.3,986.4L321.2,986.1L323,985.8L324.8,985.4L326.7,985L328.5,984.7L330.3,984.3L332.2,983.8L334,983.4L335.9,983L337.7,982.5L339.5,982L341.4,981.4L343.2,980.9L345.1,980.3L346.9,979.7L348.7,979L350.6,978.3L352.4,977.6L354.3,976.8L356.1,976L357.9,975.2L359.8,974.4L361.6,973.5L363.5,972.5L365.3,971.6L367.1,970.6L369,969.6L370.8,968.6L372.7,967.5L374.5,966.3L376.3,965.1L378.2,963.8L380,962.5L381.9,961.1L383.7,959.6L385.5,958.1L387.4,956.5L389.2,954.9L391,953.3L392.9,951.6L394.7,949.9L396.6,948.2L398.4,946.5L400.2,944.7L402.1,942.9L403.9,941L405.8,939.2L407.6,937.3L409.4,935.3L411.3,933.3L413.1,931.3L415,929.3L416.8,927.3L418.6,925.3L420.5,923.3L422.3,921.5L424.2,919.6L426,917.8L427.8,916.1L429.7,914.4L431.5,912.7L433.4,911.1L435.2,909.5L437,907.9L438.9,906.4L440.7,904.8L442.6,903.3L444.4,901.8L446.2,900.3L448.1,898.8L449.9,897.4L451.7,896L453.6,894.6L455.4,893.3L457.3,892L459.1,890.8L460.9,889.6L462.8,888.5L464.6,887.5L466.5,886.5L468.3,885.6L470.1,884.7L472,883.9L473.8,883.1L475.7,882.3L477.5,881.6L479.3,880.8L481.2,880L483,879.2L484.9,878.3L486.7,877.4L488.5,876.5L490.4,875.5L492.2,874.4L494.1,873.4L495.9,872.3L497.7,871.2L499.6,870.1L501.4,869L503.3,867.9L505.1,866.6L506.9,865.2L508.8,863.7L510.6,862L512.4,860L514.3,857.8L516.1,855.3L518,852.6L519.8,849.7L521.6,846.7L523.5,843.7L525.3,840.6L527.2,837.6L529,834.6L530.8,831.5L532.7,828.2L534.5,824.9L536.4,821.3M644.9,381.9L646.7,378.4L648.6,377L650.4,375.3L652.2,374.4L654.1,373.2L655.9,372.3L657.8,372L659.6,372.7L661.4,373.9L663.3,375.1L665.1,376.8L667,378.6L668.8,381.5M764.4,913.4L766.3,917L768.1,920.2L770,923.2L771.8,926L773.6,928.8L775.5,931.6L777.3,934.5L779.2,937.4L781,940.2L782.8,942.8L784.7,945.3L786.5,947.5L788.4,949.5L790.2,951.2L792,952.9L793.9,954.5L795.7,956L797.6,957.5L799.4,959L801.2,960.6L803.1,962.1L804.9,963.5L806.8,965L808.6,966.5L810.4,967.9L812.3,969.3L814.1,970.8L815.9,972.2L817.8,973.6L819.6,975L821.5,976.4L823.3,977.7L825.1,979L827,980.3L828.8,981.6L830.7,982.8L832.5,984.1L834.3,985.4L836.2,986.7L838,988L839.9,989.2L841.7,990.4L843.5,991.5L845.4,992.5L847.2,993.4L849.1,994.3L850.9,995.1L852.7,995.8L854.6,996.5L856.4,997.2L858.3,997.8L860.1,998.4L861.9,999.1L863.8,999.7L865.6,1000.4L867.5,1001.2L869.3,1002L871.1,1002.9L873,1003.9L874.8,1004.8L876.6,1005.7L878.5,1006.6L880.3,1007.3L882.2,1007.9L884,1008.4L885.8,1008.9L887.7,1009.3L889.5,1009.7L891.4,1010L893.2,1010.2L895,1010.5L896.9,1010.6L898.7,1010.8L900.6,1010.9L902.4,1011L904.2,1011L906.1,1011.1L907.9,1011.1L909.8,1011.2L911.6,1011.2L913.4,1011.2L915.3,1011.2L917.1,1011.1L919,1011L920.8,1010.9L922.6,1010.7L924.5,1010.5L926.3,1010.3L928.2,1010L930,1009.8L931.8,1009.5L933.7,1009.3L935.5,1009.1L937.3,1008.8L939.2,1008.6L941,1008.2L942.9,1007.8L944.7,1007.2L946.5,1006.5L948.4,1005.8L950.2,1004.9L952.1,1004.1L953.9,1003.2L955.7,1002.3L957.6,1001.4L959.4,1000.4L961.3,999.5L963.1,998.5L964.9,997.4L966.8,996.4L968.6,995.3L970.5,994.1L972.3,993L974.1,991.7L976,990.5L977.8,989.2L979.7,987.8L981.5,986.4L983.3,985L985.2,983.5L987,981.9L988.9,980.3L990.7,978.7L992.5,977.1L994.4,975.5L996.2,973.9L998,972.3L999.9,970.7L1001.7,969.1L1003.6,967.6L1005.4,966L1007.2,964.5L1009.1,963L1010.9,961.5L1012.8,960.1L1014.6,958.7L1016.4,957.3L1018.3,956L1020.1,954.7L1022,953.4L1023.8,952.1L1025.6,950.8L1027.5,949.6L1029.3,948.3L1031.2,947.1L1033,945.9L1034.8,944.7L1036.7,943.5L1038.5,942.4L1040.4,941.2L1042.2,940L1044,938.8L1045.9,937.6L1047.7,936.5L1049.6,935.3L1051.4,934.1L1053.2,932.9L1055.1,931.7L1056.9,930.5L1058.7,929.3L1060.6,928.1L1062.4,926.8L1064.3,925.7L1066.1,924.5L1067.9,923.3L1069.8,922.1L1071.6,920.9L1073.5,919.7L1075.3,918.6L1077.1,917.4L1079,916.3L1080.8,915.2L1082.7,914.1L1084.5,913.1L1086.3,912.1L1088.2,911.2L1090,910.3L1091.9,909.5L1093.7,908.6L1095.5,907.9L1097.4,907.1L1099.2,906.4L1101.1,905.8L1102.9,905.2L1104.7,904.7L1106.6,904.3L1108.4,903.9L1110.3,903.6L1112.1,903.3L1113.9,903.1L1115.8,902.9L1117.6,902.7L1119.4,902.6L1121.3,902.5L1123.1,902.4L1125,902.4L1126.8,902.4L1128.6,902.4L1130.5,902.5L1132.3,902.6L1134.2,902.7L1136,902.9L1137.8,903.2L1139.7,903.5L1141.5,903.9L1143.4,904.5L1145.2,905.1L1147,905.7L1148.9,906.3L1150.7,906.7L1152.6,905.9L1154.4,903.6L1156.2,900.2M1159.9,892.5L1161.8,889.1L1163.6,885.8L1165.4,882.6L1167.3,879.3L1169.1,876.1L1171,872.8L1172.8,869.4M1286.8,380.2L1288.7,377.4L1290.5,375.6L1292.4,373.5L1294.2,371.2L1296,369.3L1297.9,368.5L1299.7,369.6L1301.5,372.2L1303.4,374.9L1305.2,376.9L1307.1,379.6"/>
<path fill="none" stroke="#555555" stroke-width="1" d="M174,951L175.8,959.5L177.7,967.4L179.5,974.8L181.4,981.1L183.2,986.5L185,991L186.9,995.2L188.7,999L190.6,1002.7L192.4,1005.8L194.2,1008.4L196.1,1010.5L197.9,1012.2L199.8,1013.6L201.6,1014.7L203.4,1015.5L205.3,1016.1L207.1,1016.4L208.9,1016.5L210.8,1016.3L212.6,1016L214.5,1015.4L216.3,1014.7L218.1,1013.8L220,1012.9L221.8,1011.9L223.7,1010.8L225.5,1009.7L227.3,1008.5L229.2,1007.3L231,1006.1L232.9,1004.9L234.7,1003.7L236.5,1002.5L238.4,1001.4L240.2,1000.3L242.1,999.3L243.9,998.3L245.7,997.3L247.6,996.4L249.4,995.6L251.3,994.9L253.1,994.2L254.9,993.6L256.8,993.1L258.6,992.6L260.5,992.2L262.3,991.8L264.1,991.5L266,991.2L267.8,991L269.6,990.7L271.5,990.5L273.3,990.3L275.2,990.1L277,990L278.8,989.8L280.7,989.7L282.5,989.5L284.4,989.4L286.2,989.3L288,989.2L289.9,989.1L291.7,989L293.6,989L295.4,988.9L297.2,988.8L299.1,988.7L300.9,988.6L302.8,988.5L304.6,988.4L306.4,988.2L308.3,988L310.1,987.8L312,987.6L313.8,987.3L315.6,987L317.5,986.7L319.3,986.4L321.2,986.1L323,985.8L324.8,985.4L326.7,985L328.5,984.7L330.3,984.3L332.2,983.8L334,983.4L335.9,983L337.7,982.5L339.5,982L341.4,981.4L343.2,980.9L345.1,980.3L346.9,979.7L348.7,979L350.6,978.3L352.4,977.6L354.3,976.8L356.1,976L357.9,975.2L359.8,974.4L361.6,973.5L363.5,972.5L365.3,971.6L367.1,970.6L369,969.6L370.8,968.6L372.7,967.5L374.5,966.3L376.3,965.1L378.2,963.8L380,962.5L381.9,961.1L383.7,959.6L385.5,958.1L387.4,956.5L389.2,954.9L391,953.3L392.9,951.6L394.7,949.9L396.6,948.2L398.4,946.5L400.2,944.7L402.1,942.9L403.9,941L405.8,939.2L407.6,937.3L409.4,935.3L411.3,933.3L413.1,931.3L415,929.3L416.8,927.3L418.6,925.3L420.5,923.3L422.3,921.5L424.2,919.6L426,917.8L427.8,916.1L429.7,914.4L431.5,912.7L433.4,911.1L435.2,909.5L437,907.9L438.9,906.4L440.7,904.8L442.6,903.3L444.4,901.8L446.2,900.3L448.1,898.8L449.9,897.4L451.7,896L453.6,894.6L455.4,893.3L457.3,892L459.1,890.8L460.9,889.6L462.8,888.5L464.6,887.5L466.5,886.5L468.3,885.6L470.1,884.7L472,883.9L473.8,883.1L475.7,882.3L477.5,881.6L479.3,880.8L481.2,880L483,879.2L484.9,878.3L486.7,877.4L488.5,876.5L490.4,875.5L492.2,874.4L494.1,873.4L495.9,872.3L497.7,871.2L499.6,870.1L501.4,869L503.3,867.9L505.1,866.6L506.9,865.2L508.8,863.7L510.6,862L512.4,860L514.3,857.8L516.1,855.3L518,852.6L519.8,849.7L521.6,846.7L523.5,843.7L525.3,840.6L527.2,837.6L529,834.6L530.8,831.5L532.7,828.2L534.5,824.9L536.4,821.3L538.2,817.6L540,813.7L541.9,809.6L543.7,805.4L545.6,801.1L547.4,796.8L549.2,792.3L551.1,787.6L552.9,782.8L554.8,777.8L556.6,772.6L558.4,767.1L560.3,761.4L562.1,755.4L564,749.1L565.8,742.5L567.6,735.6L569.5,728.4L571.3,720.9L573.1,713.2L575,705.1L576.8,696.8L578.7,688.2L580.5,679.5L582.3,670.8L584.2,662L586,653.1L587.9,644.3L589.7,635.3L591.5,626.2L593.4,617L595.2,607.7L597.1,598.4L598.9,589.1L600.7,579.8L602.6,570.5L604.4,561.1L606.3,551.4L608.1,541.4L609.9,531L611.8,520.5L613.6,509.8L615.5,499.2L617.3,488.7L619.1,478.5L621,468.7L622.8,459.4L624.7,450.6L626.5,442.5L628.3,434.5L630.2,427.5L632,421L633.8,414.9L635.7,409L637.5,402.6L639.4,395.1L641.2,390L643,386.1L644.9,381.9L646.7,378.4L648.6,377L650.4,375.3L652.2,374.4L654.1,373.2L655.9,372.3L657.8,372L659.6,372.7L661.4,373.9L663.3,375.1L665.1,376.8L667,378.6L668.8,381.5L670.6,385.3L672.5,390L674.3,395.8L676.2,402.8L678,413L679.8,424.7L681.7,437L683.5,449.7L685.4,462.3L687.2,470L689,475.3L690.9,480.7L692.7,489.2L694.5,503.2L696.4,516.4L698.2,531.2L700.1,546.4L701.9,561.1L703.7,575.6L705.6,590.1L707.4,604.2L709.3,618L711.1,631.3L712.9,644.3L714.8,656.9L716.6,669.3L718.5,681.6L720.3,693.8L722.1,706L724,718.2L725.8,730.3L727.7,742.2L729.5,753.9L731.3,765.2L733.2,776.4L735,787.3L736.9,797.9L738.7,808.2L740.5,818.1L742.4,827.5L744.2,836.5L746.1,845.3L747.9,853.8L749.7,862.3L751.6,870.6L753.4,878.6L755.2,886.1L757.1,892.9L758.9,899.1L760.8,904.5L762.6,909.2L764.4,913.4L766.3,917L768.1,920.2L770,923.2L771.8,926L773.6,928.8L775.5,931.6L777.3,934.5L779.2,937.4L781,940.2L782.8,942.8L784.7,945.3L786.5,947.5L788.4,949.5L790.2,951.2L792,952.9L793.9,954.5L795.7,956L797.6,957.5L799.4,959L801.2,960.6L803.1,962.1L804.9,963.5L806.8,965L808.6,966.5L810.4,967.9L812.3,969.3L814.1,970.8L815.9,972.2L817.8,973.6L819.6,975L821.5,976.4L823.3,977.7L825.1,979L827,980.3L828.8,981.6L830.7,982.8L832.5,984.1L834.3,985.4L836.2,986.7L838,988L839.9,989.2L841.7,990.4L843.5,991.5L845.4,992.5L847.2,993.4L849.1,994.3L850.9,995.1L852.7,995.8L854.6,996.5L856.4,997.2L858.3,997.8L860.1,998.4L861.9,999.1L863.8,999.7L865.6,1000.4L867.5,1001.2L869.3,1002L871.1,1002.9L873,1003.9L874.8,1004.8L876.6,1005.7L878.5,1006.6L880.3,1007.3L882.2,1007.9L884,1008.4L885.8,1008.9L887.7,1009.3L889.5,1009.7L891.4,1010L893.2,1010.2L895,1010.5L896.9,1010.6L898.7,1010.8L900.6,1010.9L902.4,1011L904.2,1011L906.1,1011.1L907.9,1011.1L909.8,1011.2L911.6,1011.2L913.4,1011.2L915.3,1011.2L917.1,1011.1L919,1011L920.8,1010.9L922.6,1010.7L924.5,1010.5L926.3,1010.3L928.2,1010L930,1009.8L931.8,1009.5L933.7,1009.3L935.5,1009.1L937.3,1008.8L939.2,1008.6L941,1008.2L942.9,1007.8L944.7,1007.2L946.5,1006.5L948.4,1005.8L950.2,1004.9L952.1,1004.1L953.9,1003.2L955.7,1002.3L957.6,1001.4L959.4,1000.4L961.3,999.5L963.1,998.5L964.9,997.4L966.8,996.4L968.6,995.3L970.5,994.1L972.3,993L974.1,991.7L976,990.5L977.8,989.2L979.7,987.8L981.5,986.4L983.3,985L985.2,983.5L987,981.9L988.9,980.3L990.7,978.7L992.5,977.1L994.4,975.5L996.2,973.9L998,972.3L999.9,970.7L1001.7,969.1L1003.6,967.6L1005.4,966L1007.2,964.5L1009.1,963L1010.9,961.5L1012.8,960.1L1014.6,958.7L1016.4,957.3L1018.3,956L1020.1,954.7L1022,953.4L1023.8,952.1L1025.6,950.8L1027.5,949.6L1029.3,948.3L1031.2,947.1L1033,945.9L1034.8,944.7L1036.7,943.5L1038.5,942.4L1040.4,941.2L1042.2,940L1044,938.8L1045.9,937.6L1047.7,936.5L1049.6,935.3L1051.4,934.1L1053.2,932.9L1055.1,931.7L1056.9,930.5L1058.7,929.3L1060.6,928.1L1062.4,926.8L1064.3,925.7L1066.1,924.5L1067.9,923.3L1069.8,922.1L1071.6,920.9L1073.5,919.7L1075.3,918.6L1077.1,917.4L1079,916.3L1080.8,915.2L1082.7,914.1L1084.5,913.1L1086.3,912.1L1088.2,911.2L1090,910.3L1091.9,909.5L1093.7,908.6L1095.5,907.9L1097.4,907.1L1099.2,906.4L1101.1,905.8L1102.9,905.2L1104.7,904.7L1106.6,904.3L1108.4,903.9L1110.3,903.6L1112.1,903.3L1113.9,903.1L1115.8,902.9L1117.6,902.7L1119.4,902.6L1121.3,902.5L1123.1,902.4L1125,902.4L1126.8,902.4L1128.6,902.4L1130.5,902.5L1132.3,902.6L1134.2,902.7L1136,902.9L1137.8,903.2L1139.7,903.5L1141.5,903.9L1143.4,904.5L1145.2,905.1L1147,905.7L1148.9,906.3L1150.7,906.7L1152.6,905.9L1154.4,903.6L1156.2,900.2L1158.1,896.3L1159.9,892.5L1161.8,889.1L1163.6,885.8L1165.4,882.6L1167.3,879.3L1169.1,876.1L1171,872.8L1172.8,869.4L1174.6,865.6L1176.5,861.5L1178.3,857.1L1180.1,852.3L1182,847.3L1183.8,842.2L1185.7,836.9L1187.5,831.6L1189.3,826.1L1191.2,820.4L1193,814.7L1194.9,808.7L1196.7,802.7L1198.5,796.4L1200.4,790.1L1202.2,783.5L1204.1,776.8L1205.9,769.9L1207.7,762.7L1209.6,755.2L1211.4,747.5L1213.3,739.6L1215.1,731.4L1216.9,723L1218.8,714.5L1220.6,705.8L1222.5,697.1L1224.3,688.2L1226.1,679.3L1228,670.3L1229.8,661.3L1231.7,652L1233.5,642.5L1235.3,632.6L1237.2,622.1L1239,611.3L1240.8,600.3L1242.7,589.3L1244.5,578.6L1246.4,568.2L1248.2,558.2L1250,548.4L1251.9,539L1253.7,529.6L1255.6,520.2L1257.4,510.9L1259.2,501.4L1261.1,491.7L1262.9,481.8L1264.8,471.9L1266.6,461.9L1268.4,452.1L1270.3,442.5L1272.1,433.4L1274,424.7L1275.8,416.6L1277.6,409.1L1279.5,402.2L1281.3,395.9L1283.2,390.3L1285,384.5L1286.8,380.2L1288.7,377.4L1290.5,375.6L1292.4,373.5L1294.2,371.2L1296,369.3L1297.9,368.5L1299.7,369.6L1301.5,372.2L1303.4,374.9L1305.2,376.9L1307.1,379.6L1308.9,383.6L1310.7,389.2L1312.6,394.6L1314.4,400.7L1316.3,407.6L1318.1,415.2L1319.9,423.6L1321.8,432.8L1323.6,442.8L1325.5,453.7L1327.3,465.6L1329.1,478.3L1331,491.8L1332.8,505.9L1334.7,520.5L1336.5,535.3L1338.3,550.5L1340.2,566L1342,582L1343.9,598.5L1345.7,615.3L1347.5,632.2L1349.4,648.8L1351.2,665.1L1353.1,680.9L1354.9,696.6L1356.7,712.4L1358.6,728.5L1360.4,744.9L1362.2,761.5L1364.1,778L1365.9,794.3L1367.8,810L1369.6,825.1L1371.4,839.5L1373.3,853.3L1375.1,866.5L1377,879.1L1378.8,891.3L1380.6,903.3L1382.5,915.4L1384.3,928L1386.2,938.9L1388,948.4"/>
<path fill="#ff8000" d="M169.5,951L178.5,951L181.9,966L172.9,966ZM173.2,967L182.2,967L185.6,980L176.6,980ZM176.9,981L185.9,981L189.2,990L180.2,990ZM180.5,991L189.5,991L192.8,998L183.8,998ZM184.2,999L186.1,1002.7L187.9,1005.8L189.7,1008.4L191.6,1010.5L200.6,1010.5L198.7,1008.4L196.9,1005.8L195.1,1002.7L193.2,999ZM196.1,1006L197.9,1007.7L199.8,1009.1L201.6,1010.2L203.4,1011L205.3,1011.6L207.1,1011.9L208.9,1012L210.8,1011.8L212.6,1011.5L214.5,1010.9L216.3,1010.2L218.1,1009.3L220,1008.4L221.8,1007.4L223.7,1006.3L225.5,1005.2L227.3,1004L229.2,1002.8L231,1001.6L232.9,1000.4L234.7,999.2L236.5,998L238.4,996.9L240.2,995.8L242.1,994.8L243.9,993.8L245.7,992.8L247.6,991.9L249.4,991.1L251.3,990.4L253.1,989.7L254.9,989.1L256.8,988.6L258.6,988.1L260.5,987.7L262.3,987.3L264.1,987L266,986.7L267.8,986.5L269.6,986.2L271.5,986L273.3,985.8L275.2,985.6L277,985.5L278.8,985.3L280.7,985.2L282.5,985L284.4,984.9L286.2,984.8L288,984.7L289.9,984.6L291.7,984.5L293.6,984.5L295.4,984.4L297.2,984.3L299.1,984.2L300.9,984.1L302.8,984L304.6,983.9L306.4,983.7L308.3,983.5L310.1,983.3L312,983.1L313.8,982.8L315.6,982.5L317.5,982.2L319.3,981.9L321.2,981.6L323,981.3L324.8,980.9L326.7,980.5L328.5,980.2L330.3,979.8L332.2,979.3L334,978.9L335.9,978.5L337.7,978L339.5,977.5L341.4,976.9L343.2,976.4L345.1,975.8L346.9,975.2L348.7,974.5L350.6,973.8L352.4,973.1L354.3,972.3L356.1,971.5L357.9,970.7L359.8,969.9L361.6,969L363.5,968L365.3,967.1L367.1,966.1L369,965.1L370.8,964.1L372.7,963L374.5,961.8L376.3,960.6L378.2,959.3L380,958L381.9,956.6L383.7,955.1L385.5,953.6L387.4,952L389.2,950.4L391,948.8L392.9,947.1L394.7,945.4L396.6,943.7L398.4,942L400.2,940.2L402.1,938.4L403.9,936.5L403.9,945.5L402.1,947.4L400.2,949.2L398.4,951L396.6,952.7L394.7,954.4L392.9,956.1L391,957.8L389.2,959.4L387.4,961L385.5,962.6L383.7,964.1L381.9,965.6L380,967L378.2,968.3L376.3,969.6L374.5,970.8L372.7,972L370.8,973.1L369,974.1L367.1,975.1L365.3,976.1L363.5,977L361.6,978L359.8,978.9L357.9,979.7L356.1,980.5L354.3,981.3L352.4,982.1L350.6,982.8L348.7,983.5L346.9,984.2L345.1,984.8L343.2,985.4L341.4,985.9L339.5,986.5L337.7,987L335.9,987.5L334,987.9L332.2,988.3L330.3,988.8L328.5,989.2L326.7,989.5L324.8,989.9L323,990.3L321.2,990.6L319.3,990.9L317.5,991.2L315.6,991.5L313.8,991.8L312,992.1L310.1,992.3L308.3,992.5L306.4,992.7L304.6,992.9L302.8,993L300.9,993.1L299.1,993.2L297.2,993.3L295.4,993.4L293.6,993.5L291.7,993.5L289.9,993.6L288,993.7L286.2,993.8L284.4,993.9L282.5,994L280.7,994.2L278.8,994.3L277,994.5L275.2,994.6L273.3,994.8L271.5,995L269.6,995.2L267.8,995.5L266,995.7L264.1,996L262.3,996.3L260.5,996.7L258.6,997.1L256.8,997.6L254.9,998.1L253.1,998.7L251.3,999.4L249.4,1000.1L247.6,1000.9L245.7,1001.8L243.9,1002.8L242.1,1003.8L240.2,1004.8L238.4,1005.9L236.5,1007L234.7,1008.2L232.9,1009.4L231,1010.6L229.2,1011.8L227.3,1013L225.5,1014.2L223.7,1015.3L221.8,1016.4L220,1017.4L218.1,1018.3L216.3,1019.2L214.5,1019.9L212.6,1020.5L210.8,1020.8L208.9,1021L207.1,1020.9L205.3,1020.6L203.4,1020L201.6,1019.2L199.8,1018.1L197.9,1016.7L196.1,1015ZM399.4,941L401.3,939.2L403.1,937.3L404.9,935.3L406.8,933.3L408.6,931.3L410.5,929.3L412.3,927.3L414.1,925.3L416,923.4L425,923.4L423.1,925.3L421.3,927.3L419.5,929.3L417.6,931.3L415.8,933.3L413.9,935.3L412.1,937.3L410.3,939.2L408.4,941ZM420.5,918.9L422.3,917.1L424.2,915.3L426,913.6L427.8,912L429.7,910.3L431.5,908.7L433.4,907.1L435.2,905.4L437,903.7L438.9,901.9L438.9,910.9L437,912.7L435.2,914.4L433.4,916.1L431.5,917.7L429.7,919.3L427.8,921L426,922.6L424.2,924.3L422.3,926.1L420.5,927.9ZM434.4,906.4L436.2,904.5L438.1,902.5L439.9,900.4L441.7,898.2L443.6,896L445.4,893.7L447.2,891.5L449.1,889.3L450.9,887.2L452.8,885.3L454.6,883.4L463.6,883.4L461.8,885.3L459.9,887.2L458.1,889.3L456.2,891.5L454.4,893.7L452.6,896L450.7,898.2L448.9,900.4L447.1,902.5L445.2,904.5L443.4,906.4ZM459.1,878.9L460.9,877.2L462.8,875.5L464.6,873.8L466.5,872.2L468.3,870.5L470.1,868.7L470.1,877.7L468.3,879.5L466.5,881.2L464.6,882.8L462.8,884.5L460.9,886.2L459.1,887.9ZM465.6,873.2L467.5,871.3L469.3,869.3L471.2,867.1L473,864.8L474.8,862.4L476.7,859.9L478.5,857.4L480.4,854.8L482.2,852.2L484,849.4L485.9,846.6L487.7,843.7L489.6,840.7L491.4,837.5L493.2,834.1L495.1,830.6L504.1,830.6L502.2,834.1L500.4,837.5L498.6,840.7L496.7,843.7L494.9,846.6L493,849.4L491.2,852.2L489.4,854.8L487.5,857.4L485.7,859.9L483.8,862.4L482,864.8L480.2,867.1L478.3,869.3L476.5,871.3L474.6,873.2ZM495.5,830L504.5,830L509.6,819L500.6,819ZM501,818L510,818L515.1,806L506.1,806ZM506.5,805L515.5,805L520.6,793L511.6,793ZM512,792L521,792L524.3,783L515.3,783ZM515.6,782L524.6,782L528,771L519,771ZM519.3,770L528.3,770L531.7,759L522.7,759ZM522.9,758L531.9,758L535.3,745L526.3,745ZM526.6,744L535.6,744L539,729L530,729ZM530.3,728L539.3,728L542.7,713L533.7,713ZM533.9,712L542.9,712L546.4,695L537.4,695ZM537.6,694L546.6,694L548.2,686L539.2,686ZM539.4,685L548.4,685L550.1,676L541.1,676ZM541.2,675L550.2,675L551.9,666L542.9,666ZM543.1,665L552.1,665L553.7,656L544.7,656ZM544.9,655L553.9,655L555.6,645L546.6,645ZM546.7,644L555.7,644L557.4,634L548.4,634ZM548.6,633L557.6,633L559.3,622L550.3,622ZM550.4,621L559.4,621L561.1,610L552.1,610ZM552.2,609L561.2,609L562.9,598L553.9,598ZM554.1,597L563.1,597L564.8,585L555.8,585ZM555.9,584L564.9,584L566.6,572L557.6,572ZM557.8,571L566.8,571L568.5,559L559.5,559ZM559.6,558L568.6,558L570.3,545L561.3,545ZM561.4,544L570.4,544L572.1,532L563.1,532ZM563.3,531L572.3,531L574,518L565,518ZM565.1,517L574.1,517L575.8,504L566.8,504ZM566.9,503L575.9,503L577.6,490L568.6,490ZM568.8,489L577.8,489L579.5,476L570.5,476ZM570.6,475L579.6,475L581.3,462L572.3,462ZM572.5,461L581.5,461L583.2,448L574.2,448ZM574.3,447L583.3,447L585,434L576,434ZM576.1,433L585.1,433L586.8,419L577.8,419ZM578,418L587,418L588.7,405L579.7,405ZM579.8,404L588.8,404L590.5,391L581.5,391ZM581.7,390L590.7,390L592.4,377L583.4,377ZM583.5,376L592.5,376L594.2,362L585.2,362ZM585.3,361L594.3,361L596,347L587,347ZM587.2,346L596.2,346L597.9,332L588.9,332ZM589,331L598,331L599.7,316L590.7,316ZM590.8,315L599.8,315L601.6,301L592.6,301ZM592.7,300L601.7,300L603.4,286L594.4,286ZM594.5,285L603.5,285L605.2,272L596.2,272ZM596.4,271L605.4,271L607.1,258L598.1,258ZM598.2,257L607.2,257L608.9,245L599.9,245ZM600.1,244L609.1,244L610.8,233L601.8,233ZM601.9,232L610.9,232L612.6,221L603.6,221ZM603.8,220L612.8,220L614.4,209L605.4,209ZM605.6,208L614.6,208L616.3,198L607.3,198ZM607.4,197L616.4,197L618.1,187L609.1,187ZM609.3,186L618.3,186L620,177L611,177ZM611.1,176L620.1,176L621.8,167L612.8,167ZM613,166L622,166L623.6,158L614.6,158ZM614.9,157L623.9,157L627.3,142L618.3,142ZM618.6,141L627.6,141L631,129L622,129ZM622.4,128L631.4,128L634.7,119L625.7,119ZM626.1,118L635.1,118L636.5,115L627.5,115ZM627.5,114.5L629.3,112.3L638.3,112.3L636.5,114.5ZM633.8,107.8L635.7,106.5L637.5,104.7L639.4,103.5L641.2,104.7L641.2,113.7L639.4,112.5L637.5,113.7L635.7,115.5L633.8,116.8ZM636.7,109.2L638.5,111.1L647.5,111.1L645.7,109.2ZM643,106.6L644.9,108.3L644.9,117.3L643,115.6ZM640.4,112.8L642.2,116.2L651.2,116.2L649.4,112.8ZM642.2,116L651.2,116L654.6,126L645.6,126ZM645.9,127L654.9,127L658.4,143L649.4,143ZM649.6,144L658.6,144L660.2,152L651.2,152ZM651.4,153L660.4,153L662.1,162L653.1,162ZM653.3,163L662.3,163L663.9,173L654.9,173ZM655.1,174L664.1,174L665.8,184L656.8,184ZM656.9,185L665.9,185L667.6,197L658.6,197ZM658.8,198L667.8,198L669.5,212L660.5,212ZM660.6,213L669.6,213L671.3,227L662.3,227ZM662.5,228L671.5,228L673.2,242L664.2,242ZM664.3,243L673.3,243L675,260L666,260ZM666.1,261L675.1,261L676.9,276L667.9,276ZM668,277L677,277L678.7,292L669.7,292ZM669.8,293L678.8,293L680.5,309L671.5,309ZM671.7,310L680.7,310L682.4,330L673.4,330ZM673.5,331L682.5,331L684.2,351L675.2,351ZM675.3,352L684.3,352L686,365L677,365ZM677.2,366L686.2,366L687.9,381L678.9,381ZM679,382L688,382L689.8,401L680.8,401ZM680.9,402L689.9,402L691.6,423L682.6,423ZM682.7,424L691.7,424L693.4,443L684.4,443ZM684.5,444L693.5,444L695.3,472L686.3,472ZM686.4,473L695.4,473L697.1,491L688.1,491ZM688.2,492L697.2,492L698.9,502L689.9,502ZM690,503L699,503L700.7,514L691.7,514ZM691.9,515L700.9,515L702.6,537L693.6,537ZM693.7,538L702.7,538L704.5,556L695.5,556ZM695.6,557L704.6,557L706.3,575L697.3,575ZM697.4,576L706.4,576L708.1,594L699.1,594ZM699.2,595L708.2,595L710,612L701,612ZM701.1,613L710.1,613L711.8,630L702.8,630ZM702.9,631L711.9,631L713.7,648L704.7,648ZM704.8,649L713.8,649L715.5,666L706.5,666ZM706.6,667L715.6,667L717.3,684L708.3,684ZM708.4,685L717.4,685L719.2,701L710.2,701ZM710.3,702L719.3,702L721,718L712,718ZM712.1,719L721.1,719L722.8,733L713.8,733ZM714,734L723,734L724.7,748L715.7,748ZM715.8,749L724.8,749L726.5,761L717.5,761ZM717.6,762L726.6,762L728.3,774L719.3,774ZM719.5,775L728.5,775L730.2,786L721.2,786ZM721.3,787L730.3,787L732,798L723,798ZM723.2,799L732.2,799L733.8,809L724.8,809ZM725,810L734,810L735.7,820L726.7,820ZM726.8,821L735.8,821L737.5,830L728.5,830ZM728.7,831L737.7,831L739.3,840L730.3,840ZM730.5,841L739.5,841L741.2,849L732.2,849ZM732.4,850L741.4,850L744.8,866L735.8,866ZM736,867L745,867L748.5,881L739.5,881ZM739.7,882L748.7,882L752.1,895L743.1,895ZM743.4,896L752.4,896L755.8,907L746.8,907ZM747.1,908L756.1,908L759.4,919L750.4,919ZM750.7,920L759.7,920L763.1,929L754.1,929ZM754.4,930L763.4,930L768.5,941L759.5,941ZM759.9,941.8L761.8,945.2L763.6,948.4L765.5,951.3L767.3,953.9L769.1,956.4L771,958.7L772.8,960.9L774.7,962.9L776.5,964.8L785.5,964.8L783.7,962.9L781.8,960.9L780,958.7L778.1,956.4L776.3,953.9L774.5,951.3L772.6,948.4L770.8,945.2L768.9,941.8ZM781,960.3L782.8,962L784.7,963.7L786.5,965.2L788.4,966.6L790.2,968L792,969.3L793.9,970.6L795.7,971.8L797.6,973.1L799.4,974.4L801.2,975.7L803.1,976.9L804.9,978.2L806.8,979.3L808.6,980.4L810.4,981.4L812.3,982.4L814.1,983.3L815.9,984.2L817.8,985L819.6,985.8L821.5,986.7L823.3,987.5L825.1,988.3L827,989.2L828.8,990L830.7,990.7L832.5,991.5L834.3,992.2L836.2,992.9L838,993.6L839.9,994.2L841.7,994.7L843.5,995.2L845.4,995.6L847.2,995.9L849.1,996.2L850.9,996.5L852.7,996.8L854.6,997L856.4,997.3L858.3,997.5L860.1,997.8L861.9,998L863.8,998.3L865.6,998.6L867.5,998.8L869.3,999L871.1,999.2L873,999.4L874.8,999.6L876.6,999.7L878.5,999.9L880.3,1000L882.2,1000.2L884,1000.4L885.8,1000.6L887.7,1000.8L889.5,1001.1L891.4,1001.4L893.2,1001.7L895,1002L896.9,1002.4L898.7,1002.7L900.6,1003L902.4,1003.3L904.2,1003.6L906.1,1003.8L907.9,1004.1L909.8,1004.3L911.6,1004.4L913.4,1004.6L915.3,1004.7L917.1,1004.7L919,1004.7L920.8,1004.8L922.6,1004.7L924.5,1004.7L926.3,1004.5L928.2,1004.3L930,1004L931.8,1003.6L933.7,1003.1L935.5,1002.5L937.3,1001.8L939.2,1001L941,1000.1L942.9,999.2L944.7,998.3L946.5,997.3L948.4,996.2L950.2,995.2L952.1,994L953.9,992.9L955.7,991.7L957.6,990.5L959.4,989.3L961.3,988.1L963.1,986.8L964.9,985.6L966.8,984.4L968.6,983.2L970.5,982L972.3,980.8L974.1,979.6L976,978.4L977.8,977.1L979.7,975.7L981.5,974.4L983.3,972.9L985.2,971.4L987,969.9L988.9,968.3L990.7,966.7L992.5,965.2L994.4,963.6L996.2,962L998,960.5L999.9,958.9L1001.7,957.4L1003.6,955.9L1005.4,954.4L1007.2,953L1009.1,951.5L1010.9,950.1L1012.8,948.8L1014.6,947.4L1016.4,946.1L1018.3,944.9L1020.1,943.6L1022,942.4L1023.8,941.1L1025.6,939.9L1027.5,938.7L1029.3,937.4L1031.2,936.2L1033,935L1034.8,933.8L1036.7,932.6L1038.5,931.4L1040.4,930.3L1042.2,929.1L1044,927.9L1045.9,926.7L1047.7,925.6L1049.6,924.4L1051.4,923.2L1053.2,922.1L1055.1,920.9L1056.9,919.8L1058.7,918.7L1060.6,917.5L1062.4,916.4L1064.3,915.3L1066.1,914.1L1067.9,913L1069.8,911.9L1071.6,910.8L1073.5,909.7L1075.3,908.6L1077.1,907.5L1079,906.5L1080.8,905.4L1082.7,904.4L1084.5,903.5L1086.3,902.5L1088.2,901.6L1090,900.8L1091.9,899.9L1093.7,899.1L1095.5,898.4L1097.4,897.7L1099.2,897L1101.1,896.4L1102.9,895.8L1104.7,895.3L1106.6,894.9L1108.4,894.5L1110.3,894.2L1112.1,893.9L1113.9,893.7L1115.8,893.5L1117.6,893.4L1119.4,893.2L1121.3,893.1L1123.1,893L1125,893L1126.8,893L1128.6,893L1130.5,893.1L1132.3,893.2L1134.2,893.3L1136,893.5L1137.8,893.8L1139.7,894L1141.5,894.4L1143.4,895L1145.2,895.7L1147,896.3L1148.9,896.9L1150.7,897.2L1152.6,896.4L1154.4,894.6L1154.4,903.6L1152.6,905.4L1150.7,906.2L1148.9,905.9L1147,905.3L1145.2,904.7L1143.4,904L1141.5,903.4L1139.7,903L1137.8,902.8L1136,902.5L1134.2,902.3L1132.3,902.2L1130.5,902.1L1128.6,902L1126.8,902L1125,902L1123.1,902L1121.3,902.1L1119.4,902.2L1117.6,902.4L1115.8,902.5L1113.9,902.7L1112.1,902.9L1110.3,903.2L1108.4,903.5L1106.6,903.9L1104.7,904.3L1102.9,904.8L1101.1,905.4L1099.2,906L1097.4,906.7L1095.5,907.4L1093.7,908.1L1091.9,908.9L1090,909.8L1088.2,910.6L1086.3,911.5L1084.5,912.5L1082.7,913.4L1080.8,914.4L1079,915.5L1077.1,916.5L1075.3,917.6L1073.5,918.7L1071.6,919.8L1069.8,920.9L1067.9,922L1066.1,923.1L1064.3,924.3L1062.4,925.4L1060.6,926.5L1058.7,927.7L1056.9,928.8L1055.1,929.9L1053.2,931.1L1051.4,932.2L1049.6,933.4L1047.7,934.6L1045.9,935.7L1044,936.9L1042.2,938.1L1040.4,939.3L1038.5,940.4L1036.7,941.6L1034.8,942.8L1033,944L1031.2,945.2L1029.3,946.4L1027.5,947.7L1025.6,948.9L1023.8,950.1L1022,951.4L1020.1,952.6L1018.3,953.9L1016.4,955.1L1014.6,956.4L1012.8,957.8L1010.9,959.1L1009.1,960.5L1007.2,962L1005.4,963.4L1003.6,964.9L1001.7,966.4L999.9,967.9L998,969.5L996.2,971L994.4,972.6L992.5,974.2L990.7,975.7L988.9,977.3L987,978.9L985.2,980.4L983.3,981.9L981.5,983.4L979.7,984.7L977.8,986.1L976,987.4L974.1,988.6L972.3,989.8L970.5,991L968.6,992.2L966.8,993.4L964.9,994.6L963.1,995.8L961.3,997.1L959.4,998.3L957.6,999.5L955.7,1000.7L953.9,1001.9L952.1,1003L950.2,1004.2L948.4,1005.2L946.5,1006.3L944.7,1007.3L942.9,1008.2L941,1009.1L939.2,1010L937.3,1010.8L935.5,1011.5L933.7,1012.1L931.8,1012.6L930,1013L928.2,1013.3L926.3,1013.5L924.5,1013.7L922.6,1013.7L920.8,1013.8L919,1013.7L917.1,1013.7L915.3,1013.7L913.4,1013.6L911.6,1013.4L909.8,1013.3L907.9,1013.1L906.1,1012.8L904.2,1012.6L902.4,1012.3L900.6,1012L898.7,1011.7L896.9,1011.4L895,1011L893.2,1010.7L891.4,1010.4L889.5,1010.1L887.7,1009.8L885.8,1009.6L884,1009.4L882.2,1009.2L880.3,1009L878.5,1008.9L876.6,1008.7L874.8,1008.6L873,1008.4L871.1,1008.2L869.3,1008L867.5,1007.8L865.6,1007.6L863.8,1007.3L861.9,1007L860.1,1006.8L858.3,1006.5L856.4,1006.3L854.6,1006L852.7,1005.8L850.9,1005.5L849.1,1005.2L847.2,1004.9L845.4,1004.6L843.5,1004.2L841.7,1003.7L839.9,1003.2L838,1002.6L836.2,1001.9L834.3,1001.2L832.5,1000.5L830.7,999.7L828.8,999L827,998.2L825.1,997.3L823.3,996.5L821.5,995.7L819.6,994.8L817.8,994L815.9,993.2L814.1,992.3L812.3,991.4L810.4,990.4L808.6,989.4L806.8,988.3L804.9,987.2L803.1,985.9L801.2,984.7L799.4,983.4L797.6,982.1L795.7,980.8L793.9,979.6L792,978.3L790.2,977L788.4,975.6L786.5,974.2L784.7,972.7L782.8,971L781,969.3ZM1149.9,899.1L1151.7,896.8L1153.6,893.9L1155.4,890.7L1157.3,887.5L1159.1,884.1L1160.9,880.8L1162.8,877.5L1164.6,874.1L1166.5,870.7L1168.3,867.1L1177.3,867.1L1175.5,870.7L1173.6,874.1L1171.8,877.5L1169.9,880.8L1168.1,884.1L1166.3,887.5L1164.4,890.7L1162.6,893.9L1160.7,896.8L1158.9,899.1ZM1168.8,866L1177.8,866L1182.8,855L1173.8,855ZM1174.2,854L1183.2,854L1186.5,845L1177.5,845ZM1177.8,844L1186.8,844L1190.2,834L1181.2,834ZM1181.5,833L1190.5,833L1193.8,823L1184.8,823ZM1185.2,822L1194.2,822L1197.5,812L1188.5,812ZM1188.8,811L1197.8,811L1201.2,800L1192.2,800ZM1192.5,799L1201.5,799L1204.9,787L1195.9,787ZM1196.2,786L1205.2,786L1208.6,774L1199.6,774ZM1199.8,773L1208.8,773L1212.2,760L1203.2,760ZM1203.5,759L1212.5,759L1215.9,745L1206.9,745ZM1207.1,744L1216.1,744L1219.6,728L1210.6,728ZM1210.8,727L1219.8,727L1223.3,712L1214.3,712ZM1214.5,711L1223.5,711L1227,694L1218,694ZM1218.2,693L1227.2,693L1230.6,677L1221.6,677ZM1221.8,676L1230.8,676L1234.3,659L1225.3,659ZM1225.5,658L1234.5,658L1236.2,650L1227.2,650ZM1227.3,649L1236.3,649L1238,640L1229,640ZM1229.2,639L1238.2,639L1239.8,630L1230.8,630ZM1231,629L1240,629L1241.7,620L1232.7,620ZM1232.8,619L1241.8,619L1243.5,609L1234.5,609ZM1234.7,608L1243.7,608L1245.3,598L1236.3,598ZM1236.5,597L1245.5,597L1247.2,588L1238.2,588ZM1238.4,587L1247.4,587L1249,577L1240,577ZM1240.2,576L1249.2,576L1250.9,567L1241.9,567ZM1242.1,566L1251.1,566L1252.7,557L1243.7,557ZM1243.9,556L1252.9,556L1254.5,547L1245.5,547ZM1245.7,546L1254.7,546L1256.4,538L1247.4,538ZM1247.6,537L1256.6,537L1258.2,528L1249.2,528ZM1249.4,527L1258.4,527L1260.1,519L1251.1,519ZM1251.3,518L1260.3,518L1261.9,510L1252.9,510ZM1253.1,509L1262.1,509L1263.7,500L1254.7,500ZM1254.9,499L1263.9,499L1265.6,491L1256.6,491ZM1256.8,490L1265.8,490L1267.4,481L1258.4,481ZM1258.6,480L1267.6,480L1269.3,471L1260.3,471ZM1260.4,470L1269.4,470L1271.1,461L1262.1,461ZM1262.3,460L1271.3,460L1272.9,451L1263.9,451ZM1264.1,450L1273.1,450L1274.8,442L1265.8,442ZM1266,441L1275,441L1276.6,433L1267.6,433ZM1267.8,432L1276.8,432L1280.3,416L1271.3,416ZM1271.6,415L1280.6,415L1284,402L1275,402ZM1275.3,401L1284.3,401L1287.7,390L1278.7,390ZM1279,389L1288,389L1291.3,380L1282.3,380ZM1282.3,380.1L1284.2,377.4L1293.2,377.4L1291.3,380.1ZM1288.7,372.9L1290.5,371L1290.5,380L1288.7,381.9ZM1286,375.5L1287.9,373.2L1289.7,370.6L1291.5,368.8L1300.5,368.8L1298.7,370.6L1296.9,373.2L1295,375.5ZM1296,364.3L1297.9,364.4L1297.9,373.4L1296,373.3ZM1293.4,368.9L1295.2,370.9L1297,373.7L1298.9,376L1300.7,377.9L1302.6,381.1L1311.6,381.1L1309.7,377.9L1307.9,376L1306,373.7L1304.2,370.9L1302.4,368.9ZM1302.6,381L1311.6,381L1314.9,391L1305.9,391ZM1306.2,392L1315.2,392L1318.6,403L1309.6,403ZM1309.9,404L1318.9,404L1322.4,419L1313.4,419ZM1313.6,420L1322.6,420L1326.1,437L1317.1,437ZM1317.3,438L1326.3,438L1328,448L1319,448ZM1319.1,449L1328.1,449L1329.8,459L1320.8,459ZM1321,460L1330,460L1331.6,471L1322.6,471ZM1322.8,472L1331.8,472L1333.5,485L1324.5,485ZM1324.6,486L1333.6,486L1335.3,498L1326.3,498ZM1326.5,499L1335.5,499L1337.2,513L1328.2,513ZM1328.3,514L1337.3,514L1339,528L1330,528ZM1330.2,529L1339.2,529L1340.9,543L1331.9,543ZM1332,544L1341,544L1342.7,558L1333.7,558ZM1333.8,559L1342.8,559L1344.6,574L1335.6,574ZM1335.7,575L1344.7,575L1346.4,590L1337.4,590ZM1337.5,591L1346.5,591L1348.2,607L1339.2,607ZM1339.4,608L1348.4,608L1350.1,623L1341.1,623ZM1341.2,624L1350.2,624L1351.9,640L1342.9,640ZM1343,641L1352,641L1353.8,657L1344.8,657ZM1344.9,658L1353.9,658L1355.6,673L1346.6,673ZM1346.7,674L1355.7,674L1357.4,688L1348.4,688ZM1348.6,689L1357.6,689L1359.3,704L1350.3,704ZM1350.4,705L1359.4,705L1361.1,720L1352.1,720ZM1352.2,721L1361.2,721L1363,736L1354,736ZM1354.1,737L1363.1,737L1364.8,753L1355.8,753ZM1355.9,754L1364.9,754L1366.6,769L1357.6,769ZM1357.7,770L1366.7,770L1368.5,786L1359.5,786ZM1359.6,787L1368.6,787L1370.3,802L1361.3,802ZM1361.4,803L1370.4,803L1372.1,817L1363.1,817ZM1363.3,818L1372.3,818L1374,832L1365,832ZM1365.1,833L1374.1,833L1375.8,846L1366.8,846ZM1366.9,847L1375.9,847L1377.7,860L1368.7,860ZM1368.8,861L1377.8,861L1379.5,872L1370.5,872ZM1370.6,873L1379.6,873L1381.3,885L1372.3,885ZM1372.5,886L1381.5,886L1383.1,897L1374.1,897ZM1374.3,898L1383.3,898L1385,909L1376,909ZM1376.1,910L1385.1,910L1386.8,921L1377.8,921ZM1378,922L1387,922L1388.7,933L1379.7,933ZM1379.8,934L1388.8,934L1390.5,943L1381.5,943ZM1381.7,944L1390.7,944L1392.3,952L1383.3,952Z"/>
<path fill="none" stroke="#ff8000" stroke-width="7.7" stroke-linejoin="round" d="M188.7,999L190.6,1002.7L192.4,1005.8L194.2,1008.4L196.1,1010.5L197.9,1012.2L199.8,1013.6L201.6,1014.7L203.4,1015.5L205.3,1016.1L207.1,1016.4L208.9,1016.5L210.8,1016.3L212.6,1016L214.5,1015.4L216.3,1014.7L218.1,1013.8L220,1012.9L221.8,1011.9L223.7,1010.8L225.5,1009.7L227.3,1008.5L229.2,1007.3L231,1006.1L232.9,1004.9L234.7,1003.7L236.5,1002.5L238.4,1001.4L240.2,1000.3L242.1,999.3L243.9,998.3L245.7,997.3L247.6,996.4L249.4,995.6L251.3,994.9L253.1,994.2L254.9,993.6L256.8,993.1L258.6,992.6L260.5,992.2L262.3,991.8L264.1,991.5L266,991.2L267.8,991L269.6,990.7L271.5,990.5L273.3,990.3L275.2,990.1L277,990L278.8,989.8L280.7,989.7L282.5,989.5L284.4,989.4L286.2,989.3L288,989.2L289.9,989.1L291.7,989L293.6,989L295.4,988.9L297.2,988.8L299.1,988.7L300.9,988.6L302.8,988.5L304.6,988.4L306.4,988.2L308.3,988L310.1,987.8L312,987.6L313.8,987.3L315.6,987L317.5,986.7L319.3,986.4L321.2,986.1L323,985.8L324.8,985.4L326.7,985L328.5,984.7L330.3,984.3L332.2,983.8L334,983.4L335.9,983L337.7,982.5L339.5,982L341.4,981.4L343.2,980.9L345.1,980.3L346.9,979.7L348.7,979L350.6,978.3L352.4,977.6L354.3,976.8L356.1,976L357.9,975.2L359.8,974.4L361.6,973.5L363.5,972.5L365.3,971.6L367.1,970.6L369,969.6L370.8,968.6L372.7,967.5L374.5,966.3L376.3,965.1L378.2,963.8L380,962.5L381.9,961.1L383.7,959.6L385.5,958.1L387.4,956.5L389.2,954.9L391,953.3L392.9,951.6L394.7,949.9L396.6,948.2L398.4,946.5L400.2,944.7L402.1,942.9L403.9,941L405.8,939.2L407.6,937.3L409.4,935.3L411.3,933.3L413.1,931.3L415,929.3L416.8,927.3L418.6,925.3L420.5,923.4L422.3,921.6L424.2,919.8L426,918.1L427.8,916.5L429.7,914.8L431.5,913.2L433.4,911.6L435.2,909.9L437,908.2L438.9,906.4L440.7,904.5L442.6,902.5L444.4,900.4L446.2,898.2L448.1,896L449.9,893.7L451.7,891.5L453.6,889.3L455.4,887.2L457.3,885.3L459.1,883.4L460.9,881.7L462.8,880L464.6,878.3L466.5,876.7L468.3,875L470.1,873.2L472,871.3L473.8,869.3L475.7,867.1L477.5,864.8L479.3,862.4L481.2,859.9L483,857.4L484.9,854.8L486.7,852.2L488.5,849.4L490.4,846.6L492.2,843.7L494.1,840.7L495.9,837.5L497.7,834.1L499.6,830.6M632,114.5L633.8,112.3L635.7,111L637.5,109.2L639.4,108L641.2,109.2L643,111.1L644.9,112.8L646.7,116.2M764.4,941.8L766.3,945.2L768.1,948.4L770,951.3L771.8,953.9L773.6,956.4L775.5,958.7L777.3,960.9L779.2,962.9L781,964.8L782.8,966.5L784.7,968.2L786.5,969.7L788.4,971.1L790.2,972.5L792,973.8L793.9,975.1L795.7,976.3L797.6,977.6L799.4,978.9L801.2,980.2L803.1,981.4L804.9,982.7L806.8,983.8L808.6,984.9L810.4,985.9L812.3,986.9L814.1,987.8L815.9,988.7L817.8,989.5L819.6,990.3L821.5,991.2L823.3,992L825.1,992.8L827,993.7L828.8,994.5L830.7,995.2L832.5,996L834.3,996.7L836.2,997.4L838,998.1L839.9,998.7L841.7,999.2L843.5,999.7L845.4,1000.1L847.2,1000.4L849.1,1000.7L850.9,1001L852.7,1001.3L854.6,1001.5L856.4,1001.8L858.3,1002L860.1,1002.3L861.9,1002.5L863.8,1002.8L865.6,1003.1L867.5,1003.3L869.3,1003.5L871.1,1003.7L873,1003.9L874.8,1004.1L876.6,1004.2L878.5,1004.4L880.3,1004.5L882.2,1004.7L884,1004.9L885.8,1005.1L887.7,1005.3L889.5,1005.6L891.4,1005.9L893.2,1006.2L895,1006.5L896.9,1006.9L898.7,1007.2L900.6,1007.5L902.4,1007.8L904.2,1008.1L906.1,1008.3L907.9,1008.6L909.8,1008.8L911.6,1008.9L913.4,1009.1L915.3,1009.2L917.1,1009.2L919,1009.2L920.8,1009.3L922.6,1009.2L924.5,1009.2L926.3,1009L928.2,1008.8L930,1008.5L931.8,1008.1L933.7,1007.6L935.5,1007L937.3,1006.3L939.2,1005.5L941,1004.6L942.9,1003.7L944.7,1002.8L946.5,1001.8L948.4,1000.7L950.2,999.7L952.1,998.5L953.9,997.4L955.7,996.2L957.6,995L959.4,993.8L961.3,992.6L963.1,991.3L964.9,990.1L966.8,988.9L968.6,987.7L970.5,986.5L972.3,985.3L974.1,984.1L976,982.9L977.8,981.6L979.7,980.2L981.5,978.9L983.3,977.4L985.2,975.9L987,974.4L988.9,972.8L990.7,971.2L992.5,969.7L994.4,968.1L996.2,966.5L998,965L999.9,963.4L1001.7,961.9L1003.6,960.4L1005.4,958.9L1007.2,957.5L1009.1,956L1010.9,954.6L1012.8,953.3L1014.6,951.9L1016.4,950.6L1018.3,949.4L1020.1,948.1L1022,946.9L1023.8,945.6L1025.6,944.4L1027.5,943.2L1029.3,941.9L1031.2,940.7L1033,939.5L1034.8,938.3L1036.7,937.1L1038.5,935.9L1040.4,934.8L1042.2,933.6L1044,932.4L1045.9,931.2L1047.7,930.1L1049.6,928.9L1051.4,927.7L1053.2,926.6L1055.1,925.4L1056.9,924.3L1058.7,923.2L1060.6,922L1062.4,920.9L1064.3,919.8L1066.1,918.6L1067.9,917.5L1069.8,916.4L1071.6,915.3L1073.5,914.2L1075.3,913.1L1077.1,912L1079,911L1080.8,909.9L1082.7,908.9L1084.5,908L1086.3,907L1088.2,906.1L1090,905.3L1091.9,904.4L1093.7,903.6L1095.5,902.9L1097.4,902.2L1099.2,901.5L1101.1,900.9L1102.9,900.3L1104.7,899.8L1106.6,899.4L1108.4,899L1110.3,898.7L1112.1,898.4L1113.9,898.2L1115.8,898L1117.6,897.9L1119.4,897.7L1121.3,897.6L1123.1,897.5L1125,897.5L1126.8,897.5L1128.6,897.5L1130.5,897.6L1132.3,897.7L1134.2,897.8L1136,898L1137.8,898.3L1139.7,898.5L1141.5,898.9L1143.4,899.5L1145.2,900.2L1147,900.8L1148.9,901.4L1150.7,901.7L1152.6,900.9L1154.4,899.1L1156.2,896.8L1158.1,893.9L1159.9,890.7L1161.8,887.5L1163.6,884.1L1165.4,880.8L1167.3,877.5L1169.1,874.1L1171,870.7L1172.8,867.1M1286.8,380.1L1288.7,377.4L1290.5,375.5L1292.4,373.2L1294.2,370.6L1296,368.8L1297.9,368.9L1299.7,370.9L1301.5,373.7L1303.4,376L1305.2,377.9L1307.1,381.1"/>
<path fill="none" stroke="#ff8000" stroke-width="1" d="M174,951L175.8,959.5L177.7,967.4L179.5,974.8L181.4,981.1L183.2,986.5L185,991L186.9,995.2L188.7,999L190.6,1002.7L192.4,1005.8L194.2,1008.4L196.1,1010.5L197.9,1012.2L199.8,1013.6L201.6,1014.7L203.4,1015.5L205.3,1016.1L207.1,1016.4L208.9,1016.5L210.8,1016.3L212.6,1016L214.5,1015.4L216.3,1014.7L218.1,1013.8L220,1012.9L221.8,1011.9L223.7,1010.8L225.5,1009.7L227.3,1008.5L229.2,1007.3L231,1006.1L232.9,1004.9L234.7,1003.7L236.5,1002.5L238.4,1001.4L240.2,1000.3L242.1,999.3L243.9,998.3L245.7,997.3L247.6,996.4L249.4,995.6L251.3,994.9L253.1,994.2L254.9,993.6L256.8,993.1L258.6,992.6L260.5,992.2L262.3,991.8L264.1,991.5L266,991.2L267.8,991L269.6,990.7L271.5,990.5L273.3,990.3L275.2,990.1L277,990L278.8,989.8L280.7,989.7L282.5,989.5L284.4,989.4L286.2,989.3L288,989.2L289.9,989.1L291.7,989L293.6,989L295.4,988.9L297.2,988.8L299.1,988.7L300.9,988.6L302.8,988.5L304.6,988.4L306.4,988.2L308.3,988L310.1,987.8L312,987.6L313.8,987.3L315.6,987L317.5,986.7L319.3,986.4L321.2,986.1L323,985.8L324.8,985.4L326.7,985L328.5,984.7L330.3,984.3L332.2,983.8L334,983.4L335.9,983L337.7,982.5L339.5,982L341.4,981.4L343.2,980.9L345.1,980.3L346.9,979.7L348.7,979L350.6,978.3L352.4,977.6L354.3,976.8L356.1,976L357.9,975.2L359.8,974.4L361.6,973.5L363.5,972.5L365.3,971.6L367.1,970.6L369,969.6L370.8,968.6L372.7,967.5L374.5,966.3L376.3,965.1L378.2,963.8L380,962.5L381.9,961.1L383.7,959.6L385.5,958.1L387.4,956.5L389.2,954.9L391,953.3L392.9,951.6L394.7,949.9L396.6,948.2L398.4,946.5L400.2,944.7L402.1,942.9L403.9,941L405.8,939.2L407.6,937.3L409.4,935.3L411.3,933.3L413.1,931.3L415,929.3L416.8,927.3L418.6,925.3L420.5,923.4L422.3,921.6L424.2,919.8L426,918.1L427.8,916.5L429.7,914.8L431.5,913.2L433.4,911.6L435.2,909.9L437,908.2L438.9,906.4L440.7,904.5L442.6,902.5L444.4,900.4L446.2,898.2L448.1,896L449.9,893.7L451.7,891.5L453.6,889.3L455.4,887.2L457.3,885.3L459.1,883.4L460.9,881.7L462.8,880L464.6,878.3L466.5,876.7L468.3,875L470.1,873.2L472,871.3L473.8,869.3L475.7,867.1L477.5,864.8L479.3,862.4L481.2,859.9L483,857.4L484.9,854.8L486.7,852.2L488.5,849.4L490.4,846.6L492.2,843.7L494.1,840.7L495.9,837.5L497.7,834.1L499.6,830.6L501.4,826.9L503.3,823L505.1,818.9L506.9,814.8L508.8,810.5L510.6,806.2L512.4,801.8L514.3,797.3L516.1,792.6L518,787.7L519.8,782.6L521.6,777.1L523.5,771.2L525.3,765L527.2,758.5L529,751.7L530.8,744.6L532.7,737.2L534.5,729.4L536.4,721.4L538.2,713L540,704.3L541.9,695.3L543.7,686L545.6,676.3L547.4,666.3L549.2,655.9L551.1,645.1L552.9,633.8L554.8,622.1L556.6,610L558.4,597.6L560.3,584.9L562.1,571.9L564,558.7L565.8,545.3L567.6,531.6L569.5,517.7L571.3,503.8L573.1,489.8L575,475.8L576.8,461.8L578.7,447.8L580.5,433.7L582.3,419.5L584.2,405.2L586,390.9L587.9,376.5L589.7,361.9L591.5,347L593.4,331.7L595.2,316.4L597.1,301.1L598.9,286.2L600.7,271.9L602.6,258.2L604.4,245.2L606.3,232.7L608.1,220.8L609.9,209.2L611.8,197.9L613.6,187.1L615.5,176.7L617.3,166.8L619.1,157.6L621,149.1L622.8,141.6L624.7,134.9L626.5,129.1L628.3,123.7L630.2,118.9L632,114.5L633.8,112.3L635.7,111L637.5,109.2L639.4,108L641.2,109.2L643,111.1L644.9,112.8L646.7,116.2L648.6,122L650.4,127.3L652.2,135.1L654.1,143.7L655.9,153.2L657.8,163.2L659.6,173.6L661.4,184.9L663.3,197.8L665.1,212.6L667,227.8L668.8,242.8L670.6,260.9L672.5,277.3L674.3,292.7L676.2,309.7L678,330.6L679.8,352.1L681.7,366.5L683.5,382.4L685.4,402L687.2,424.1L689,444.3L690.9,473.3L692.7,491.6L694.5,502.6L696.4,515L698.2,537.5L700.1,557.3L701.9,576.2L703.7,594.6L705.6,613L707.4,631.3L709.3,649.4L711.1,667.3L712.9,685L714.8,702.3L716.6,718.8L718.5,734.4L720.3,748.9L722.1,762.4L724,775.1L725.8,787.2L727.7,798.9L729.5,810.1L731.3,820.8L733.2,831.1L735,840.8L736.9,849.9L738.7,858.6L740.5,866.9L742.4,874.7L744.2,882.1L746.1,889.2L747.9,895.9L749.7,902.4L751.6,908.5L753.4,914.3L755.2,919.7L757.1,924.8L758.9,929.5L760.8,933.9L762.6,938L764.4,941.8L766.3,945.2L768.1,948.4L770,951.3L771.8,953.9L773.6,956.4L775.5,958.7L777.3,960.9L779.2,962.9L781,964.8L782.8,966.5L784.7,968.2L786.5,969.7L788.4,971.1L790.2,972.5L792,973.8L793.9,975.1L795.7,976.3L797.6,977.6L799.4,978.9L801.2,980.2L803.1,981.4L804.9,982.7L806.8,983.8L808.6,984.9L810.4,985.9L812.3,986.9L814.1,987.8L815.9,988.7L817.8,989.5L819.6,990.3L821.5,991.2L823.3,992L825.1,992.8L827,993.7L828.8,994.5L830.7,995.2L832.5,996L834.3,996.7L836.2,997.4L838,998.1L839.9,998.7L841.7,999.2L843.5,999.7L845.4,1000.1L847.2,1000.4L849.1,1000.7L850.9,1001L852.7,1001.3L854.6,1001.5L856.4,1001.8L858.3,1002L860.1,1002.3L861.9,1002.5L863.8,1002.8L865.6,1003.1L867.5,1003.3L869.3,1003.5L871.1,1003.7L873,1003.9L874.8,1004.1L876.6,1004.2L878.5,1004.4L880.3,1004.5L882.2,1004.7L884,1004.9L885.8,1005.1L887.7,1005.3L889.5,1005.6L891.4,1005.9L893.2,1006.2L895,1006.5L896.9,1006.9L898.7,1007.2L900.6,1007.5L902.4,1007.8L904.2,1008.1L906.1,1008.3L907.9,1008.6L909.8,1008.8L911.6,1008.9L913.4,1009.1L915.3,1009.2L917.1,1009.2L919,1009.2L920.8,1009.3L922.6,1009.2L924.5,1009.2L926.3,1009L928.2,1008.8L930,1008.5L931.8,1008.1L933.7,1007.6L935.5,1007L937.3,1006.3L939.2,1005.5L941,1004.6L942.9,1003.7L944.7,1002.8L946.5,1001.8L948.4,1000.7L950.2,999.7L952.1,998.5L953.9,997.4L955.7,996.2L957.6,995L959.4,993.8L961.3,992.6L963.1,991.3L964.9,990.1L966.8,988.9L968.6,987.7L970.5,986.5L972.3,985.3L974.1,984.1L976,982.9L977.8,981.6L979.7,980.2L981.5,978.9L983.3,977.4L985.2,975.9L987,974.4L988.9,972.8L990.7,971.2L992.5,969.7L994.4,968.1L996.2,966.5L998,965L999.9,963.4L1001.7,961.9L1003.6,960.4L1005.4,958.9L1007.2,957.5L1009.1,956L1010.9,954.6L1012.8,953.3L1014.6,951.9L1016.4,950.6L1018.3,949.4L1020.1,948.1L1022,946.9L1023.8,945.6L1025.6,944.4L1027.5,943.2L1029.3,941.9L1031.2,940.7L1033,939.5L1034.8,938.3L1036.7,937.1L1038.5,935.9L1040.4,934.8L1042.2,933.6L1044,932.4L1045.9,931.2L1047.7,930.1L1049.6,928.9L1051.4,927.7L1053.2,926.6L1055.1,925.4L1056.9,924.3L1058.7,923.2L1060.6,922L1062.4,920.9L1064.3,919.8L1066.1,918.6L1067.9,917.5L1069.8,916.4L1071.6,915.3L1073.5,914.2L1075.3,913.1L1077.1,912L1079,911L1080.8,909.9L1082.7,908.9L1084.5,908L1086.3,907L1088.2,906.1L1090,905.3L1091.9,904.4L1093.7,903.6L1095.5,902.9L1097.4,902.2L1099.2,901.5L1101.1,900.9L1102.9,900.3L1104.7,899.8L1106.6,899.4L1108.4,899L1110.3,898.7L1112.1,898.4L1113.9,898.2L1115.8,898L1117.6,897.9L1119.4,897.7L1121.3,897.6L1123.1,897.5L1125,897.5L1126.8,897.5L1128.6,897.5L1130.5,897.6L1132.3,897.7L1134.2,897.8L1136,898L1137.8,898.3L1139.7,898.5L1141.5,898.9L1143.4,899.5L1145.2,900.2L1147,900.8L1148.9,901.4L1150.7,901.7L1152.6,900.9L1154.4,899.1L1156.2,896.8L1158.1,893.9L1159.9,890.7L1161.8,887.5L1163.6,884.1L1165.4,880.8L1167.3,877.5L1169.1,874.1L1171,870.7L1172.8,867.1L1174.6,863.2L1176.5,859L1178.3,854.5L1180.1,849.7L1182,844.7L1183.8,839.5L1185.7,834.2L1187.5,828.9L1189.3,823.3L1191.2,817.7L1193,811.9L1194.9,806L1196.7,799.9L1198.5,793.6L1200.4,787.3L1202.2,780.7L1204.1,774L1205.9,767L1207.7,759.8L1209.6,752.3L1211.4,744.5L1213.3,736.5L1215.1,728.3L1216.9,720L1218.8,711.5L1220.6,702.9L1222.5,694.2L1224.3,685.5L1226.1,676.7L1228,667.8L1229.8,658.9L1231.7,649.8L1233.5,640.3L1235.3,630.4L1237.2,620L1239,609.3L1240.8,598.4L1242.7,587.5L1244.5,576.9L1246.4,566.7L1248.2,556.8L1250,547.2L1251.9,537.8L1253.7,528.5L1255.6,519.2L1257.4,509.8L1259.2,500.4L1261.1,490.7L1262.9,480.9L1264.8,471L1266.6,461.1L1268.4,451.3L1270.3,441.8L1272.1,432.7L1274,424.2L1275.8,416.1L1277.6,408.6L1279.5,401.8L1281.3,395.6L1283.2,390L1285,384.3L1286.8,380.1L1288.7,377.4L1290.5,375.5L1292.4,373.2L1294.2,370.6L1296,368.8L1297.9,368.9L1299.7,370.9L1301.5,373.7L1303.4,376L1305.2,377.9L1307.1,381.1L1308.9,385.9L1310.7,392L1312.6,397.8L1314.4,404.4L1316.3,411.7L1318.1,419.7L1319.9,428.5L1321.8,438.1L1323.6,448.6L1325.5,460.1L1327.3,472.4L1329.1,485.6L1331,499.4L1332.8,513.8L1334.7,528.5L1336.5,543.5L1338.3,558.9L1340.2,574.6L1342,590.9L1343.9,607.6L1345.7,624.5L1347.5,641.3L1349.4,657.7L1351.2,673.7L1353.1,689.5L1354.9,705.2L1356.7,721.1L1358.6,737.4L1360.4,753.9L1362.2,770.5L1364.1,786.9L1365.9,802.9L1367.8,818.3L1369.6,833.1L1371.4,847.2L1373.3,860.6L1375.1,873.5L1377,885.8L1378.8,897.8L1380.6,909.7L1382.5,921.8L1384.3,934.1L1386.2,944.2L1388,953"/>
</g>
<g fill="#000" shape-rendering="crispEdges">
<rect x="174" y="93" width="17" height="2"/>
<rect x="174" y="132" width="17" height="2"/>
<rect x="174" y="172" width="17" height="2"/>
<rect x="174" y="251" width="17" height="2"/>
<rect x="174" y="290" width="17" height="2"/>
<rect x="174" y="330" width="17" height="2"/>
<rect x="174" y="409" width="17" height="2"/>
<rect x="174" y="449" width="17" height="2"/>
<rect x="174" y="488" width="17" height="2"/>
<rect x="174" y="567" width="17" height="2"/>
<rect x="174" y="607" width="17" height="2"/>
<rect x="174" y="647" width="17" height="2"/>
<rect x="174" y="726" width="17" height="2"/>
<rect x="174" y="765" width="17" height="2"/>
<rect x="174" y="805" width="17" height="2"/>
<rect x="174" y="884" width="17" height="2"/>
<rect x="174" y="924" width="17" height="2"/>
<rect x="174" y="963" width="17" height="2"/>
<rect x="174" y="1042" width="17" height="2"/>
<rect x="174" y="1082" width="17" height="2"/>
<rect x="174" y="1121" width="17" height="2"/>
<rect x="234" y="1146" width="2" height="15"/>
<rect x="295" y="1146" width="2" height="15"/>
<rect x="356" y="1146" width="2" height="15"/>
<rect x="416" y="1146" width="2" height="15"/>
<rect x="538" y="1146" width="2" height="15"/>
<rect x="598" y="1146" width="2" height="15"/>
<rect x="659" y="1146" width="2" height="15"/>
<rect x="720" y="1146" width="2" height="15"/>
<rect x="841" y="1146" width="2" height="15"/>
<rect x="902" y="1146" width="2" height="15"/>
<rect x="963" y="1146" width="2" height="15"/>
<rect x="1023" y="1146" width="2" height="15"/>
<rect x="1145" y="1146" width="2" height="15"/>
<rect x="1205" y="1146" width="2" height="15"/>
<rect x="1266" y="1146" width="2" height="15"/>
<rect x="1327" y="1146" width="2" height="15"/>
<rect x="174" y="50" width="28" height="6"/>
<rect x="174" y="208" width="28" height="6"/>
<rect x="174" y="368" width="28" height="6"/>
<rect x="174" y="526" width="28" height="6"/>
<rect x="174" y="684" width="28" height="6"/>
<rect x="174" y="842" width="28" height="6"/>
<rect x="174" y="1000" width="28" height="6"/>
<rect x="171" y="1132" width="6" height="29"/>
<rect x="474" y="1132" width="6" height="29"/>
<rect x="778" y="1132" width="6" height="29"/>
<rect x="1081" y="1132" width="6" height="29"/>
<rect x="1385" y="1132" width="6" height="29"/>
<rect x="171" y="53" width="6" height="1109"/>
<rect x="174" y="1158.5" width="1214" height="6" shape-rendering="auto"/>
</g>
<g>
<text transform="translate(158 69) scale(0.952 1)" text-anchor="end" class="n">1.2</text>
<text transform="translate(158 227.4) scale(0.952 1)" text-anchor="end" class="n">1</text>
<text transform="translate(158 385.7) scale(0.952 1)" text-anchor="end" class="n">0.8</text>
<text transform="translate(158 544.1) scale(0.952 1)" text-anchor="end" class="n">0.6</text>
<text transform="translate(158 702.4) scale(0.952 1)" text-anchor="end" class="n">0.4</text>
<text transform="translate(158 860.8) scale(0.952 1)" text-anchor="end" class="n">0.2</text>
<text transform="translate(158 1019.1) scale(0.952 1)" text-anchor="end" class="n">0</text>
<text transform="translate(158 1177.5) scale(0.952 1)" text-anchor="end" class="n">-0.2</text>
<text transform="translate(174 1206.3) scale(0.952 1)" text-anchor="middle" class="n">0</text>
<text transform="translate(477.5 1206.3) scale(0.952 1)" text-anchor="middle" class="n">0.25</text>
<text transform="translate(781 1206.3) scale(0.952 1)" text-anchor="middle" class="n">0.5</text>
<text transform="translate(1084.5 1206.3) scale(0.952 1)" text-anchor="middle" class="n">0.75</text>
<text transform="translate(1388 1206.3) scale(0.952 1)" text-anchor="middle" class="n">1</text>
<text x="781.2" y="1254.5" text-anchor="middle" class="t">t/T</text>
<text transform="translate(76.5 608) rotate(-90)" text-anchor="middle" class="t">CP</text>
</g>
<g>
<rect x="801" y="205" width="195" height="9" fill="#f20000" shape-rendering="crispEdges"/>
<text transform="translate(1028.5 223.3) scale(0.96 1)" class="l">SRM</text>
<rect x="801" y="258" width="195" height="9" fill="#00d200" shape-rendering="crispEdges"/>
<text transform="translate(1028.5 275) scale(0.96 1)" class="l">PAM 2%</text>
<rect x="801" y="309" width="195" height="9" fill="#2828ff" shape-rendering="crispEdges"/>
<text transform="translate(1028.5 327.5) scale(0.96 1)" class="l">PAM 4%</text>
<rect x="801" y="360" width="195" height="9" fill="#555555" shape-rendering="crispEdges"/>
<text transform="translate(1028.5 378.7) scale(0.96 1)" class="l">PAM 6%</text>
<rect x="801" y="413" width="195" height="9" fill="#ff8000" shape-rendering="crispEdges"/>
<text transform="translate(1028.5 431.1) scale(0.96 1)" class="l">PAM 8%</text>
</g>
</svg>
</body>
</html>
